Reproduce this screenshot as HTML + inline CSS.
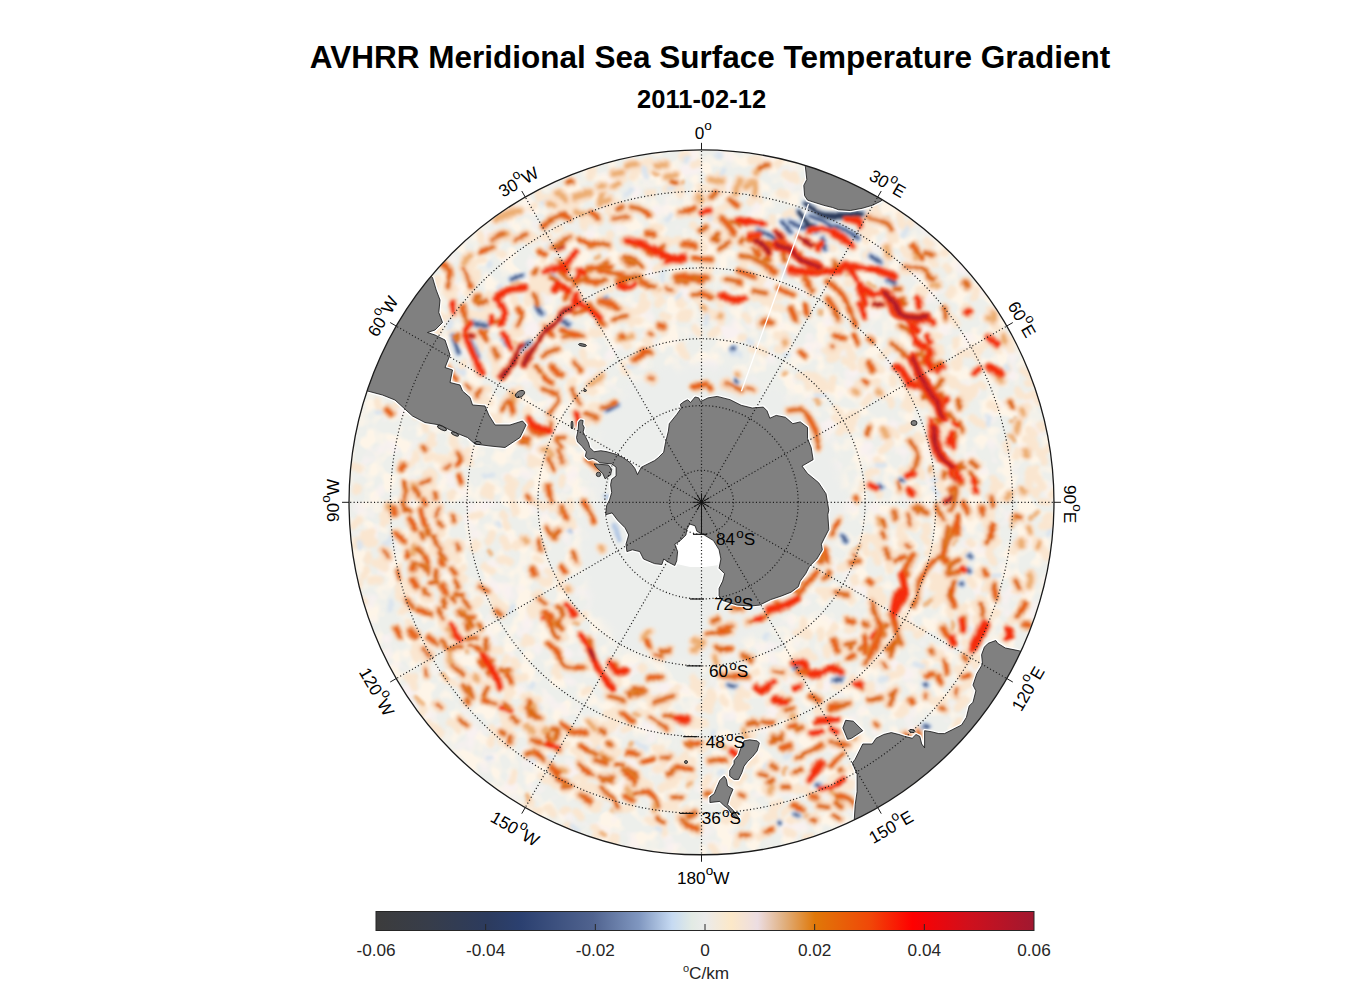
<!DOCTYPE html>
<html><head><meta charset="utf-8"><style>html,body{margin:0;padding:0;background:#fff;width:1356px;height:1000px;overflow:hidden}svg{display:block}</style></head>
<body><svg width="1356" height="1000" viewBox="0 0 1356 1000" font-family='"Liberation Sans", sans-serif'><defs>
<linearGradient id="cb" x1="0" x2="1" y1="0" y2="0"><stop offset="0.0" stop-color="#3c3c3c"/><stop offset="0.08" stop-color="#373d4a"/><stop offset="0.17" stop-color="#2c3b5e"/><stop offset="0.22" stop-color="#2b4070"/><stop offset="0.33" stop-color="#50638f"/><stop offset="0.4" stop-color="#8097c0"/><stop offset="0.45" stop-color="#c6daf2"/><stop offset="0.48" stop-color="#e2eae4"/><stop offset="0.5" stop-color="#ebebeb"/><stop offset="0.54" stop-color="#fce8c8"/><stop offset="0.58" stop-color="#ecdde2"/><stop offset="0.62" stop-color="#e0b080"/><stop offset="0.667" stop-color="#e07808"/><stop offset="0.75" stop-color="#f04808"/><stop offset="0.815" stop-color="#ff0000"/><stop offset="0.9" stop-color="#d0101c"/><stop offset="1.0" stop-color="#a01830"/></linearGradient>
<clipPath id="disk"><circle cx="701.5" cy="502.3" r="352.4723393402665"/></clipPath>
<filter id="bl" x="-5%" y="-5%" width="110%" height="110%"><feGaussianBlur in="SourceGraphic" stdDeviation="1.2" result="b"/><feTurbulence type="fractalNoise" baseFrequency="0.05" numOctaves="1" seed="8" result="n"/><feDisplacementMap in="b" in2="n" scale="8" xChannelSelector="R" yChannelSelector="G" result="d"/><feGaussianBlur in="d" stdDeviation="0.9"/></filter>
<filter id="soft" x="-20%" y="-20%" width="140%" height="140%"><feGaussianBlur stdDeviation="6"/></filter>
<filter id="turb" x="0" y="0" width="100%" height="100%"><feTurbulence type="fractalNoise" baseFrequency="0.06" numOctaves="2" seed="3"/><feColorMatrix type="matrix" values="0 0 0 0 0.992  0 0 0 0 0.915  0 0 0 0 0.81  4.5 0 0 0 -1.95"/></filter>
<filter id="turb2" x="0" y="0" width="100%" height="100%"><feTurbulence type="fractalNoise" baseFrequency="0.05" numOctaves="2" seed="17"/><feColorMatrix type="matrix" values="0 0 0 0 0.95  0 0 0 0 0.88  0 0 0 0 0.88  0 4 0 0 -2.2"/></filter>
</defs>
<g clip-path="url(#disk)">
<circle cx="701.5" cy="502.3" r="352.4723393402665" fill="#edefeb"/>
<rect x="340" y="140" width="724" height="724" filter="url(#turb)"/>
<rect x="340" y="140" width="724" height="724" filter="url(#turb2)"/>
<path d="M701.5 364.3C703.5 364.5 709.5 364.8 713.5 365.3C717.4 365.8 721.4 366.5 725.3 367.4C729.2 368.2 733.0 369.3 736.8 370.5C740.6 371.6 744.4 373.0 748.0 374.5C751.7 376.0 755.3 377.7 758.8 379.5C762.3 381.3 765.6 383.5 769.0 385.4C772.4 387.3 776.0 389.0 779.4 391.0C782.8 393.1 786.1 395.3 789.3 397.6C792.6 399.9 795.7 402.4 798.7 405.1C801.7 407.7 804.7 410.5 807.5 413.4C810.3 416.3 813.0 419.3 815.5 422.5C818.0 425.6 820.5 428.9 822.7 432.3C825.0 435.7 827.2 439.2 829.1 442.8C831.1 446.4 833.0 450.1 834.6 453.8C836.3 457.6 837.8 461.5 839.1 465.4C840.5 469.3 841.7 473.4 842.7 477.4C843.7 481.5 844.5 485.6 845.1 489.7C845.8 493.9 846.5 498.1 846.5 502.3C846.5 506.5 845.8 510.7 845.1 514.9C844.5 519.0 843.7 523.1 842.7 527.2C841.7 531.2 840.5 535.3 839.1 539.2C837.8 543.1 836.3 547.0 834.6 550.8C833.0 554.5 831.1 558.2 829.1 561.8C827.2 565.4 825.1 569.0 822.7 572.3C820.4 575.6 817.8 578.8 815.1 581.8C812.4 584.9 809.6 587.8 806.7 590.6C803.8 593.3 800.8 596.0 797.7 598.5C794.6 600.9 791.3 603.3 788.1 605.5C784.8 607.6 781.4 609.7 778.0 611.5C774.5 613.4 770.6 614.0 767.5 616.6C764.4 619.2 762.5 623.6 759.6 626.9C756.8 630.3 753.7 633.5 750.4 636.7C747.1 639.8 743.6 642.9 739.9 645.7C736.2 648.6 732.3 651.4 728.2 654.0C724.2 656.5 719.9 659.0 715.4 661.2C710.9 663.4 706.2 666.4 701.5 667.3C696.8 668.2 691.9 667.1 687.1 666.7C682.3 666.3 677.6 665.6 672.8 664.8C668.1 664.0 663.4 662.9 658.8 661.7C654.2 660.4 649.6 659.0 645.1 657.3C640.6 655.7 636.1 653.9 631.8 651.8C627.4 649.8 622.8 648.2 619.0 645.2C615.2 642.2 612.3 637.9 609.2 634.0C606.2 630.2 603.4 626.3 600.8 622.3C598.2 618.3 595.8 614.2 593.7 610.1C591.5 606.0 589.6 601.8 587.9 597.6C586.2 593.5 584.7 589.2 583.4 585.0C582.1 580.8 580.9 576.6 580.3 572.3C579.6 568.0 579.5 563.5 579.5 559.2C579.4 554.9 579.6 550.7 580.0 546.5C580.3 542.4 580.9 538.3 581.7 534.4C582.5 530.5 583.5 526.6 584.6 522.9C585.8 519.2 587.1 515.6 588.6 512.2C590.1 508.7 593.1 505.6 593.5 502.3C593.9 499.0 591.7 495.9 591.1 492.6C590.4 489.4 589.9 486.0 589.6 482.6C589.2 479.1 589.0 475.7 589.0 472.1C588.9 468.6 589.1 465.1 589.4 461.5C589.7 457.9 590.1 454.3 590.8 450.7C591.4 447.1 592.2 443.4 593.2 439.8C594.3 436.2 595.6 432.7 597.1 429.2C598.5 425.7 600.1 422.2 601.9 418.7C603.7 415.3 605.7 411.9 607.8 408.6C609.9 405.3 612.3 402.0 614.7 398.9C617.2 395.7 619.8 392.6 622.6 389.7C625.4 386.7 628.2 383.4 631.5 381.1C634.8 378.7 638.8 377.3 642.5 375.7C646.2 374.1 650.0 372.6 653.8 371.4C657.7 370.1 661.6 369.0 665.5 368.0C669.5 367.1 673.4 366.3 677.4 365.7C681.4 365.1 685.4 364.7 689.4 364.5C693.5 364.3 697.5 364.2 701.5 364.3C705.5 364.4 709.5 364.8 713.5 365.3C717.4 365.8 723.3 367.0 725.3 367.4" fill="#eceeec" filter="url(#soft)"/>
<g filter="url(#bl)" fill="none" stroke-linecap="round" stroke-linejoin="round">
<path d="M460 409q3 -1 6 -2M512 489q-2 -0 -3 -2M756 349q5 1 9 3M713 698q-2 -3 -4 -5M531 297q-1 -3 -3 -6M1055 491q-1 3 -3 4M902 592q-1 5 -5 8M899 215q2 4 3 9M420 716q3 -3 4 -7M842 788q-0 2 -1 4M590 364q2 1 4 0M814 174q3 1 4 -1M494 244q-1 2 0 4M553 781q-2 -1 -3 -1M535 384q1 -5 -0 -10M886 290q2 4 5 8M781 695q-1 2 -4 2M435 302q1 -2 1 -3M640 306q4 1 7 -3M663 315q3 2 6 3M648 786q-1 -1 -2 -2M940 594q-3 2 -5 5M887 350q-2 3 -5 6M879 544q-3 -3 -6 -5M669 244q2 -2 0 -4M950 317q4 2 6 6M607 285q2 2 3 5M405 360q-1 -3 -1 -7M598 376q2 4 3 7M433 352q-1 -1 -3 -2M588 422q0 -4 -0 -8M953 362q1 2 2 4M799 676q-3 -1 -5 -3M582 306q5 0 8 -2M454 724q-2 -0 -4 -1M889 236q3 -2 5 0M665 756q-3 -2 -7 -3M1023 585q1 3 0 5M431 600q-5 -0 -8 -3M797 787q-1 1 -2 2M837 776q-4 1 -7 4M639 164q3 3 6 4M479 402q5 -2 10 0M787 783q-2 4 -6 4M866 386q-3 -1 -7 -2M893 379q0 2 0 4M851 784q-1 2 -1 4M653 234q5 1 8 5M999 678q-2 1 -3 4M410 462q1 -2 4 -4M967 306q-2 5 2 10M359 469q-3 -2 -6 -2M976 619q3 4 5 9M488 542q3 -3 4 -8M598 744q-2 -5 -6 -7M1017 544q-2 3 -3 7M528 341q2 1 4 1M770 698q-1 3 -2 5M851 731q-4 -1 -7 2M447 292q3 -2 7 -4M568 810q-3 -0 -4 2M415 659q-1 -3 -2 -5M956 340q0 3 1 6M428 479q-1 -2 -2 -4M1029 481q-0 2 -1 3M722 247q3 -0 6 -2M985 524q2 1 2 4M805 185q3 -3 7 -1M414 494q2 0 5 0M752 194q5 1 8 5M472 550q2 -3 4 -6M891 430q3 2 5 6M490 680q2 -3 4 -7M1045 551q2 1 4 3M898 638q-4 2 -4 6M719 216q-1 2 -2 4M516 512q-2 -5 -3 -9M480 350q1 -4 1 -8M1034 382q-3 -0 -6 1M713 847q3 3 4 7M840 183q4 -0 7 0M888 563q0 3 1 6M685 755q-3 3 -6 6M1037 397q1 2 1 4M475 281q2 -3 3 -7M510 293q1 -2 4 -3M946 266q1 2 2 4M934 674q-0 2 -1 3M514 302q1 -2 0 -4M863 234q2 4 5 7M777 806q-3 3 -6 7M994 479q1 4 5 7M593 332q4 1 8 1M421 371q5 2 7 6M598 804q-5 -1 -10 0M570 662q-3 -1 -6 -1M519 430q2 -4 6 -7M711 312q1 1 3 2M763 233q3 2 7 4M591 381q3 2 7 1M720 305q0 -3 1 -6M539 199q-0 -4 -0 -8M414 687q-2 -5 0 -9M953 289q-1 3 -3 6M422 657q-3 -3 -7 -5M822 710q-3 -0 -5 1M598 366q1 -1 3 -2M939 348q0 2 1 4M658 303q1 -2 3 -3M706 316q5 -0 8 -3M862 361q0 3 0 7M748 764q2 -4 3 -8M433 479q2 -5 -2 -7M573 526q-3 -3 -8 -2M806 652q-4 3 -6 7M993 488q-0 2 1 4M441 556q3 -3 7 -5M426 665q-1 -4 -2 -9M428 459q3 -0 5 -2M644 251q1 -1 2 -3M954 448q-0 2 -1 3M726 805q-1 1 -2 3M789 809q-2 2 -4 4M588 690q-2 1 -4 2M554 778q-0 -4 0 -8M976 678q-3 2 -6 5M546 614q-1 -2 0 -4M834 627q-2 4 -4 8M538 290q2 -3 5 -3M943 524q4 4 8 5M469 316q3 -0 5 -0M584 616q-3 3 -6 6M719 317q2 2 3 5M658 325q3 3 5 6M884 435q1 1 2 3M609 240q2 -2 1 -5M876 472q-4 -0 -6 3M673 782q2 -4 7 -6M778 348q2 1 5 0M831 801q-1 1 -2 2M1024 369q3 2 6 5M499 373q1 -2 3 -4M569 621q-3 -1 -6 -2M567 746q-4 -1 -7 -3M423 302q-1 -4 -2 -7M709 190q-4 -1 -9 -2M479 600q-2 3 -5 4M906 357q2 3 5 6M539 560q-2 -1 -3 -1M1030 430q3 -0 5 3M698 302q-1 -2 -1 -4M532 464q1 -2 1 -5M914 590q-3 1 -6 -1M974 584q-2 -2 -4 -3M1039 452q2 2 3 4M818 820q-3 0 -6 -1M1036 491q-2 2 -1 4M582 790q-0 -4 2 -8M980 385q1 2 3 3M806 790q-4 -1 -8 0M574 299q2 0 4 2M530 208q2 -1 3 -2M452 461q-0 -4 -1 -7M768 301q2 4 5 7M702 248q2 -3 0 -6M532 288q2 -4 1 -8M847 281q5 -1 10 2M864 773q-1 3 -3 5M781 194q2 2 4 2M958 559q3 1 6 4M814 659q-3 -1 -5 -3M767 297q-3 3 -3 6M727 821q-1 -1 -3 -1M416 458q1 -2 0 -4M699 693q-2 -4 -6 -6M754 734q-3 -0 -6 -0M916 777q1 2 2 3M667 190q3 1 7 -0M932 393q3 4 8 6M974 604q0 5 4 8M379 580q-3 -1 -6 0M588 668q-0 -2 -2 -4M508 547q-1 -5 -5 -8M798 818q-4 2 -7 4M917 525q-2 2 -2 5M670 805q-5 0 -9 2M647 192q3 -0 5 -0M505 608q-3 -2 -6 -5M544 237q3 0 5 -1M516 666q-1 -2 -1 -5M899 553q-3 -0 -7 0M599 834q-1 2 -4 3M506 662q1 -3 1 -5M820 682q-1 2 -1 4M874 614q-1 2 -0 4M414 405q1 -3 2 -6M553 508q-2 -1 -4 -3M393 370q2 -2 1 -4M974 419q3 4 8 5M491 305q0 -2 -0 -5M457 730q-1 -2 -2 -3M559 676q-1 -2 -2 -4M732 803q-1 -2 -3 -5M547 292q-1 -3 -2 -7M530 802q-3 0 -4 3M583 222q1 2 1 4M459 403q0 -4 -1 -8M706 707q-3 0 -6 2M843 567q-2 -1 -4 0M490 496q0 -4 2 -8M564 772q-5 -1 -9 2M460 639q-4 -2 -7 -6M965 396q-0 4 -1 8M468 678q2 -0 3 1M867 543q-2 5 1 10M925 538q2 2 4 4M868 229q3 2 7 3M437 728q-5 -1 -8 -4M852 619q-3 1 -6 2M926 526q1 3 2 7M581 817q-2 -3 -4 -5M829 358q4 -1 8 -2M558 457q-2 -2 -2 -5M1028 491q4 1 8 -1M854 578q0 3 2 5M1043 526q4 -0 9 0M744 777q-3 2 -5 5M546 326q3 -4 4 -9M780 803q-3 3 -7 2M807 632q-1 1 -1 3M595 721q1 2 1 4M709 273q-3 2 -3 5M534 614q-2 -2 -3 -4M554 815q-3 -4 -7 -7M495 706q-4 -1 -7 -3M474 266q-1 -2 -1 -4M415 592q-3 -2 -4 -4M445 380q1 -4 2 -7M464 345q3 -2 5 -3M585 789q-3 2 -6 -1M873 488q3 3 6 7M619 181q3 1 6 -2M813 814q-2 0 -3 2M383 525q3 -4 0 -9M866 214q1 3 3 5M939 336q-2 -1 -4 -1M613 714q-4 1 -7 1M435 288q2 -4 3 -9M505 741q-2 -1 -4 -1M805 277q3 -1 6 -3M632 280q3 1 5 -1M830 328q5 -0 9 2M450 320q1 -3 2 -6M942 428q1 4 5 6M871 684q-3 1 -6 1M891 241q2 -1 4 -1M657 269q3 -3 8 -5M538 700q-4 0 -8 0M1049 448q-3 3 -6 6M1007 496q-3 1 -5 4M902 487q-1 2 -1 4M974 657q-4 0 -7 3M778 307q2 -1 4 1M975 290q-1 3 -1 7M741 338q2 0 4 -0M850 591q1 4 2 8M937 582q-3 2 -4 6M966 700q-4 3 -8 6M776 336q2 -0 4 1M917 455q2 -0 3 1M847 417q3 3 6 4M391 360q-3 -0 -6 -0M688 810q-3 1 -5 4M461 579q2 -0 3 -1M481 667q-1 -3 -3 -5M735 763q-1 1 -3 0M1046 519q2 -2 5 -2M629 726q-2 2 -4 3M706 233q2 1 4 2M416 649q-0 -3 1 -5M863 484q-0 3 -2 5M501 253q1 1 2 2M947 377q3 4 5 8M982 508q1 4 0 8M1007 653q-2 4 -5 7M914 440q2 -2 4 -3M524 677q-3 2 -6 1M744 262q-0 2 1 4M592 667q-1 -4 -4 -6M482 395q2 -3 6 -4M539 811q-2 -0 -5 -1M689 785q1 -3 0 -6M520 333q-5 1 -9 -0M735 763q-3 1 -5 1M437 418q1 -5 1 -10M966 686q-1 2 -3 3M913 697q-2 4 -7 6M502 732q1 -2 2 -4M676 809q-3 -1 -7 -1M699 724q-1 -2 -4 -3M484 494q1 -4 4 -8M425 428q-1 -4 1 -8M681 821q2 -2 3 -5M510 563q-4 -3 -9 -3M541 730q-0 -2 -2 -3M569 440q4 1 9 2M940 625q0 3 1 7M454 409q2 -0 4 -0M635 278q-1 5 -4 9M1007 368q-2 3 -4 6M481 316q3 -2 6 -3M1021 410q0 4 0 9M1018 451q-0 3 -2 5M520 397q-1 -4 -2 -7M851 362q1 2 2 4M545 779q-1 -2 -4 -3M851 353q1 2 2 4M558 229q2 -1 3 -1M741 704q2 3 5 3M1038 478q1 4 4 8M756 280q4 -0 7 -2M917 768q-5 -2 -10 2M914 400q-4 4 -4 9M620 340q5 2 8 6M876 664q-2 1 -2 3M923 571q-1 2 -0 4M880 591q-2 5 1 9M616 663q-4 1 -8 2M494 348q2 -1 4 -1M1047 554q0 2 -1 3M683 315q2 0 5 -0M549 286q1 -1 1 -3M507 712q-2 1 -5 2M411 342q-1 -3 -3 -6M737 844q-1 -5 -0 -9M967 472q0 4 2 8M858 738q-2 -0 -4 -0M488 417q-3 0 -7 1M571 509q1 -4 -1 -7M543 506q-5 -2 -9 -3M923 628q-2 4 -6 7M870 382q3 0 7 0M441 534q-0 -4 -3 -6M748 695q-5 -1 -8 -6M786 215q4 -3 9 -1M597 808q-1 -2 -3 -1M760 283q-0 -5 3 -9M624 364q-2 5 1 9M632 323q3 -4 7 -2M993 612q-4 2 -8 1M961 404q3 1 5 3M746 816q-1 4 -4 7M672 728q-2 -4 -6 -5M908 396q-0 5 -2 10M751 160q3 -0 7 -1M433 550q-1 -2 -1 -4M607 687q-2 -2 -4 -4M481 240q1 -2 0 -5M949 739q1 4 4 7M973 388q-0 3 -1 7M804 753q-2 1 -4 1M657 293q4 -2 8 -3M410 587q-2 -3 -4 -5M1019 616q-4 2 -7 4M548 580q-3 1 -6 1M906 227q2 -1 4 -3M833 352q3 -1 6 -1M753 298q3 -1 6 0M602 736q-2 1 -5 1M447 547q1 -3 3 -5M776 165q3 -2 5 -6M991 405q3 0 5 3M729 303q-2 -2 -4 -4M685 815q-2 2 -5 2M870 397q-3 3 -5 7M496 376q-1 -4 2 -8M642 306q1 -5 2 -10M560 786q-3 1 -5 -1M428 514q4 -3 5 -8M773 297q4 -0 7 -1M970 489q2 -2 5 -3M588 221q2 -1 5 0M970 542q1 2 3 3M905 249q1 4 4 7M769 827q-2 2 -3 5M483 326q2 -1 4 -1M877 460q1 3 4 4M547 198q4 1 8 -0M932 260q1 2 3 4M677 688q-2 2 -4 3M499 422q0 -2 -1 -5M383 568q-4 -3 -8 -5M544 261q1 -3 3 -5M444 556q-4 -1 -8 -2M902 526q-1 4 -1 9M783 708q-4 -2 -5 -6M407 591q-4 -3 -9 -3M873 206q2 5 4 9M956 400q4 -0 7 -2M516 546q1 -2 3 -3M561 736q-1 1 -3 2M768 793q-1 -3 -2 -5M925 663q-0 4 -2 9M997 613q-2 -1 -4 -1M950 431q2 4 5 7M480 311q3 -2 6 -4M700 826q-3 1 -6 1M665 707q-1 -2 -1 -3M653 706q-4 -3 -5 -8M487 698q-2 -1 -3 -2M463 460q2 -5 4 -9M836 684q2 1 3 3M726 239q2 -1 4 -2M806 380q1 3 2 6M692 213q2 -1 3 0M801 655q-4 1 -9 3M851 627q-2 0 -4 2M508 698q1 -3 -1 -7M418 332q-0 -5 -3 -9M647 713q-4 1 -8 -2M551 623q-0 -2 1 -4M903 271q5 1 10 -1M921 321q-3 2 -7 4M650 787q-2 0 -4 2M1030 471q-1 4 1 8M916 487q1 4 2 8M655 242q3 2 3 5M611 729q-4 -0 -7 -3M806 726q-2 3 -7 4M830 591q-4 -0 -9 -0M903 537q-1 3 -2 6M826 246q4 1 8 2M390 392q-4 -0 -7 -3M733 287q1 -1 3 -2M531 377q-1 -2 -1 -3M582 239q1 2 2 5M789 254q2 -3 2 -6M880 745q-4 -1 -7 0M368 543q2 -4 2 -9M422 557q-1 -3 -3 -3M843 428q-1 2 -3 4M795 176q0 2 1 4M927 242q1 2 4 3M716 193q4 -1 7 -3M896 675q-4 1 -8 3M513 725q-4 -2 -9 -3M649 339q0 -4 2 -8M1026 438q2 1 5 2M557 317q3 -4 4 -8M865 254q2 -0 4 -2M583 366q2 -1 4 -2M845 361q2 1 4 1M661 749q-4 -0 -7 -1M788 714q-4 0 -8 1M582 763q-0 -3 -1 -5M910 390q-0 2 -1 4M547 447q2 -2 4 -5M388 334q4 1 6 5M743 246q3 -1 7 -1M636 243q2 -4 7 -5M807 631q-5 0 -10 1M458 560q-4 -2 -7 -5M810 191q0 2 0 4M436 335q-1 -3 1 -7M692 760q-2 1 -4 1M464 364q-0 4 -0 9M784 335q2 4 4 7M792 834q-2 -1 -5 -1M367 560q1 -2 2 -4M749 202q3 -2 5 -4M597 269q2 -3 6 -4M936 548q-4 2 -8 5M614 727q-1 -5 -3 -8M853 620q-2 -1 -4 -3M981 659q-4 2 -6 6M493 571q-3 -3 -7 -5M981 350q2 -5 7 -7M811 836q-2 1 -5 1M559 205q4 3 9 1M405 395q-2 -4 -4 -7M866 224q1 4 -1 8M470 295q-2 -1 -3 -2M929 424q-1 2 -1 4M676 241q2 -0 2 -2M924 288q1 1 2 3M990 617q-2 1 -3 1M886 644q-2 -0 -3 -2M598 312q3 1 6 1M491 355q4 3 5 8M710 702q-1 3 -2 7M569 829q-2 -2 -3 -3M1019 583q-2 4 -3 8M872 634q-1 -4 -1 -8M733 194q3 -2 5 -4M554 326q1 3 3 3M1035 394q-4 3 -8 3M685 355q-2 -5 -4 -9M644 170q2 -0 4 1M414 416q1 -3 2 -5M739 698q-2 4 -2 9M980 598q4 2 4 7M467 271q4 2 8 4M359 586q0 -1 1 -3M525 642q1 -3 1 -6M875 365q2 3 5 4M951 607q-1 4 0 9M449 332q2 -1 3 0M869 237q-1 2 -2 4M470 323q1 4 5 4M438 736q2 -2 2 -4M527 368q2 -4 1 -9M996 342q0 2 2 3M833 593q-3 2 -7 4M608 212q3 -2 4 -6M661 769q-3 -1 -5 1M787 727q2 -4 3 -8M965 607q-2 3 -4 6M472 629q-3 -0 -5 2M738 801q-1 4 -6 6M902 373q-0 2 -0 3M906 615q-1 3 -1 6M946 668q-1 3 -2 6M433 443q-4 -3 -2 -8M508 526q0 -2 -1 -3M942 580q-4 -3 -9 -2M945 475q-4 3 -5 8M753 351q2 -1 3 -2M819 630q2 4 2 8M643 671q-1 -2 -2 -3M810 227q0 -4 -0 -9M774 815q-4 1 -8 3M616 837q-2 5 -2 10M997 347q0 2 2 3M355 491q2 -1 2 -3M562 586q-2 -5 1 -9M942 586q-1 3 -3 5M941 599q-2 2 -4 5M449 295q2 -1 4 -0M420 338q-1 -1 -1 -3M892 777q-2 -1 -4 -3M693 164q3 0 5 -1M843 348q3 -2 5 -0M717 791q-0 -2 -1 -4M558 668q2 -4 6 -7M961 388q3 0 5 2M708 778q0 4 -3 7M842 297q3 -2 7 -3M422 398q-1 -2 -1 -4M1016 390q1 3 4 5M746 316q2 2 3 4M872 592q0 4 0 7M416 540q-2 -2 -4 -5M683 306q-3 -2 -4 -6M630 807q-4 1 -7 3M889 444q-3 4 -7 7M912 628q-4 -1 -8 -1M411 630q-3 -3 -3 -7M421 393q4 1 8 -0M355 546q2 -2 2 -5M852 801q-2 2 -6 4M809 376q-5 -0 -9 -0M418 578q1 -3 1 -6M539 463q-3 -3 -7 -5M917 436q3 2 5 4M642 760q-2 -2 -5 -3M669 783q-3 3 -7 5M903 471q2 1 4 3M597 272q3 0 4 -2M499 650q-3 1 -7 0M652 824q-2 -2 -5 -4M472 517q4 -2 8 -3M362 543q2 -4 2 -8M941 653q-2 2 -4 5M626 319q-2 -5 -1 -10M365 601q-1 -1 -3 -2M867 538q-2 0 -4 2M402 611q4 -4 5 -9M456 446q-3 -3 -2 -8M956 694q-2 -0 -4 1M901 428q5 -0 9 -3M388 521q-1 -4 -3 -7M581 776q-3 1 -5 2M572 521q-2 -3 -5 -7M708 745q-2 3 -5 6M398 403q2 -1 4 -2M844 652q-1 -5 -4 -9M987 584q-0 2 -1 4M732 812q1 4 1 7M879 579q-3 1 -5 5M434 393q-2 -4 -1 -9M1036 470q-1 4 -5 6M869 624q-0 4 -2 7M444 629q-1 -4 -3 -7M617 709q-3 1 -7 4M813 209q3 -2 6 0M589 776q-3 -2 -5 -5M937 513q-1 5 1 10M1034 443q0 2 -0 3M541 197q2 -0 4 1M584 614q-2 2 -3 4M696 684q-1 -3 -3 -6M929 402q4 3 5 8M364 576q3 -3 2 -7M693 776q-2 2 -3 4M701 684q-3 -1 -7 -1M899 361q2 -1 5 -0M830 307q1 5 6 5M875 756q-1 2 -2 5M550 613q2 -2 4 -4M952 460q-2 4 -7 6M411 682q-2 -2 -4 -4M991 513q0 3 -0 6M479 260q2 1 5 0M937 433q2 2 4 3M562 483q0 -2 1 -4M804 621q-1 4 -1 8M509 696q2 -2 4 -4M550 573q-1 -1 -3 -2M1041 502q4 0 7 1M584 357q-0 -2 -1 -3M712 335q3 -2 7 -5M531 641q-1 -2 -1 -3M509 343q-0 -3 -2 -5M505 516q-1 -1 -3 -2M852 768q4 -0 7 -2M668 755q-1 5 -3 9M965 643q4 2 4 6M475 647q-1 -4 -3 -8M591 407q2 -1 4 -1M512 495q-1 -2 -2 -4M881 548q2 2 3 4M459 572q2 -2 5 -4M590 796q1 -4 1 -8M693 328q2 4 6 5M943 701q-4 -0 -9 -0M883 602q-4 3 -8 1M681 318q2 -0 4 -0M990 311q3 2 7 5M723 179q-2 -2 -5 -4M771 221q-1 -2 -0 -5M511 780q1 -4 2 -7M653 229q4 -1 8 -1M673 698q-3 2 -5 5M948 582q-4 -0 -7 0M557 446q-1 -2 -2 -4M528 696q-2 2 -4 2M692 290q3 3 8 3M935 358q-2 2 -5 3M905 710q-3 2 -6 4M815 377q4 3 7 7M399 597q0 -3 0 -6M599 295q2 -0 4 -0M995 327q3 2 7 5M849 421q-0 4 2 7M852 680q-1 4 -4 6M565 575q-4 -1 -7 1M957 524q1 2 1 4M765 834q-3 1 -6 3M785 673q0 2 0 4M722 792q-1 -4 -2 -9M781 821q-4 1 -6 5M731 777q-2 -0 -3 0M816 384q2 5 3 9M617 723q-1 -1 -2 -3M732 766q-1 -3 -0 -6M702 267q4 -0 8 1M536 596q2 -2 3 -4M435 315q4 0 8 2M961 355q3 -1 7 -0M597 831q-1 -2 -4 -3M994 503q-2 2 -2 5M900 668q2 2 1 4M485 320q-2 -5 -4 -9M726 702q-3 -1 -3 -3M614 836q-1 2 -3 4M785 174q3 2 6 4M646 161q2 -0 4 -1M581 756q-3 -3 -6 -5M526 489q3 -2 5 -4M597 379q2 -1 4 -1M408 380q0 -2 1 -4M963 668q-3 1 -6 2M866 584q4 1 6 5M573 389q-0 -4 -3 -7M1028 407q-1 2 -1 3M633 312q4 -2 9 -4M902 709q-1 2 -2 5M543 276q3 0 5 1M495 734q-1 -3 -4 -5M798 271q2 -2 3 -3M967 655q0 3 1 5M526 413q2 -1 4 -2M572 202q2 -0 4 -0M493 604q1 -2 1 -4M619 685q0 -2 -1 -4M707 708q-1 -4 -1 -8M1041 425q1 1 2 3M874 301q-2 2 -3 3M984 568q-5 1 -6 6M998 542q-3 3 -6 6M439 459q3 -1 6 0M842 185q2 0 5 1M883 624q1 2 2 3M694 227q-1 -3 -3 -3M835 419q4 2 8 4M832 380q-0 4 -1 9M494 685q-4 -3 -8 -2M560 438q0 -2 1 -3M623 208q-2 -3 -6 -5M542 611q-2 -4 -6 -5M453 519q3 1 6 -1M548 468q-1 -4 -6 -5M876 555q2 3 1 6M907 361q-0 4 -0 9M494 598q-1 -2 -3 -2M493 420q-1 -1 -1 -3M587 390q4 0 7 2M663 824q-2 5 1 10M543 748q-0 -2 -1 -4M903 381q2 -1 4 -2M933 475q2 5 6 8M402 535q-2 -1 -3 -4M629 311q3 0 7 0M967 554q-2 2 -3 5M883 599q-3 -5 -9 -5M757 671q-2 0 -4 1M1011 342q1 4 0 8M1032 437q2 4 1 8M953 380q2 2 4 5M396 536q2 -1 4 -1M630 718q-2 -4 -7 -5M959 721q-3 3 -4 7M943 253q3 -3 7 -5M882 262q1 1 2 3M823 804q-2 -0 -4 -2M488 295q2 2 4 1M953 735q-0 5 -4 9M1034 540q2 2 1 5M726 686q-2 0 -3 0M837 300q3 3 4 7M529 236q3 1 6 2M599 249q2 -4 3 -8M829 648q-3 1 -3 5M591 176q2 -3 2 -6M527 303q-0 -2 1 -4M592 276q2 -1 5 -2M359 520q-4 2 -6 5M889 690q-2 2 -3 5M959 465q1 2 3 3M479 647q-4 -0 -8 -1M553 509q1 -3 -0 -6M683 157q1 -2 3 -3M564 637q-5 -0 -9 -2M1044 548q2 3 4 6M961 396q4 2 8 3M889 398q1 3 3 6M833 202q2 -2 5 -2M829 286q-2 -4 -3 -8M453 644q1 -2 3 -3M514 735q-4 -1 -6 -5M958 361q-0 3 -2 5M947 666q1 4 1 7M703 722q-5 -1 -9 2M720 212q3 -2 6 -5M975 349q2 4 2 9M570 388q2 -3 3 -7M433 485q-4 -1 -7 -4M383 564q-1 -2 -2 -3M733 803q-3 -2 -5 -4M902 787q-3 1 -5 3M852 415q2 0 5 -0M645 342q2 2 4 3M834 283q2 5 4 9M470 465q-1 -3 -2 -6M515 483q-4 -2 -7 -5M889 429q-1 3 -1 6M826 349q3 2 7 2M868 685q3 3 5 8M540 550q-4 -3 -6 -7M1002 635q2 4 5 7M618 752q-3 2 -6 4M528 241q2 -1 4 -3M451 498q-1 -3 1 -5M970 510q1 4 1 7M942 486q0 2 0 4M680 195q2 -2 2 -4M426 449q1 -5 4 -9M623 717q-3 -3 -7 -2M919 289q2 3 4 6M430 495q-3 -4 -8 -6M395 571q2 -3 5 -4M920 470q1 3 2 6M644 785q-3 -3 -4 -8M383 410q-3 -4 -6 -8M526 709q-3 -0 -6 -0M835 408q2 3 5 4M600 793q-1 -1 -3 -2M679 801q-3 2 -6 3M535 283q3 -1 7 -2M369 545q2 -2 6 -2M399 337q-3 -2 -6 -4M684 797q-4 -0 -8 0M1006 445q1 3 1 5M822 383q2 2 3 4M990 553q2 4 3 8M636 172q-1 2 -2 5M405 391q4 -2 6 -5M917 401q3 3 6 5M490 743q-1 -2 -0 -4M1043 456q2 3 2 7M755 760q-1 -4 -5 -5M453 683q-4 -1 -7 -2" stroke="#fae6d0" stroke-width="8"/>
<path d="M478 309q3 -2 5 -5M717 155q1 1 3 2M711 219q3 -4 3 -9M729 229q4 -0 9 -1M927 751q-3 0 -4 3M730 201q4 -0 8 2M381 358q4 1 9 1M706 323q2 -4 1 -8M530 687q2 -1 2 -3M426 533q-3 -4 -3 -8M837 670q-1 3 0 6M447 389q4 0 9 1M843 204q1 4 4 7M447 327q1 -3 4 -6M722 772q-2 0 -4 2M914 760q-1 3 -2 6M817 394q3 2 7 1M988 416q-0 4 -1 7M385 544q5 -1 7 -6M500 526q-1 -2 -2 -3M779 267q4 3 5 9M862 197q5 2 7 7M929 346q2 2 2 5M834 638q-0 2 -2 4M466 605q1 -4 2 -8M786 354q2 -1 4 -0M970 629q-2 3 -5 5M577 831q-3 -2 -6 -4M790 752q-2 3 -5 4M464 374q0 -2 2 -3M810 262q0 3 0 6M450 394q1 -5 5 -8M476 302q2 1 3 2M963 528q-3 2 -5 4M1005 366q0 2 2 3M933 480q2 -1 3 0M912 522q-0 3 2 5M605 757q-4 -4 -5 -9M1054 529q-3 3 -4 6M557 607q-4 -2 -7 -4M540 709q-2 -2 -3 -5M628 366q4 0 7 -2M750 341q2 2 3 5M507 613q2 -4 5 -7M676 297q2 -0 3 -2M551 758q-2 1 -5 2M490 758q-2 0 -3 1M466 374q-4 -1 -8 -4M547 248q2 -3 5 -6M667 219q2 -2 4 -4M933 488q2 4 5 6M992 577q4 -1 8 -2M923 667q-4 -2 -9 -3M884 465q-3 1 -7 0M687 157q-2 1 -2 3M542 204q3 -0 6 -3M360 549q-1 -4 -1 -7M713 730q-1 5 -2 9M663 281q0 -4 0 -8M769 635q-2 1 -4 3M377 412q4 -1 8 -2M733 354q5 -1 8 2M817 184q2 -1 5 -2M490 267q1 -2 1 -4M644 748q-4 -2 -7 -4M767 765q-2 3 -5 6M391 609q1 -4 0 -7M794 272q4 -4 9 -4M645 177q-3 -4 -2 -9M670 190q5 -2 8 -6M485 475q4 1 8 0M625 196q4 -2 7 -6M907 228q-2 4 -4 7M535 759q-4 -1 -7 -3M659 832q-2 -2 -4 -2M497 289q2 -1 3 -3M721 176q2 -3 3 -6M887 679q-4 1 -7 1" stroke="#dae4ee" stroke-width="5"/>
<path d="M821 310q0 2 0 4M956 540q-1 2 -2 4M787 766q-1 4 -2 7M595 258q2 -0 4 -1M446 679q-1 -3 -3 -6M654 290q2 -0 5 -1M491 440q6 0 9 -5M723 746q-3 -2 -7 -3M579 625q-2 -1 -4 -2M423 704q-4 -3 -7 -7M652 172q3 2 6 2M512 341q3 0 5 4M848 268q-2 3 -2 6M676 184q4 1 8 -1M783 374q1 -1 3 -2M860 546q-3 4 -8 5M953 564q1 3 1 5M637 274q3 -4 3 -9M806 813q-1 1 -1 3M1013 434q-1 2 -1 4M868 285q3 2 7 3M632 744q-2 1 -2 4M527 799q1 -2 -0 -4M410 558q2 -2 4 -2M466 433q-1 -2 -3 -4M639 715q-3 -2 -6 -3M952 623q1 5 -2 9M1015 419q-0 4 -4 4M513 282q3 -1 6 1M931 467q-1 2 -1 4M817 399q2 3 2 6M605 834q-2 -1 -4 -1M791 310q3 3 8 4M842 291q-0 2 -1 5M468 654q-0 -2 -0 -4M690 783q-2 1 -3 2M497 433q-4 1 -8 -1M1008 437q3 3 6 5M1015 517q-3 4 -4 9M492 554q-1 -2 -3 -3M836 270q1 1 0 3M594 657q-2 -2 -5 -3M619 811q-4 1 -8 -1M544 227q2 -2 6 -3M1037 513q-3 3 -7 5M732 750q-5 -1 -9 -3M932 599q-3 3 -7 5M888 219q2 4 4 8M429 370q5 -2 6 -7" stroke="#eeb27c" stroke-width="4.5"/>
<path d="M495 321q2 -0 3 0M456 341q1 -2 2 -3M465 334q5 -0 9 2M453 336q2 -1 4 -2M550 278q4 1 7 3M484 335q1 -3 2 -5M491 321q-1 -2 -1 -5M534 273q2 -1 2 -3M465 329q3 -3 6 -5M475 302q1 -4 4 -6M558 247q2 -1 3 -1M700 231q4 -1 7 -4M586 271q4 -0 8 -2M575 284q2 -4 3 -9M713 238q2 2 5 2M589 246q4 -0 7 -2M626 241q5 1 9 4M560 262q5 1 8 5M632 264q2 1 3 1M568 279q2 -0 4 -0M714 237q2 -2 4 -3M741 242q1 -2 2 -3M605 264q2 -1 3 -2M566 277q-4 -3 -6 -7M625 261q2 2 5 5M730 222q5 0 8 4M600 186q2 -0 3 -0M754 194q1 -5 0 -10M549 205q2 0 4 0M711 199q3 -3 5 -7M737 186q2 -3 3 -6M698 197q2 2 4 4M672 182q2 1 4 1M760 168q3 -2 6 -2M756 173q2 -5 8 -6M504 235q2 -0 4 -2M510 213q4 -2 9 -2M735 194q2 -3 1 -6M605 202q2 1 4 -1M585 193q2 -2 5 -2M612 188q3 -2 6 -4M600 204q0 -5 2 -9M628 167q3 -2 8 -2M745 186q3 -5 9 -4M620 209q2 -1 3 -2M465 263q-0 -5 4 -9M666 177q5 -1 9 -3M565 199q-3 -3 -7 -5M568 184q2 -1 4 -1M576 211q3 2 7 3M741 256q5 1 10 1M785 243q2 4 6 7M784 255q0 3 0 7M822 243q-2 3 -2 7M750 235q5 -1 9 0M898 300q3 2 6 3M766 244q3 1 5 2M765 259q2 0 5 1M835 263q-1 5 3 9M875 305q4 0 8 -1M795 258q3 -3 6 -4M749 238q2 -0 4 1M894 288q2 -0 5 0M922 354q-3 1 -7 0M931 358q2 2 1 5M902 299q1 3 3 5M931 357q-2 3 -4 5M971 474q2 5 6 8M933 429q1 5 -1 9M925 320q4 1 8 3M972 462q3 2 6 5M943 367q-3 2 -5 5M953 424q1 1 3 2M958 400q2 4 3 8M927 348q2 4 6 6M953 434q2 4 1 7M925 347q2 2 5 4M950 437q2 3 3 6M927 395q-3 1 -3 3M962 464q-1 2 -3 4M928 336q1 3 3 6M946 399q-1 2 -3 4M940 394q2 3 2 6M928 359q1 4 2 8M900 327q4 2 8 5M936 419q1 2 3 4M965 468q-2 0 -5 1M952 495q-2 3 -6 5M975 489q1 1 1 3M959 423q1 5 3 9M941 363q-3 4 -7 7M922 380q-0 2 0 4M943 399q-4 2 -9 3M932 365q-1 2 -1 5M957 479q3 1 4 4M931 350q-0 3 -0 7M958 474q-0 2 -2 4M952 472q0 2 0 3M973 480q1 2 -0 3M945 474q-1 2 -1 3M935 438q2 3 4 6M917 298q3 4 3 9M926 357q-0 4 -1 7M949 413q2 3 4 6M925 391q3 4 4 8M951 440q1 3 2 6M942 380q-3 3 -6 7M950 434q-3 4 -2 8M915 339q2 4 5 7M925 358q-1 2 -2 4M915 601q-2 2 -3 5M918 507q3 4 8 5M896 643q-4 2 -9 4M950 567q-1 1 -1 3M868 626q-2 -0 -4 -2M937 506q2 4 5 8M885 624q-3 3 -7 5M896 640q-5 2 -6 7M893 647q-1 4 -3 7M882 631q1 1 1 3M877 633q-1 2 -3 4M952 531q-0 5 -4 8M959 560q-4 1 -7 4M916 253q-0 3 -0 5M1021 541q-1 2 -0 4M998 373q-0 4 2 7M1020 491q1 1 3 2M1004 339q2 2 3 4M934 285q3 -2 5 1M944 308q3 4 2 10M1017 516q2 1 3 1M1019 423q-1 4 -3 9M966 313q1 -2 3 -2M1004 337q0 2 1 5M1027 450q0 3 0 5M964 283q1 1 2 3M1022 410q1 2 2 4M993 314q0 3 0 7M974 372q3 -1 5 -3M887 247q2 4 2 9M1039 543q0 2 -1 3M927 254q3 0 6 2M1009 401q1 3 3 6M1031 576q2 5 -1 9M1017 517q-2 1 -3 3M1028 527q1 2 1 4M927 272q2 5 7 6M1009 495q0 2 -1 4M988 318q3 1 6 1M885 430q1 4 1 7M883 520q0 3 1 6M870 428q-2 3 -2 6M879 518q-0 3 -0 7M859 561q-5 2 -10 3M817 701q-1 -2 -1 -4M751 659q-3 -3 -8 -3M849 644q1 2 2 4M838 666q-2 -1 -4 1M735 610q3 -1 7 -1M819 562q5 -3 2 -9M824 578q4 -2 3 -7M777 603q1 1 3 2M793 589q1 -1 2 -2M791 585q5 -1 9 -3M713 621q3 -1 5 -2M794 590q3 2 6 2M676 770q-3 4 -7 4M697 827q-2 1 -5 2M426 594q0 -2 -1 -3M611 745q-2 -1 -2 -2M462 648q-4 0 -9 1M593 728q-2 -4 -4 -7M437 582q-3 -0 -6 0M610 759q-4 -2 -7 -5M572 787q-4 1 -8 1M471 626q-2 -4 -5 -8M407 491q-2 -4 -2 -9M394 511q-2 -3 -6 -4M444 607q-1 -4 0 -8M611 780q-4 -1 -9 -2M556 738q-1 -1 -2 -2M455 636q-2 1 -3 0M414 554q-1 -4 -1 -9M414 488q1 -2 0 -4M466 629q-1 -2 -1 -5M436 577q1 -3 1 -6M548 731q-4 -2 -6 1M480 629q-1 -3 -3 -5M477 680q0 -2 -1 -3M636 775q-4 -2 -7 -4M425 560q1 -3 -0 -5M597 754q-2 -1 -4 -2M664 823q-5 -1 -7 -5M511 742q0 -2 1 -4M410 512q-3 -3 -7 -6M495 670q-4 1 -7 2M466 615q-2 -2 -3 -5M487 649q-0 -5 -1 -9M428 534q0 -2 -1 -5M633 794q-3 -4 -6 -7M657 802q-4 3 -4 8M527 705q1 -2 1 -4M444 558q-3 -2 -4 -6M450 661q-2 -5 0 -9M535 711q-1 -5 -5 -8M463 595q-4 -0 -7 -2M531 715q-3 -2 -4 -6M509 711q-3 -2 -7 -3M428 571q-3 -4 -8 -6M637 776q-2 3 -3 6M510 672q-3 1 -7 -1M611 780q-5 -2 -8 1M604 733q-3 -2 -5 -3M551 742q-1 -4 -4 -7M532 733q-2 -4 -5 -7M444 645q-0 -2 -2 -4M422 552q-3 -2 -5 -4M557 730q-3 -0 -6 -1M458 586q-1 -2 -3 -4M456 635q-4 -3 -8 -5M404 511q-1 -4 -1 -9M711 794q-2 -1 -5 -0M556 738q2 -4 -1 -9M476 638q-5 -0 -9 1M468 694q-4 -3 -6 -7M606 760q-1 -1 -2 -3M492 671q-3 -4 -5 -7M464 614q-2 -2 -5 -3M696 812q-4 3 -9 4M468 703q-1 -1 -2 -3M535 751q-4 1 -8 2M505 734q-2 -1 -5 -2M484 695q1 -4 3 -8M564 770q-4 -2 -8 -1M492 664q0 -2 -0 -3M636 695q4 -3 9 -3M634 690q4 1 7 3M559 621q1 4 4 7M666 715q3 0 5 1M613 667q1 -1 3 -2M630 693q1 1 1 3M686 744q3 2 6 2M545 614q-1 2 -1 4M556 623q1 1 3 2M557 608q4 3 5 8M695 650q4 -3 8 -6M590 640q0 4 1 9M714 657q0 3 2 6M662 651q4 -1 9 -1M695 639q3 4 8 4M649 633q-3 2 -5 6M556 438q4 -1 9 -1M544 450q5 2 7 6M526 441q3 2 3 5M512 394q3 4 1 9M520 443q4 1 8 1M560 530q-4 3 -5 8M561 507q-0 2 -0 5M832 792q3 2 5 5M835 802q3 2 6 4M782 787q3 -0 7 -0M847 735q3 2 7 3M790 716q1 1 3 2M771 787q-1 2 -1 5M772 779q-1 3 -4 3M745 731q1 3 3 6M740.0 270.8L754.7 276.7M828.5 282.6C831.0 284.6 838.8 287.3 843.2 294.4C847.6 301.5 853.0 320.2 855.0 325.4M745.9 256.0C749.3 257.5 761.8 261.9 766.5 264.9C771.2 267.8 772.7 272.2 773.9 273.7M779.8 288.5L793.1 294.4M805.0 279.6L813.7 291.4M866.8 217.7C870.2 218.7 883.6 221.6 887.5 223.6C891.4 225.6 889.9 228.5 890.4 229.5M914.0 244.2L922.9 259.0M905.2 266.4L925.8 270.8M601.4 270.7C604.4 271.4 612.5 274.0 619.1 275.1C625.7 276.2 637.5 276.9 641.2 277.3M563.8 330.4L583.7 334.9M910.0 440.0C911.3 442.7 917.7 450.7 918.0 456.0C918.3 461.3 913.0 469.3 912.0 472.0M958.0 516.0C956.7 519.3 952.3 529.7 950.0 536.0C947.7 542.3 946.7 550.0 944.0 554.0C941.3 558.0 937.3 557.0 934.0 560.0C930.7 563.0 926.3 568.3 924.0 572.0C921.7 575.7 921.0 577.7 920.0 582.0C919.0 586.3 918.3 595.3 918.0 598.0M908.0 574.0C907.0 576.7 904.0 584.7 902.0 590.0C900.0 595.3 897.3 602.0 896.0 606.0C894.7 610.0 893.7 610.0 894.0 614.0C894.3 618.0 897.3 627.3 898.0 630.0M954.0 582.0C953.0 584.0 948.0 590.0 948.0 594.0C948.0 598.0 953.0 604.0 954.0 606.0M964.0 618.0L962.0 630.0M992.0 586.0L996.0 598.0M988.0 530.0L992.0 538.0M546.0 616.0C547.0 618.0 550.0 624.3 552.0 628.0C554.0 631.7 557.0 636.3 558.0 638.0M550.0 644.0C551.7 646.3 557.3 654.3 560.0 658.0C562.7 661.7 562.3 664.3 566.0 666.0C569.7 667.7 579.3 667.7 582.0 668.0M566.0 606.0L572.0 616.0M608.0 696.0L624.0 700.0M622.0 712.0L632.0 720.0M650.0 718.0L666.0 728.0M654.0 702.0L674.0 696.0M634.0 688.0L642.0 690.0M650.0 680.0L662.0 676.0M706.0 634.0L730.0 630.0M716.0 648.0L730.0 650.0M648.0 642.0L650.0 648.0M654.0 656.0L662.0 656.0M530.0 710.0L540.0 718.0M562.0 724.0L568.0 730.0M570.0 734.0L584.0 732.0M582.0 746.0L592.0 752.0M596.0 760.0L606.0 764.0M624.0 772.0L634.0 780.0M554.0 744.0L560.0 750.0M538.0 754.0L544.0 760.0M678.0 768.0L690.0 768.0M690.0 742.0L700.0 744.0M579.5 240.0C582.0 240.5 589.5 242.0 594.5 243.0C599.5 244.0 607.0 245.5 609.5 246.0M624.5 240.0C626.8 240.5 634.2 241.5 638.0 243.0C641.8 244.5 644.0 247.5 647.0 249.0C650.0 250.5 653.0 252.5 656.0 252.0C659.0 251.5 663.5 247.0 665.0 246.0M623.0 258.0C625.0 258.5 631.5 259.5 635.0 261.0C638.5 262.5 642.5 266.0 644.0 267.0M600.5 267.0L612.5 267.0M617.0 282.0C618.5 281.5 623.0 280.0 626.0 279.0C629.0 278.0 633.5 276.5 635.0 276.0M587.0 280.5C588.2 280.8 591.5 282.0 594.5 282.0C597.5 282.0 603.2 280.8 605.0 280.5M632.0 207.0C634.0 207.5 641.0 208.5 644.0 210.0C647.0 211.5 649.0 215.0 650.0 216.0M614.0 219.0L627.5 216.0M647.0 234.0L654.5 234.0M680.0 213.0L695.0 207.0M729.5 199.5L737.0 205.5M722.0 219.0C723.0 220.5 726.2 225.2 728.0 228.0C729.8 230.8 731.8 234.2 732.5 235.5M719.0 249.0L729.5 243.0M752.0 247.5L758.0 255.0M683.0 244.5L695.0 246.0M695.0 258.0L710.0 259.5M677.0 277.5C679.5 277.2 686.5 275.8 692.0 276.0C697.5 276.2 707.0 278.5 710.0 279.0M725.0 279.0L740.0 282.0M590.0 213.0L599.0 219.0M560.0 214.5L569.0 217.5M421.0 484.0L429.0 480.0M415.0 488.0L419.0 496.0M407.0 492.0L405.0 498.0M403.0 464.0L401.0 468.0M457.0 452.0C457.7 453.3 461.0 458.0 461.0 460.0C461.0 462.0 457.7 463.3 457.0 464.0M449.0 464.0L445.0 468.0M459.0 476.0L461.0 482.0M435.0 494.0L436.0 498.0M424.0 501.0L426.0 504.0M441.0 508.0L437.0 516.0M421.0 510.0C421.3 511.3 422.3 515.7 423.0 518.0C423.7 520.3 424.7 523.0 425.0 524.0M409.0 520.0L415.0 528.0M393.0 508.0L395.0 514.0M438.0 522.0L440.0 526.0M453.0 516.0L453.0 521.0M433.0 536.0C433.7 537.3 435.7 542.0 437.0 544.0C438.3 546.0 440.3 547.3 441.0 548.0M421.0 532.0L423.0 538.0M397.0 534.0L403.0 540.0M407.0 550.0L409.0 558.0M385.0 550.0L387.0 556.0M425.0 556.0L429.0 568.0M415.0 564.0L413.0 570.0M441.0 560.0L443.0 564.0M451.0 568.0L455.0 574.0M457.0 544.0L459.0 550.0M397.0 572.0L399.0 578.0M389.0 408.0L393.0 412.0M424.0 447.0L426.0 450.0M501.0 410.0C502.3 408.3 507.0 399.7 509.0 400.0C511.0 400.3 512.3 410.0 513.0 412.0M523.0 438.0L529.0 440.0M477.0 396.0L481.0 392.0M467.0 386.0L471.0 390.0M414.0 580.0L418.0 588.0M426.0 590.0L430.0 596.0M442.0 586.0L446.0 592.0M452.0 596.0L454.0 600.0M406.0 600.0L412.0 606.0M418.0 608.0L430.0 614.0M438.0 610.0L444.0 620.0M460.0 614.0L472.0 616.0M479.0 625.0L481.0 628.0M410.0 630.0L416.0 636.0M428.0 638.0L436.0 644.0M444.0 646.0L448.0 650.0M424.0 650.0L430.0 656.0M426.0 668.0L428.0 674.0M452.0 664.0C453.3 665.0 458.0 668.0 460.0 670.0C462.0 672.0 463.3 675.0 464.0 676.0M470.0 646.0L480.0 650.0M468.0 688.0L472.0 698.0M480.0 662.0L484.0 666.0M508.0 676.0L512.0 684.0M484.0 700.0L496.0 704.0M504.0 704.0L508.0 708.0M524.0 708.0L536.0 718.0M512.0 718.0L518.0 722.0M532.0 740.0L552.0 746.0M536.0 752.0L540.0 756.0M548.0 616.0L556.0 636.0M548.0 644.0L558.0 652.0M496.0 610.0L500.0 614.0M480.0 586.0L488.0 592.0M464.0 600.0L468.0 606.0M396.0 628.0L400.0 636.0M436.0 704.0L440.0 708.0M460.0 720.0L468.0 724.0M552.0 768.0L558.0 772.0M582.8 745.9L591.6 751.8M540.0 751.8L544.4 760.6M594.6 760.6L603.4 762.1M615.2 765.1L624.1 766.5M625.5 772.4C626.5 773.4 629.9 776.8 631.4 778.3C632.9 779.8 633.9 780.8 634.4 781.3M578.3 763.6C579.8 765.1 584.7 770.4 587.2 772.4C589.7 774.4 592.1 774.9 593.1 775.4M599.0 776.9L613.7 776.9M600.5 788.7C601.5 789.9 604.4 794.3 606.4 796.0C608.4 797.7 611.3 798.5 612.3 799.0M625.5 794.6L632.9 799.0M635.9 791.6C637.9 791.6 644.5 790.4 647.7 791.6C650.9 792.8 653.3 796.5 655.0 799.0C656.7 801.5 657.5 805.2 658.0 806.4M672.7 796.0L681.6 797.5M661.0 757.7L669.8 757.7M678.6 768.0L690.4 768.0M628.5 753.3L637.3 754.7M643.2 762.1L652.1 759.2M681.6 819.6C682.6 820.6 684.8 823.5 687.5 825.5C690.2 827.5 696.1 830.4 697.8 831.4M581.3 796.0L590.1 800.5M551.8 766.5C552.8 768.5 555.2 775.6 557.7 778.3C560.2 781.0 565.0 782.0 566.5 782.8M613.7 802.0L616.7 807.8M709.6 762.1L724.4 759.2M747.2 622.0C749.6 621.5 757.3 620.7 761.6 618.8C765.9 616.9 769.1 613.2 772.8 610.8C776.5 608.4 780.3 606.3 784.0 604.4C787.7 602.5 793.3 600.4 795.2 599.6M720.0 628.4L732.8 625.2M720.0 650.8L729.6 650.8M776.0 670.0L784.0 671.6M776.0 700.4L788.8 698.8M811.2 697.2L819.2 700.4M830.4 705.2L848.0 703.6M832.0 730.8L838.4 732.4M753.6 722.8L758.4 724.4M763.2 721.2L772.8 722.8M720.0 674.8L745.6 676.4M772.8 737.2L782.4 740.4M864.0 634.8C864.5 635.9 867.7 638.8 867.2 641.2C866.7 643.6 861.9 647.9 860.8 649.2M873.6 606.0C874.1 607.6 875.7 611.3 876.8 615.6C877.9 619.9 880.3 626.5 880.0 631.6C879.7 636.7 876.8 641.7 875.2 646.0C873.6 650.3 872.3 654.0 870.4 657.2C868.5 660.4 865.1 663.9 864.0 665.2M844.8 644.4L854.4 642.8M848.0 658.8L854.4 655.6M889.6 614.0L896.0 630.0M870.4 698.8L880.0 698.8M889.6 694.0L896.0 689.2M835.2 641.2L836.8 650.8M848.0 618.8L852.8 620.4M798.4 671.6L804.8 674.8M442.1 264.1C443.6 265.6 449.9 269.2 451.0 272.9C452.1 276.6 449.2 284.0 448.8 286.2M479.7 250.8L493.0 246.4M464.2 268.5L470.9 286.2M493.0 239.7L504.1 233.1M515.1 239.7L526.2 235.3M543.9 226.5L552.7 219.8M552.7 246.4L570.4 237.5M550.5 219.8L563.8 213.2M539.5 250.8L546.1 255.2M464.2 308.3L466.5 321.6M477.5 303.9L486.4 299.5M535.0 295.0L537.3 303.9M517.3 308.3C518.0 309.8 521.8 314.2 521.8 317.2C521.8 320.1 518.0 324.5 517.3 326.0M481.9 330.4L486.4 339.3M493.0 348.1L497.4 357.0M543.9 326.0L552.7 334.9M563.8 337.1L579.3 334.9M543.9 357.0L557.2 348.1M552.7 368.1L561.6 374.7M574.9 312.7L588.1 308.3M588.1 303.9L597.0 312.7M610.3 303.9L619.1 308.3M566.0 297.3L570.4 290.6M574.9 284.0L588.1 277.3M588.1 268.5L605.8 266.3M641.2 281.8L654.5 286.2M681.1 277.3L703.2 281.8M641.2 352.6L650.1 354.8M448.8 368.1L455.4 379.1M541.7 388.0L552.7 392.4M572.6 361.4L579.3 370.3M800.0 593.0C801.5 591.2 806.5 585.8 809.0 582.5C811.5 579.2 814.0 575.0 815.0 573.5M825.5 549.5L827.0 560.0M833.0 534.5L839.0 521.0M905.0 572.0L914.0 554.0M894.5 560.0L905.0 557.0M897.5 482.0L899.0 491.0M894.5 510.5L896.0 518.0M908.0 515.0L911.0 527.0M881.0 533.0L884.0 536.0M887.0 548.0L888.5 557.0M905.0 545.0L909.5 546.5M869.0 581.0L872.0 584.0M872.0 602.0L875.0 614.0M836.0 593.0L848.0 594.5M853.0 555.0L855.0 556.0M855.0 498.0L856.0 499.0M914.0 509.0L917.0 512.0M828.0 300.0C829.1 301.7 833.1 307.1 834.8 310.2C836.5 313.3 837.6 317.3 838.2 318.7M790.6 308.5L795.7 320.4M806.0 305.0L807.6 313.6M834.8 334.0L843.3 339.1M832.0 345.0L834.0 347.0M853.5 335.7L856.9 342.5M868.8 364.6L872.2 369.7M869.5 338.5L871.5 340.0M864.4 381.0L866.4 382.5M802.5 352.7L806.0 356.1M765.0 322.0L770.2 323.8M892.7 342.5L904.6 354.4M788.9 410.5C791.2 410.5 798.8 408.5 802.5 410.5C806.2 412.5 808.7 418.1 811.0 422.4C813.3 426.6 814.7 431.7 816.1 436.0C817.5 440.3 818.9 446.0 819.5 448.0M555.4 392.0C555.9 393.5 559.3 397.4 558.3 400.8C557.3 404.2 551.0 410.6 549.5 412.6M528.8 418.5C529.8 420.9 531.8 431.2 534.7 433.2C537.7 435.2 544.0 432.3 546.5 430.3C549.0 428.3 549.0 422.9 549.5 421.4M573.0 389.0L579.0 404.0M585.0 414.0L597.0 418.5M601.0 408.0L614.0 402.0M534.7 367.0L540.6 372.8M545.0 377.0L551.0 381.6M554.0 368.0L560.0 374.0M555.4 440.6L561.3 448.0M557.0 451.0L562.8 462.7M548.0 459.8L554.0 468.6M587.8 459.8L596.7 468.6M635.0 359.5L648.0 353.6M694.0 389.0L706.0 383.0M950.8 489.0C951.7 488.7 955.6 485.1 956.2 487.2C956.8 489.3 955.3 498.0 954.4 501.6C953.5 505.2 951.4 507.6 950.8 508.8M963.4 503.4L968.8 512.4M958.0 516.0L956.2 534.0M940.0 512.4L943.6 519.6M947.2 526.8C946.6 530.4 943.6 542.7 943.6 548.4C943.6 554.1 946.6 558.9 947.2 561.0M981.4 507.0L983.2 516.0M992.2 526.8L986.8 543.0M990.4 496.2L992.2 505.2M947.2 573.6L958.0 571.8M954.4 580.8C953.8 583.2 950.8 591.0 950.8 595.2C950.8 599.4 953.8 604.2 954.4 606.0M983.2 570.0L985.0 575.4M994.0 584.4L995.8 598.8M979.6 604.2L981.4 615.0M963.4 618.6L963.4 629.4M1024.6 602.4L1017.4 616.8M1015.6 580.8L1019.2 588.0M940.0 555.6L945.4 562.8M749.0 725.5L758.0 724.0M764.0 721.0L773.0 722.5M785.0 709.0L791.0 709.0M770.0 742.0C771.5 741.5 777.0 740.0 779.0 739.0C781.0 738.0 781.5 736.5 782.0 736.0M782.0 748.0L791.0 745.0M789.5 727.0L795.5 725.5M797.0 730.0L803.0 727.0M803.0 754.0C804.5 753.5 809.0 752.5 812.0 751.0C815.0 749.5 819.5 746.0 821.0 745.0M830.0 709.0L845.0 704.5M830.0 742.0L848.0 745.0M830.0 764.5L842.0 754.0M837.5 796.0C839.2 796.5 845.0 797.2 848.0 799.0C851.0 800.8 854.2 805.2 855.5 806.5M840.0 770.0L841.0 771.0M797.0 757.0L803.0 757.0M759.5 773.5L765.5 775.0M771.5 766.0L777.5 767.5M795.5 772.0L801.5 770.5M812.0 796.0L816.5 797.5M818.0 805.0L827.0 806.5M794.0 805.0L801.5 808.0M740.0 794.5L744.5 796.0M740.0 835.0L749.0 836.5M764.0 832.0L771.5 830.5M810.5 818.5L815.0 820.0M834.5 815.5L839.0 818.5M865.0 636.3C865.4 637.8 867.3 642.3 867.5 645.0C867.7 647.7 866.5 651.3 866.3 652.6M878.8 633.8C878.6 635.7 878.6 641.5 877.6 645.0C876.6 648.5 873.4 653.4 872.5 655.1M893.9 622.5C894.5 624.6 896.4 631.2 897.6 635.0C898.9 638.8 900.8 643.3 901.4 645.0M860.0 682.7L862.5 687.7M872.5 699.0L880.0 696.5M893.9 692.7L888.8 705.3M882.6 662.6L885.0 667.6M910.2 700.2L912.7 702.7M925.2 695.2L926.5 697.7M927.7 676.4L931.5 675.2M937.7 677.7L941.5 682.7M944.0 660.1L946.5 672.7M931.5 650.1L932.7 652.6M942.7 627.5L946.5 633.8M964.1 655.1L965.3 658.9M962.8 676.4L966.6 675.2M957.8 690.2L956.5 695.2M942.7 707.8L945.3 709.0M1023.0 625.0L1028.0 625.0M917.7 730.3L920.2 736.6M903.9 732.8L907.6 735.3M873.8 722.8L876.3 725.3M647.8 285.3L654.4 286.6M666.4 288.0L671.7 289.3M677.0 281.3L685.0 282.7M692.9 295.9C694.7 295.5 700.2 293.3 703.5 293.3C706.8 293.3 711.2 295.5 712.8 295.9M752.7 290.6L765.9 293.3M762.0 322.5L772.6 323.8M600.0 301.2L610.6 305.2M613.3 318.5L626.5 315.8M600.0 321.2L604.0 323.8M658.4 325.1L663.7 326.5M621.0 335.0L622.0 336.5M650.0 334.0L651.5 335.0M635.8 358.3L647.8 353.0M692.9 388.9L704.9 383.5M708.9 386.2L711.5 387.5M724.8 383.5L740.7 391.5M746.0 388.9L751.3 390.2M649.1 376.9L653.1 378.2M548.0 484.2L550.8 501.0M584.4 501.0C585.3 502.6 588.6 507.5 590.0 510.8C591.4 514.1 592.3 519.0 592.8 520.6M548.0 527.6L552.2 534.6M528.4 496.8L531.2 501.0M538.2 540.2L541.0 548.6M532.6 569.6L535.4 575.2M573.2 552.8L576.0 561.2M562.0 566.8L566.2 572.4M543.8 613.0L550.8 618.6M539.6 599.0L545.2 603.2M563.4 512.2L566.2 516.4M740.0 220.6C741.5 220.8 745.1 221.6 748.8 222.1C752.5 222.6 759.9 223.3 762.1 223.6M809.3 231.0C812.0 230.8 820.3 228.5 825.5 229.5C830.7 230.5 835.9 234.2 840.3 236.9C844.7 239.6 850.1 244.2 852.1 245.7M788.7 270.8C790.9 271.1 796.4 272.3 802.0 272.3C807.6 272.3 817.0 270.8 822.6 270.8C828.2 270.8 832.0 273.3 835.9 272.3C839.8 271.3 842.5 263.2 846.2 264.9C849.9 266.6 855.3 277.4 858.0 282.6C860.7 287.8 861.2 292.0 862.4 295.9C863.6 299.8 864.9 304.5 865.4 306.2M846.2 219.2C848.2 219.4 855.5 219.4 858.0 220.6C860.5 221.8 860.5 225.5 861.0 226.5M852.1 266.4C855.5 266.9 865.6 267.6 872.7 269.3C879.8 271.0 891.2 275.5 894.9 276.7M909.6 322.4L917.0 330.0M466.5 334.9C467.2 337.1 469.1 343.3 470.9 348.1C472.7 352.9 475.7 359.5 477.5 363.6C479.3 367.7 481.2 371.0 481.9 372.5M497.4 297.3C499.2 296.2 503.7 292.1 508.5 290.6C513.3 289.1 523.2 288.8 526.2 288.4M497.4 299.5C498.5 301.7 503.4 308.6 504.1 312.7C504.9 316.8 502.3 321.9 501.9 323.8M543.9 272.9C546.9 271.8 556.4 269.6 561.6 266.3C566.8 263.0 572.7 255.2 574.9 253.0M625.8 239.7C628.8 240.4 638.4 242.3 643.5 244.2C648.6 246.0 652.3 248.2 656.7 250.8C661.1 253.4 665.2 258.9 670.0 259.6C674.8 260.3 682.9 255.9 685.5 255.2M574.9 299.5C577.9 301.7 588.5 309.8 592.6 312.7C596.7 315.6 598.1 316.4 599.2 317.2M860.0 286.0C862.0 287.7 867.7 295.0 872.0 296.0C876.3 297.0 882.7 290.3 886.0 292.0C889.3 293.7 889.7 302.0 892.0 306.0C894.3 310.0 894.3 314.2 900.0 316.0C905.7 317.8 921.7 316.8 926.0 317.0M910.0 328.0C910.7 330.0 911.3 336.7 914.0 340.0C916.7 343.3 924.0 346.7 926.0 348.0M912.0 356.0L920.0 372.0M900.0 368.0C902.0 370.7 907.3 380.7 912.0 384.0C916.7 387.3 923.3 384.7 928.0 388.0C932.7 391.3 937.3 399.3 940.0 404.0C942.7 408.7 943.3 414.0 944.0 416.0M930.0 420.0C930.7 423.3 932.3 434.0 934.0 440.0C935.7 446.0 936.7 451.7 940.0 456.0C943.3 460.3 950.7 462.0 954.0 466.0C957.3 470.0 959.0 477.7 960.0 480.0M988.0 336.0L998.0 344.0M990.0 368.0L1000.0 374.0M902.0 590.0L898.0 606.0M986.0 624.0C984.7 626.7 980.3 635.7 978.0 640.0C975.7 644.3 973.0 648.3 972.0 650.0M1006.0 628.0L1010.0 634.0M582.0 636.0C583.3 638.7 587.7 647.0 590.0 652.0C592.3 657.0 593.3 661.7 596.0 666.0C598.7 670.3 603.0 674.3 606.0 678.0C609.0 681.7 612.7 686.3 614.0 688.0M610.0 664.0C611.3 665.3 615.3 671.0 618.0 672.0C620.7 673.0 624.7 670.3 626.0 670.0M676.0 718.0L690.0 720.0M665.0 264.0L684.5 258.0M560.0 267.0L566.0 270.0M561.5 288.0L569.0 291.0M578.0 270.0L584.0 273.0M702.5 213.0L711.5 211.5M737.0 220.5L747.5 223.5M529.0 420.0C530.0 421.3 532.0 426.3 535.0 428.0C538.0 429.7 545.0 429.7 547.0 430.0M452.0 626.0C452.7 627.7 454.7 633.7 456.0 636.0C457.3 638.3 459.3 639.3 460.0 640.0M484.0 656.0C485.3 658.0 489.7 664.0 492.0 668.0C494.3 672.0 496.7 676.7 498.0 680.0C499.3 683.3 499.7 686.7 500.0 688.0M548.8 743.0L559.2 747.4M731.7 751.8L737.6 756.2M755.0 620.0L762.0 618.0M778.0 607.0L783.0 605.0M792.0 662.0C793.9 662.3 800.8 662.5 803.2 663.6C805.6 664.7 805.9 667.6 806.4 668.4M809.6 676.4C811.7 675.9 818.7 674.8 822.4 673.2C826.1 671.6 828.8 666.8 832.0 666.8C835.2 666.8 840.0 672.1 841.6 673.2M755.2 686.0C756.3 686.8 758.4 691.6 761.6 690.8C764.8 690.0 772.3 682.8 774.4 681.2M795.2 687.6L800.0 686.0M819.2 721.2L835.2 719.6M812.8 734.0L822.4 732.4M854.4 684.4L860.8 684.4M892.8 610.8C893.3 608.4 894.8 599.9 896.0 596.4C897.2 592.9 899.3 591.1 900.0 590.0M453.2 301.7L455.4 312.7M504.1 334.9L510.7 348.1M574.9 303.9L577.1 295.0M552.7 290.6L557.2 284.0M770.0 609.5C772.5 608.8 780.5 606.8 785.0 605.0C789.5 603.2 795.0 600.0 797.0 599.0M902.0 575.0C902.5 577.5 905.5 585.0 905.0 590.0C904.5 595.0 901.0 600.5 899.0 605.0C897.0 609.5 894.0 615.0 893.0 617.0M870.5 485.0L875.0 488.0M908.0 476.0L914.0 473.0M909.5 491.0L912.5 494.0M858.6 303.4L865.4 317.0M896.0 368.0C897.4 368.9 902.6 370.3 904.6 373.1C906.6 375.9 907.4 383.0 908.0 385.0M575.5 414.0L579.5 424.4M962.5 569.5L964.0 571.0M985.0 622.2L974.2 642.0M1008.4 629.4L1010.2 636.6M950.8 636.6L952.6 642.0M774.5 700.0L785.0 701.5M810.5 733.0L821.0 731.5M818.0 721.0L837.5 719.5M833.0 730.0L837.5 733.0M821.0 763.0C820.0 764.5 817.0 769.0 815.0 772.0C813.0 775.0 810.0 779.5 809.0 781.0M821.0 790.0C823.0 789.5 829.5 788.5 833.0 787.0C836.5 785.5 840.5 782.0 842.0 781.0M952.8 635.0L951.5 641.3M961.6 620.0L964.1 631.3M980.4 630.0C980.0 631.9 978.9 638.2 977.9 641.3C976.9 644.4 974.7 647.5 974.1 648.8M1007.9 632.5L1006.7 638.8M619.9 285.3C621.5 285.5 626.8 287.0 629.2 286.6C631.6 286.2 633.6 283.4 634.5 282.7M722.1 295.9C723.9 296.8 729.2 301.0 732.7 301.2C736.2 301.4 741.6 297.9 743.4 297.3M564.8 606.0L573.2 614.4M756.2 239.8C757.2 240.8 759.8 243.8 762.0 246.0C764.2 248.2 768.2 251.9 769.5 253.1M773.9 231.0L781.3 236.9M776.9 244.2C778.9 244.9 785.0 246.2 788.7 248.7C792.4 251.2 795.6 256.8 799.0 259.0C802.4 261.2 805.6 260.8 809.0 262.0C812.4 263.2 817.8 265.7 819.6 266.4M799.0 236.9C800.2 237.6 803.5 239.5 806.0 241.0C808.5 242.5 812.4 244.9 813.7 245.7M884.5 291.4C886.5 293.4 893.3 299.3 896.3 303.2C899.2 307.1 899.1 312.7 902.2 315.0C905.3 317.3 910.8 316.8 915.0 317.0C919.2 317.2 925.2 316.6 927.3 316.5M501.9 376.9C503.7 374.3 509.6 366.6 512.9 361.4C516.2 356.2 520.3 348.5 521.8 345.9M524.0 363.6C525.8 361.0 531.7 353.2 535.0 348.1C538.3 343.0 540.2 337.1 543.9 332.7C547.6 328.3 554.2 324.9 557.2 321.6C560.2 318.3 559.4 314.9 561.6 312.7C563.8 310.5 568.9 309.0 570.4 308.3M932.0 428.0L936.0 444.0M589.0 650.0L594.0 660.0M710.0 178.5L722.0 181.5M656.0 165.0L665.0 165.0M612.5 174.0L623.0 172.5M495.2 219.8L508.5 213.2M462.0 226.5L475.3 219.8M574.9 197.7L588.1 193.3M619.1 339.3L632.4 334.9M855.2 391.8L856.0 393.0M879.0 391.8L880.0 393.0M785.5 340.8L786.5 342.0M591.0 383.0L602.6 377.0M736.0 374.0L737.5 375.0M719.0 315.5L720.5 316.5M703.0 307.5L704.5 308.5M524.0 538.5L525.0 539.5M569.0 589.0L570.0 590.0M601.0 548.5L602.0 549.5M884.0 292.0C886.0 293.8 893.0 299.2 896.0 303.0C899.0 306.8 898.8 312.5 902.0 315.0C905.2 317.5 911.0 317.5 915.0 318.0C919.0 318.5 924.2 318.0 926.0 318.0M912.0 356.0C913.0 358.7 915.7 367.0 918.0 372.0C920.3 377.0 922.7 381.0 926.0 386.0C929.3 391.0 935.2 396.7 938.0 402.0C940.8 407.3 942.2 415.3 943.0 418.0M932.0 428.0C932.7 430.7 934.3 439.0 936.0 444.0C937.7 449.0 939.0 454.2 942.0 458.0C945.0 461.8 952.0 465.5 954.0 467.0M776.0 245.0C778.3 245.8 786.0 247.7 790.0 250.0C794.0 252.3 795.3 256.3 800.0 259.0C804.7 261.7 815.0 264.8 818.0 266.0" stroke="#f9dcc2" stroke-width="11"/>
<path d="M710.0 178.5L722.0 181.5M656.0 165.0L665.0 165.0M612.5 174.0L623.0 172.5M495.2 219.8L508.5 213.2M462.0 226.5L475.3 219.8M574.9 197.7L588.1 193.3M619.1 339.3L632.4 334.9M855.2 391.8L856.0 393.0M879.0 391.8L880.0 393.0M785.5 340.8L786.5 342.0M591.0 383.0L602.6 377.0M736.0 374.0L737.5 375.0M719.0 315.5L720.5 316.5M703.0 307.5L704.5 308.5M524.0 538.5L525.0 539.5M569.0 589.0L570.0 590.0M601.0 548.5L602.0 549.5M600 186q2 -0 3 -0M754 194q1 -5 0 -10M549 205q2 0 4 0M737 186q2 -3 3 -6M698 197q2 2 4 4M756 173q2 -5 8 -6M504 235q2 -0 4 -2M510 213q4 -2 9 -2M735 194q2 -3 1 -6M605 202q2 1 4 -1M585 193q2 -2 5 -2M612 188q3 -2 6 -4M600 204q0 -5 2 -9M628 167q3 -2 8 -2M745 186q3 -5 9 -4M465 263q-0 -5 4 -9M666 177q5 -1 9 -3M565 199q-3 -3 -7 -5M576 211q3 2 7 3M916 253q-0 3 -0 5M1021 541q-1 2 -0 4M998 373q-0 4 2 7M1020 491q1 1 3 2M1004 339q2 2 3 4M934 285q3 -2 5 1M1019 423q-1 4 -3 9M1004 337q0 2 1 5M1027 450q0 3 0 5M1022 410q1 2 2 4M993 314q0 3 0 7M887 247q2 4 2 9M1039 543q0 2 -1 3M1031 576q2 5 -1 9M1017 517q-2 1 -3 3M1028 527q1 2 1 4M1009 495q0 2 -1 4M988 318q3 1 6 1M885 430q1 4 1 7M879 518q-0 3 -0 7M817 701q-1 -2 -1 -4M838 666q-2 -1 -4 1M697 827q-2 1 -5 2M593 728q-2 -4 -4 -7M610 759q-4 -2 -7 -5M394 511q-2 -3 -6 -4M556 738q-1 -1 -2 -2M455 636q-2 1 -3 0M414 554q-1 -4 -1 -9M414 488q1 -2 0 -4M548 731q-4 -2 -6 1M480 629q-1 -3 -3 -5M477 680q0 -2 -1 -3M425 560q1 -3 -0 -5M466 615q-2 -2 -3 -5M633 794q-3 -4 -6 -7M657 802q-4 3 -4 8M450 661q-2 -5 0 -9M535 711q-1 -5 -5 -8M532 733q-2 -4 -5 -7M456 635q-4 -3 -8 -5M564 770q-4 -2 -8 -1M695 650q4 -3 8 -6M714 657q0 3 2 6M695 639q3 4 8 4M649 633q-3 2 -5 6M544 450q5 2 7 6M526 441q3 2 3 5M512 394q3 4 1 9M832 792q3 2 5 5M847 735q3 2 7 3M790 716q1 1 3 2M771 787q-1 2 -1 5M745 731q1 3 3 6" stroke="#ecae72" stroke-width="5.5"/>
<path d="M615.2 526.2L619.4 540.2M570.0 530.0L571.0 531.0M605.0 496.5L606.0 497.5" stroke="#b4c8e4" stroke-width="5"/>
<path d="M810.8 216.2C812.8 216.9 819.2 218.9 822.6 220.6C826.0 222.3 829.9 225.5 831.4 226.5M759.2 231.0C760.9 232.0 767.0 235.4 769.5 236.9C772.0 238.4 773.2 239.3 773.9 239.8M790.1 222.1C792.1 222.8 798.1 225.8 802.0 226.5C805.9 227.2 811.8 226.5 813.7 226.5M822.6 238.3L827.0 250.1M887.5 279.6L893.4 282.6M473.0 323.8L486.4 323.8M470.9 341.5L477.5 357.0M521.8 350.4L528.4 343.7M795.0 667.0L798.0 669.0M836.0 679.0L841.0 680.0M729.6 684.4L736.0 686.0M512.9 277.3L521.8 275.1M552.7 277.3L557.2 281.8M537.3 306.1L541.7 312.7M504.1 339.3L506.3 343.7M563.8 321.6L570.4 323.8M451.0 334.9L457.6 352.6M843.5 536.0L845.0 540.5M879.0 486.0L880.0 487.0M901.0 480.0L903.0 481.0M605.5 411.0L616.0 405.0M968.0 571.0L969.5 572.5M961.0 584.0L962.0 585.0M970.0 557.0L971.0 558.0M818.0 785.0L819.0 786.0M797.0 814.0L798.0 815.0M779.0 823.0L780.0 824.0M925.0 685.0L926.0 686.0M924.0 726.0L927.0 727.0M732.0 349.0L734.0 349.5M734.5 381.5L736.5 382.5M605.0 300.0L606.0 300.5M835.0 226.0C837.2 227.0 844.2 230.0 848.0 232.0C851.8 234.0 856.3 237.0 858.0 238.0M782.0 222.0L790.0 232.0M870.0 255.0L880.0 262.0M806.4 202.9C809.1 204.4 816.5 210.1 822.6 211.8C828.7 213.5 837.3 213.3 843.2 213.3C849.1 213.3 855.5 212.1 858.0 211.8M812.0 207.0C814.2 208.3 819.5 213.3 825.0 215.0C830.5 216.7 838.8 217.2 845.0 217.0C851.2 216.8 859.2 214.5 862.0 214.0M800.0 212.0C801.0 213.7 803.5 218.7 806.0 222.0C808.5 225.3 813.5 230.3 815.0 232.0" stroke="#bccfe8" stroke-width="8"/>
<path d="M810.8 216.2C812.8 216.9 819.2 218.9 822.6 220.6C826.0 222.3 829.9 225.5 831.4 226.5M759.2 231.0C760.9 232.0 767.0 235.4 769.5 236.9C772.0 238.4 773.2 239.3 773.9 239.8M790.1 222.1C792.1 222.8 798.1 225.8 802.0 226.5C805.9 227.2 811.8 226.5 813.7 226.5M822.6 238.3L827.0 250.1M887.5 279.6L893.4 282.6M473.0 323.8L486.4 323.8M470.9 341.5L477.5 357.0M521.8 350.4L528.4 343.7M795.0 667.0L798.0 669.0M836.0 679.0L841.0 680.0M729.6 684.4L736.0 686.0M512.9 277.3L521.8 275.1M552.7 277.3L557.2 281.8M537.3 306.1L541.7 312.7M504.1 339.3L506.3 343.7M563.8 321.6L570.4 323.8M451.0 334.9L457.6 352.6M843.5 536.0L845.0 540.5M879.0 486.0L880.0 487.0M901.0 480.0L903.0 481.0M605.5 411.0L616.0 405.0M968.0 571.0L969.5 572.5M961.0 584.0L962.0 585.0M970.0 557.0L971.0 558.0M818.0 785.0L819.0 786.0M797.0 814.0L798.0 815.0M779.0 823.0L780.0 824.0M925.0 685.0L926.0 686.0M924.0 726.0L927.0 727.0M732.0 349.0L734.0 349.5M734.5 381.5L736.5 382.5M605.0 300.0L606.0 300.5M835.0 226.0C837.2 227.0 844.2 230.0 848.0 232.0C851.8 234.0 856.3 237.0 858.0 238.0M782.0 222.0L790.0 232.0M870.0 255.0L880.0 262.0M806.4 202.9C809.1 204.4 816.5 210.1 822.6 211.8C828.7 213.5 837.3 213.3 843.2 213.3C849.1 213.3 855.5 212.1 858.0 211.8M812.0 207.0C814.2 208.3 819.5 213.3 825.0 215.0C830.5 216.7 838.8 217.2 845.0 217.0C851.2 216.8 859.2 214.5 862.0 214.0M800.0 212.0C801.0 213.7 803.5 218.7 806.0 222.0C808.5 225.3 813.5 230.3 815.0 232.0" stroke="#41588a" stroke-width="4"/>
<path d="M806.4 202.9C809.1 204.4 816.5 210.1 822.6 211.8C828.7 213.5 837.3 213.3 843.2 213.3C849.1 213.3 855.5 212.1 858.0 211.8M812.0 207.0C814.2 208.3 819.5 213.3 825.0 215.0C830.5 216.7 838.8 217.2 845.0 217.0C851.2 216.8 859.2 214.5 862.0 214.0M800.0 212.0C801.0 213.7 803.5 218.7 806.0 222.0C808.5 225.3 813.5 230.3 815.0 232.0" stroke="#2c3a5c" stroke-width="5"/>
<path d="M495 321q2 -0 3 0M456 341q1 -2 2 -3M484 335q1 -3 2 -5M534 273q2 -1 2 -3M475 302q1 -4 4 -6M700 231q4 -1 7 -4M586 271q4 -0 8 -2M626 241q5 1 9 4M714 237q2 -2 4 -3M605 264q2 -1 3 -2M625 261q2 2 5 5M711 199q3 -3 5 -7M672 182q2 1 4 1M568 184q2 -1 4 -1M741 256q5 1 10 1M784 255q0 3 0 7M766 244q3 1 5 2M765 259q2 0 5 1M835 263q-1 5 3 9M749 238q2 -0 4 1M922 354q-3 1 -7 0M931 358q2 2 1 5M971 474q2 5 6 8M927 348q2 4 6 6M925 347q2 2 5 4M927 395q-3 1 -3 3M962 464q-1 2 -3 4M900 327q4 2 8 5M959 423q1 5 3 9M941 363q-3 4 -7 7M945 474q-1 2 -1 3M926 357q-0 4 -1 7M925 391q3 4 4 8M918 507q3 4 8 5M893 647q-1 4 -3 7M882 631q1 1 1 3M952 531q-0 5 -4 8M944 308q3 4 2 10M1017 516q2 1 3 1M927 272q2 5 7 6M870 428q-2 3 -2 6M859 561q-5 2 -10 3M751 659q-3 -3 -8 -3M849 644q1 2 2 4M824 578q4 -2 3 -7M777 603q1 1 3 2M713 621q3 -1 5 -2M471 626q-2 -4 -5 -8M611 780q-4 -1 -9 -2M436 577q1 -3 1 -6M636 775q-4 -2 -7 -4M597 754q-2 -1 -4 -2M410 512q-3 -3 -7 -6M495 670q-4 1 -7 2M487 649q-0 -5 -1 -9M428 534q0 -2 -1 -5M428 571q-3 -4 -8 -6M637 776q-2 3 -3 6M510 672q-3 1 -7 -1M604 733q-3 -2 -5 -3M551 742q-1 -4 -4 -7M444 645q-0 -2 -2 -4M422 552q-3 -2 -5 -4M711 794q-2 -1 -5 -0M556 738q2 -4 -1 -9M476 638q-5 -0 -9 1M606 760q-1 -1 -2 -3M492 671q-3 -4 -5 -7M464 614q-2 -2 -5 -3M696 812q-4 3 -9 4M468 703q-1 -1 -2 -3M492 664q0 -2 -0 -3M636 695q4 -3 9 -3M634 690q4 1 7 3M559 621q1 4 4 7M613 667q1 -1 3 -2M630 693q1 1 1 3M662 651q4 -1 9 -1M556 438q4 -1 9 -1M520 443q4 1 8 1M560 530q-4 3 -5 8M835 802q3 2 6 4M453 336q2 -1 4 -2M550 278q4 1 7 3M713 238q2 2 5 2M589 246q4 -0 7 -2M560 262q5 1 8 5M632 264q2 1 3 1M568 279q2 -0 4 -0M741 242q1 -2 2 -3M566 277q-4 -3 -6 -7M730 222q5 0 8 4M760 168q3 -2 6 -2M620 209q2 -1 3 -2M898 300q3 2 6 3M795 258q3 -3 6 -4M894 288q2 -0 5 0M902 299q1 3 3 5M972 462q3 2 6 5M958 400q2 4 3 8M953 434q2 4 1 7M940 394q2 3 2 6M936 419q1 2 3 4M965 468q-2 0 -5 1M943 399q-4 2 -9 3M957 479q3 1 4 4M949 413q2 3 4 6M942 380q-3 3 -6 7M925 358q-1 2 -2 4M915 601q-2 2 -3 5M896 643q-4 2 -9 4M950 567q-1 1 -1 3M868 626q-2 -0 -4 -2M937 506q2 4 5 8M885 624q-3 3 -7 5M896 640q-5 2 -6 7M959 560q-4 1 -7 4M964 283q1 1 2 3M927 254q3 0 6 2M1009 401q1 3 3 6M883 520q0 3 1 6M735 610q3 -1 7 -1M819 562q5 -3 2 -9M793 589q1 -1 2 -2M791 585q5 -1 9 -3M794 590q3 2 6 2M676 770q-3 4 -7 4M426 594q0 -2 -1 -3M611 745q-2 -1 -2 -2M462 648q-4 0 -9 1M437 582q-3 -0 -6 0M572 787q-4 1 -8 1M407 491q-2 -4 -2 -9M444 607q-1 -4 0 -8M466 629q-1 -2 -1 -5M664 823q-5 -1 -7 -5M511 742q0 -2 1 -4M527 705q1 -2 1 -4M444 558q-3 -2 -4 -6M463 595q-4 -0 -7 -2M531 715q-3 -2 -4 -6M611 780q-5 -2 -8 1M557 730q-3 -0 -6 -1M458 586q-1 -2 -3 -4M404 511q-1 -4 -1 -9M468 694q-4 -3 -6 -7M535 751q-4 1 -8 2M505 734q-2 -1 -5 -2M484 695q1 -4 3 -8M666 715q3 0 5 1M686 744q3 2 6 2M556 623q1 1 3 2M557 608q4 3 5 8M590 640q0 4 1 9M561 507q-0 2 -0 5M782 787q3 -0 7 -0M772 779q-1 3 -4 3" stroke="#e68a38" stroke-width="6.2"/>
<path d="M495 321q2 -0 3 0M456 341q1 -2 2 -3M484 335q1 -3 2 -5M534 273q2 -1 2 -3M475 302q1 -4 4 -6M700 231q4 -1 7 -4M586 271q4 -0 8 -2M626 241q5 1 9 4M714 237q2 -2 4 -3M605 264q2 -1 3 -2M625 261q2 2 5 5M711 199q3 -3 5 -7M672 182q2 1 4 1M568 184q2 -1 4 -1M741 256q5 1 10 1M784 255q0 3 0 7M766 244q3 1 5 2M765 259q2 0 5 1M835 263q-1 5 3 9M749 238q2 -0 4 1M922 354q-3 1 -7 0M931 358q2 2 1 5M971 474q2 5 6 8M927 348q2 4 6 6M925 347q2 2 5 4M927 395q-3 1 -3 3M962 464q-1 2 -3 4M900 327q4 2 8 5M959 423q1 5 3 9M941 363q-3 4 -7 7M945 474q-1 2 -1 3M926 357q-0 4 -1 7M925 391q3 4 4 8M918 507q3 4 8 5M893 647q-1 4 -3 7M882 631q1 1 1 3M952 531q-0 5 -4 8M944 308q3 4 2 10M1017 516q2 1 3 1M927 272q2 5 7 6M870 428q-2 3 -2 6M859 561q-5 2 -10 3M751 659q-3 -3 -8 -3M849 644q1 2 2 4M824 578q4 -2 3 -7M777 603q1 1 3 2M713 621q3 -1 5 -2M471 626q-2 -4 -5 -8M611 780q-4 -1 -9 -2M436 577q1 -3 1 -6M636 775q-4 -2 -7 -4M597 754q-2 -1 -4 -2M410 512q-3 -3 -7 -6M495 670q-4 1 -7 2M487 649q-0 -5 -1 -9M428 534q0 -2 -1 -5M428 571q-3 -4 -8 -6M637 776q-2 3 -3 6M510 672q-3 1 -7 -1M604 733q-3 -2 -5 -3M551 742q-1 -4 -4 -7M444 645q-0 -2 -2 -4M422 552q-3 -2 -5 -4M711 794q-2 -1 -5 -0M556 738q2 -4 -1 -9M476 638q-5 -0 -9 1M606 760q-1 -1 -2 -3M492 671q-3 -4 -5 -7M464 614q-2 -2 -5 -3M696 812q-4 3 -9 4M468 703q-1 -1 -2 -3M492 664q0 -2 -0 -3M636 695q4 -3 9 -3M634 690q4 1 7 3M559 621q1 4 4 7M613 667q1 -1 3 -2M630 693q1 1 1 3M662 651q4 -1 9 -1M556 438q4 -1 9 -1M520 443q4 1 8 1M560 530q-4 3 -5 8M835 802q3 2 6 4M453 336q2 -1 4 -2M550 278q4 1 7 3M713 238q2 2 5 2M589 246q4 -0 7 -2M560 262q5 1 8 5M632 264q2 1 3 1M568 279q2 -0 4 -0M741 242q1 -2 2 -3M566 277q-4 -3 -6 -7M730 222q5 0 8 4M760 168q3 -2 6 -2M620 209q2 -1 3 -2M898 300q3 2 6 3M795 258q3 -3 6 -4M894 288q2 -0 5 0M902 299q1 3 3 5M972 462q3 2 6 5M958 400q2 4 3 8M953 434q2 4 1 7M940 394q2 3 2 6M936 419q1 2 3 4M965 468q-2 0 -5 1M943 399q-4 2 -9 3M957 479q3 1 4 4M949 413q2 3 4 6M942 380q-3 3 -6 7M925 358q-1 2 -2 4M915 601q-2 2 -3 5M896 643q-4 2 -9 4M950 567q-1 1 -1 3M868 626q-2 -0 -4 -2M937 506q2 4 5 8M885 624q-3 3 -7 5M896 640q-5 2 -6 7M959 560q-4 1 -7 4M964 283q1 1 2 3M927 254q3 0 6 2M1009 401q1 3 3 6M883 520q0 3 1 6M735 610q3 -1 7 -1M819 562q5 -3 2 -9M793 589q1 -1 2 -2M791 585q5 -1 9 -3M794 590q3 2 6 2M676 770q-3 4 -7 4M426 594q0 -2 -1 -3M611 745q-2 -1 -2 -2M462 648q-4 0 -9 1M437 582q-3 -0 -6 0M572 787q-4 1 -8 1M407 491q-2 -4 -2 -9M444 607q-1 -4 0 -8M466 629q-1 -2 -1 -5M664 823q-5 -1 -7 -5M511 742q0 -2 1 -4M527 705q1 -2 1 -4M444 558q-3 -2 -4 -6M463 595q-4 -0 -7 -2M531 715q-3 -2 -4 -6M611 780q-5 -2 -8 1M557 730q-3 -0 -6 -1M458 586q-1 -2 -3 -4M404 511q-1 -4 -1 -9M468 694q-4 -3 -6 -7M535 751q-4 1 -8 2M505 734q-2 -1 -5 -2M484 695q1 -4 3 -8M666 715q3 0 5 1M686 744q3 2 6 2M556 623q1 1 3 2M557 608q4 3 5 8M590 640q0 4 1 9M561 507q-0 2 -0 5M782 787q3 -0 7 -0M772 779q-1 3 -4 3" stroke="#dc6610" stroke-width="3.4"/>
<path d="M465 334q5 -0 9 2M491 321q-1 -2 -1 -5M465 329q3 -3 6 -5M558 247q2 -1 3 -1M575 284q2 -4 3 -9M785 243q2 4 6 7M822 243q-2 3 -2 7M750 235q5 -1 9 0M875 305q4 0 8 -1M931 357q-2 3 -4 5M933 429q1 5 -1 9M925 320q4 1 8 3M943 367q-3 2 -5 5M953 424q1 1 3 2M950 437q2 3 3 6M928 336q1 3 3 6M946 399q-1 2 -3 4M928 359q1 4 2 8M952 495q-2 3 -6 5M975 489q1 1 1 3M922 380q-0 2 0 4M932 365q-1 2 -1 5M931 350q-0 3 -0 7M958 474q-0 2 -2 4M952 472q0 2 0 3M973 480q1 2 -0 3M935 438q2 3 4 6M917 298q3 4 3 9M951 440q1 3 2 6M950 434q-3 4 -2 8M915 339q2 4 5 7M877 633q-1 2 -3 4M966 313q1 -2 3 -2M974 372q3 -1 5 -3M509 711q-3 -2 -7 -3M545 614q-1 2 -1 4" stroke="#ee5418" stroke-width="7"/>
<path d="M465 334q5 -0 9 2M491 321q-1 -2 -1 -5M465 329q3 -3 6 -5M558 247q2 -1 3 -1M575 284q2 -4 3 -9M785 243q2 4 6 7M822 243q-2 3 -2 7M750 235q5 -1 9 0M875 305q4 0 8 -1M931 357q-2 3 -4 5M933 429q1 5 -1 9M925 320q4 1 8 3M943 367q-3 2 -5 5M953 424q1 1 3 2M950 437q2 3 3 6M928 336q1 3 3 6M946 399q-1 2 -3 4M928 359q1 4 2 8M952 495q-2 3 -6 5M975 489q1 1 1 3M922 380q-0 2 0 4M932 365q-1 2 -1 5M931 350q-0 3 -0 7M958 474q-0 2 -2 4M952 472q0 2 0 3M973 480q1 2 -0 3M935 438q2 3 4 6M917 298q3 4 3 9M951 440q1 3 2 6M950 434q-3 4 -2 8M915 339q2 4 5 7M877 633q-1 2 -3 4M966 313q1 -2 3 -2M974 372q3 -1 5 -3M509 711q-3 -2 -7 -3M545 614q-1 2 -1 4" stroke="#f52c08" stroke-width="3.5"/>
<path d="M465 334q5 -0 9 2M558 247q2 -1 3 -1M875 305q4 0 8 -1M952 495q-2 3 -6 5M922 380q-0 2 0 4M958 474q-0 2 -2 4" stroke="#a41a2e" stroke-width="3.5"/>
<path d="M745.9 256.0L747.9 256.8L750.7 257.9L754.0 259.2M787.4 291.9L790.8 293.4M808.7 284.7L811.1 287.9L813.1 290.5M866.8 217.7L868.8 218.2L871.7 219.0M871.7 219.0L875.2 219.8L877.0 220.3M877.0 220.3L880.6 221.3M905.2 266.4L907.2 266.8L910.2 267.5L911.9 267.8M911.9 267.8L915.5 268.6L919.1 269.4M625.7 276.0L629.4 276.3L633.0 276.6L634.8 276.8M578.4 333.7L581.5 334.4L583.7 334.9M914.9 447.8L916.6 451.2L917.3 452.9M917.3 452.9L918.0 456.0L918.0 457.5M915.9 464.2L914.3 467.4L912.9 470.1L912.0 472.0M951.7 531.5L950.5 534.6L949.4 537.6L948.5 540.9M948.5 540.9L947.6 544.2M947.1 545.9L946.2 549.0L945.7 550.4M919.0 588.7L918.6 592.5L918.2 595.7L918.0 598.0M906.3 578.6L905.1 581.8L904.4 583.5M899.0 597.7L897.9 600.8L897.3 602.2M894.2 610.6L894.0 614.0L894.5 616.9L895.4 620.6M895.4 620.6L896.4 624.4L896.9 626.1M896.9 626.1L897.7 629.0L898.0 630.0M992.0 586.0L992.8 588.4L993.4 590.1M994.0 592.0L995.2 595.6M988.0 530.0L989.5 533.0L990.5 535.0M990.5 535.0L992.0 538.0M546.0 616.0L547.1 618.2L547.8 619.7M550.4 624.9L552.0 628.0L552.9 629.6M550.0 644.0L551.3 645.8L552.1 647.0M570.6 667.1L574.4 667.5L576.3 667.6M566.0 606.0L567.5 608.4L569.5 611.9L570.5 613.6M570.5 613.6L572.0 616.0M650.0 718.0L651.9 719.2L654.7 721.0L656.3 722.0M659.6 676.8L662.0 676.0M716.1 632.3L719.9 631.7M723.5 631.1L726.6 630.6L729.1 630.1L730.0 630.0M654.0 656.0L657.0 656.0L660.8 656.0M535.0 714.0L538.0 716.4L539.2 717.3M605.0 763.6L606.0 764.0M678.0 768.0L680.4 768.0L684.0 768.0L687.6 768.0M635.0 242.1L638.0 243.0L640.9 244.6M640.9 244.6L643.4 246.5L645.8 248.3M661.8 248.6L664.2 246.6L665.0 246.0M614.0 219.0L616.4 218.5L619.8 217.7L623.5 216.9L625.1 216.5M625.1 216.5L627.5 216.0M680.0 213.0L682.3 212.1L685.6 210.7M727.4 244.2L729.5 243.0M752.0 247.5L753.8 249.7L755.0 251.2M685.1 276.3L688.6 276.0L690.3 276.0M596.8 217.5L599.0 219.0M407.0 492.0L406.0 495.0L405.0 498.0M449.0 464.0L446.2 466.8L445.0 468.0M441.0 508.0L439.5 511.0L437.6 514.8L437.0 516.0M436.1 542.5L438.5 545.8L441.0 548.0M407.0 550.0L407.8 553.0L408.2 555.0M385.0 550.0L386.0 553.0L387.0 556.0M427.0 562.0L428.2 565.6L429.0 568.0M457.0 544.0L458.0 547.0L458.6 548.8M504.8 404.2L507.1 401.2L509.0 400.0L510.4 401.7M467.0 386.0L469.8 388.8L471.0 390.0M426.0 590.0L428.0 593.0L429.2 594.8M429.2 594.8L430.0 596.0M441.5 615.9L442.5 617.6M443.4 619.0L444.0 620.0M424.0 650.0L426.3 652.3L429.1 655.1L430.0 656.0M426.0 668.0L427.0 671.0L427.6 672.8M452.0 664.0L454.2 665.6L455.8 666.6M462.5 673.4L464.0 676.0M470.0 646.0L472.4 647.0L475.9 648.4L477.6 649.0M471.0 695.6L472.0 698.0M482.8 664.8L484.0 666.0M488.1 701.4L491.9 702.6L495.0 703.7L496.0 704.0M524.0 708.0L525.8 709.5L528.5 711.8M543.0 743.3L546.7 744.4M546.7 744.4L549.8 745.3L552.0 746.0M548.0 616.0L548.8 618.0L549.9 620.8L551.3 624.2M436.0 704.0L438.8 706.8L440.0 708.0M582.8 745.9L584.9 747.3L586.4 748.3M540.0 751.8L541.3 754.4L543.1 758.0L544.4 760.6M594.6 760.6L597.9 761.2L600.1 761.5M629.0 775.9L631.4 778.3M589.0 773.6L592.1 775.0L593.1 775.4M599.0 776.9L601.6 776.9L605.3 776.9L609.3 776.9M609.3 776.9L612.6 776.9L613.7 776.9M661.0 757.7L664.3 757.7L666.5 757.7M695.5 830.1L697.8 831.4M747.2 622.0L749.5 621.6L752.8 621.1L756.5 620.3L758.3 619.9M765.6 616.4L768.0 614.5L770.4 612.6L771.6 611.6M728.4 626.3L731.7 625.5L732.8 625.2M720.0 650.8L722.8 650.8L726.8 650.8L728.4 650.8M776.0 670.0L779.0 670.6L782.8 671.4L784.0 671.6M832.0 730.8L835.2 731.6L838.4 732.4M777.6 738.8L781.2 740.0L782.4 740.4M864.0 634.8L866.0 637.5M867.0 639.3L866.6 642.5L864.2 645.6M876.8 615.6L877.6 618.4L878.5 621.6M889.6 614.0L890.5 616.2L891.7 619.3L892.4 621.1M895.0 689.9L896.0 689.2M451.2 276.2L450.5 280.1L449.5 283.7M464.2 268.5L465.0 270.6L466.2 273.7L467.6 277.4M467.6 277.4L468.9 281.0L470.1 284.1M493.0 239.7L495.3 238.4L498.6 236.4L500.3 235.4M515.1 239.7L517.8 238.6L521.6 237.1M565.7 239.9L568.5 238.5L570.4 237.5M519.8 322.2L517.9 325.0L517.3 326.0M543.9 326.0L545.7 327.8L548.3 330.4L550.9 333.1M563.8 337.1L566.2 336.8L569.6 336.3L573.5 335.7M616.5 307.0L619.1 308.3M548.2 390.6L550.0 391.3M576.5 366.6L578.6 369.4M826.6 557.5L827.0 560.0M897.5 482.0L897.9 484.7L898.6 488.3L899.0 491.0M908.0 515.0L908.6 517.4L909.5 521.0M909.5 521.0L910.4 524.6L911.0 527.0M905.0 545.0L908.2 546.1L909.5 546.5M872.0 602.0L872.6 604.4L873.5 608.0L874.0 609.9M853.0 555.0L855.0 556.0M832.0 345.0L834.0 347.0M796.1 409.7L799.6 409.7M818.1 442.9L818.9 445.9L819.2 447.1M555.4 392.0L556.6 394.2L558.1 397.3L558.3 400.8L557.8 402.0M547.5 429.1L548.7 425.7L549.3 422.4L549.5 421.4M577.5 400.1L578.6 403.0L579.0 404.0M557.0 451.0L558.2 453.4L559.9 456.9M559.9 456.9L561.6 460.3M561.6 460.3L562.8 462.7M635.0 359.5L637.3 358.5L638.9 357.8M940.0 512.4L941.4 515.1L943.1 518.5L943.6 519.6M982.3 511.5L983.0 514.9L983.2 516.0M953.6 572.5L956.9 572.0M951.2 592.0L950.8 595.2L951.4 598.9M1017.9 615.9L1017.4 616.8M940.0 555.6L942.0 558.3L943.4 560.1M777.7 739.5L781.1 737.3M830.0 742.0L832.2 742.4L835.3 742.9L837.1 743.2M842.7 744.1L845.8 744.6L848.0 745.0M764.0 832.0L766.8 831.4L768.7 831.1M895.5 628.1L896.6 631.8L897.6 635.0M882.6 662.6L884.3 666.1L885.0 667.6M925.2 695.2L926.5 697.7M944.0 660.1L944.5 662.7L945.2 666.4M957.8 690.2L956.9 693.7L956.5 695.2M666.4 288.0L670.1 288.9L671.7 289.3M677.0 281.3L680.0 281.8L683.8 282.5M609.5 304.8L610.6 305.2M724.8 383.5L726.9 384.6L730.1 386.2L733.7 388.0M746.0 388.9L749.7 389.8L751.3 390.2M649.1 376.9L653.1 378.2M587.5 506.1L589.3 509.3M574.9 558.0L576.0 561.2" stroke="#e68a38" stroke-width="4.2"/>
<path d="M846.3 300.8L847.6 303.9L848.8 307.2M850.6 312.3L851.7 315.6L852.7 318.7L853.6 321.4M754.0 259.2L757.5 260.6L761.0 262.1L762.6 262.8M762.6 262.8L765.4 264.2L768.3 266.2L769.8 267.7M813.1 290.5L813.7 291.4M882.3 221.7L885.3 222.7L887.5 223.6M887.5 223.6L890.2 226.9L890.4 229.5M917.0 249.1L919.0 252.4M919.0 252.4L920.9 255.6L921.7 257.0M919.1 269.4L922.4 270.1L924.9 270.6L925.8 270.8M612.2 273.6L615.7 274.4L619.1 275.1M634.8 276.8L637.8 277.0L640.3 277.2L641.2 277.3M910.0 440.0L911.2 441.9L912.9 444.6L914.9 447.8M918.0 457.5L917.2 460.8L915.9 464.2M942.8 555.4L940.0 557.1L937.0 558.2M937.0 558.2L934.0 560.0L931.9 562.0M926.6 568.4L924.8 570.9L924.0 572.0M920.4 580.3L919.7 583.4L919.2 586.9M901.4 591.5L900.3 594.6L899.0 597.7M897.3 602.2L896.4 604.8L895.2 608.0L894.2 610.6M954.0 582.0L952.6 584.2L950.6 587.2M949.6 589.0L948.8 590.7M948.2 592.4L948.2 595.6M948.2 595.6L949.6 599.0L951.7 602.4L953.5 605.1M953.5 605.1L954.0 606.0M964.0 618.0L963.6 620.4L963.3 622.1M962.4 627.6L962.0 630.0M995.2 595.6L996.0 598.0M552.9 629.6L554.9 633.0L556.7 635.9L558.0 638.0M553.1 648.3L555.2 651.3M561.1 659.8L562.6 662.8L564.5 665.1M564.5 665.1L567.3 666.5L570.6 667.1M608.0 696.0L610.4 696.6L612.1 697.0M614.0 697.5L618.0 698.5L621.6 699.4L623.0 699.7M623.0 699.7L624.0 700.0M658.0 723.0L661.3 725.0L664.1 726.8L665.2 727.5M654.0 702.0L656.2 701.3L659.3 700.4M659.3 700.4L663.0 699.3L666.9 698.1M666.9 698.1L670.3 697.1L673.1 696.3L674.0 696.0M634.0 688.0L637.0 688.8L640.8 689.7M706.0 634.0L708.0 633.7L710.9 633.2L714.3 632.6L716.1 632.3M716.0 648.0L718.4 648.3L722.0 648.9L725.9 649.4M660.8 656.0L662.0 656.0M530.0 710.0L532.0 711.6L533.5 712.8M539.2 717.3L540.0 718.0M589.6 750.5L592.0 752.0M596.0 760.0L598.4 761.0L601.9 762.4L605.0 763.6M624.0 772.0L626.0 773.6L627.5 774.8M554.0 744.0L556.3 746.3L559.1 749.1L560.0 750.0M538.0 754.0L540.3 756.3L543.1 759.1L544.0 760.0M597.7 243.6L601.2 244.3M601.2 244.3L604.6 245.0L607.5 245.6L609.5 246.0M624.5 240.0L626.7 240.4L629.8 241.0L633.3 241.7L635.0 242.1M623.0 258.0L625.2 258.5L628.4 259.1L631.9 260.0M631.9 260.0L635.0 261.0L638.1 262.7L639.5 263.7M639.5 263.7L642.2 265.6L644.0 267.0M600.5 267.0L602.9 267.0L606.5 267.0M622.7 280.1L626.0 279.0L629.3 277.9L631.1 277.3M631.1 277.3L634.0 276.3L635.0 276.0M597.6 281.7L601.1 281.2L604.0 280.7L605.0 280.5M632.0 207.0L634.3 207.5L637.6 208.1L639.4 208.5M639.4 208.5L642.7 209.5L645.7 211.1L647.1 212.5M729.5 199.5L731.7 201.3L733.2 202.5M719.0 249.0L721.1 247.8L724.2 246.0L727.4 244.2M690.3 276.0L693.5 276.1M693.5 276.1L696.7 276.5L700.2 277.1M708.0 278.6L710.0 279.0M725.0 279.0L727.3 279.5L730.6 280.1L732.5 280.5M732.5 280.5L736.1 281.2L737.7 281.5M421.0 484.0L424.0 482.5L427.8 480.6L429.0 480.0M415.0 488.0L416.5 491.0M417.5 493.0L419.0 496.0M457.0 452.0L458.7 454.8L460.6 458.5M460.6 458.5L460.1 461.8M435.0 494.0L436.0 498.0M438.0 522.0L440.0 526.0M453.0 516.0L453.0 519.5L453.0 521.0M433.0 536.0L434.3 538.8L436.1 542.5M421.0 532.0L422.0 535.0L422.6 536.8M422.6 536.8L423.0 538.0M415.0 564.0L414.0 567.0L413.4 568.8M451.0 568.0L453.0 571.0L454.2 572.8M458.6 548.8L459.0 550.0M397.0 572.0L398.0 575.0L399.0 578.0M424.0 447.0L426.0 450.0M501.0 410.0L502.5 407.7L503.6 406.0M512.7 410.9L513.0 412.0M477.0 396.0L479.8 393.2M479.8 393.2L481.0 392.0M452.0 596.0L454.0 600.0M406.0 600.0L408.3 602.3L411.1 605.1L412.0 606.0M425.9 611.9L429.0 613.5M429.0 613.5L430.0 614.0M438.0 610.0L439.5 612.4L440.5 614.1M460.0 614.0L462.4 614.4L466.0 615.0L469.6 615.6L471.0 615.8M479.0 625.0L481.0 628.0M433.6 642.2L436.0 644.0M444.0 646.0L446.8 648.8L448.0 650.0M427.6 672.8L428.0 674.0M455.8 666.6L458.8 668.9L461.4 671.6L462.5 673.4M468.0 688.0L469.0 690.4L470.4 693.9L471.0 695.6M504.0 704.0L506.8 706.8L508.0 708.0M528.5 711.8L531.5 714.2L534.2 716.5L536.0 718.0M512.0 718.0L515.0 720.0L518.0 722.0M532.0 740.0L534.2 740.7L537.3 741.6M551.3 624.2L552.7 627.8M552.7 627.8L554.1 631.2L555.2 634.0L556.0 636.0M554.5 649.2L557.2 651.3L558.0 652.0M496.0 610.0L498.8 612.8L500.0 614.0M480.0 586.0L482.4 587.8L485.6 590.2L488.0 592.0M464.0 600.0L466.0 603.0L468.0 606.0M460.0 720.0L463.0 721.5L465.0 722.5M465.0 722.5L468.0 724.0M586.4 748.3L589.5 750.4L591.6 751.8M615.2 765.1L617.8 765.5L621.5 766.1L624.1 766.5M625.5 772.4L627.6 774.5L629.0 775.9M633.3 780.2L634.4 781.3M578.3 763.6L580.0 765.3L581.1 766.5M600.5 788.7L602.0 790.8L604.2 793.6L606.4 796.0L608.0 797.1M608.0 797.1L611.2 798.6L612.3 799.0M635.9 791.6L638.5 791.4L642.3 791.1M654.1 797.7L655.9 800.6L657.2 804.0L658.0 806.4M672.7 796.0L675.3 796.4L679.0 797.1L681.6 797.5M666.5 757.7L669.8 757.7M685.5 768.0L689.2 768.0L690.4 768.0M634.0 754.2L637.3 754.7M681.6 819.6L683.3 821.5L684.5 822.9M581.3 796.0L583.9 797.3L585.7 798.2M554.2 772.1L555.9 775.6M555.9 775.6L557.7 778.3L559.1 779.5M613.7 802.0L615.2 804.9L616.7 807.8M709.6 762.1L711.8 761.7L715.2 761.0L718.8 760.3M771.6 611.6L774.2 609.9L777.0 608.2L779.8 606.6L781.2 605.8M776.0 700.4L778.6 700.1L782.4 699.6L784.4 699.4M784.4 699.4L787.7 698.9L788.8 698.8M836.2 704.7L840.2 704.3L844.0 704.0M844.0 704.0L847.0 703.7L848.0 703.6M753.6 722.8L757.0 723.9L758.4 724.4M763.2 721.2L766.0 721.7L770.0 722.3L772.8 722.8M720.0 674.8L722.0 674.9L724.8 675.1L726.4 675.2M728.2 675.3L731.9 675.5L735.6 675.8M772.8 737.2L775.6 738.1L777.6 738.8M862.8 647.1L860.8 649.2M873.6 606.0L874.4 608.3L875.6 611.6L876.8 615.6M869.4 658.8L866.9 661.9L864.7 664.4L864.0 665.2M844.8 644.4L847.6 643.9L849.6 643.6M849.6 643.6L853.2 643.0M853.2 643.0L854.4 642.8M848.0 658.8L851.2 657.2M870.4 698.8L873.2 698.8L877.2 698.8L880.0 698.8M889.6 694.0L892.0 692.2L895.0 689.9M446.7 267.7L449.3 270.2M449.5 283.7L448.8 286.2M485.4 248.9L489.1 247.7L492.0 246.7L493.0 246.4M500.3 235.4L503.2 233.7L504.1 233.1M521.6 237.1L525.1 235.7L526.2 235.3M547.5 223.7L550.6 221.4L551.8 220.5M551.8 220.5L552.7 219.8M552.7 246.4L554.6 245.4L557.4 244.0L560.7 242.4L562.4 241.5M562.4 241.5L565.7 239.9M550.5 219.8L552.8 218.7L556.2 217.0M556.2 217.0L559.9 215.2L562.8 213.7L563.8 213.2M465.3 315.0L466.0 318.9M466.0 318.9L466.5 321.6M477.5 303.9L480.1 302.6L483.8 300.8L486.4 299.5M535.0 295.0L535.7 297.6L536.6 301.3M536.6 301.3L537.3 303.9M521.5 315.6L521.5 318.8L519.8 322.2M485.1 336.7L486.4 339.3M493.0 348.1L494.3 350.7L496.1 354.4L496.9 355.9M496.9 355.9L497.4 357.0M543.9 357.0L545.9 355.6L547.3 354.7M547.3 354.7L550.6 352.6M552.2 351.4L555.2 349.5L557.2 348.1M574.9 312.7L577.2 311.9L580.6 310.8M574.9 284.0L577.2 282.8L580.6 281.1M582.4 280.2L585.8 278.5M585.8 278.5L588.1 277.3M599.9 267.0L603.4 266.6L605.8 266.3M645.1 283.1L648.8 284.3L652.2 285.4L653.5 285.9M653.5 285.9L654.5 286.2M689.4 279.0L693.1 279.7L696.7 280.5M647.5 354.1L650.1 354.8M448.8 368.1L450.1 370.3L452.1 373.6M452.1 373.6L454.1 376.9M541.7 388.0L544.4 389.1L546.2 389.8M572.6 361.4L574.2 363.6L576.5 366.6M803.5 589.0L805.9 586.3L807.0 584.9M833.0 534.5L834.0 532.1L835.6 528.7M838.0 523.4L839.0 521.0M908.2 565.6L909.9 562.1L910.8 560.4M894.5 560.0L897.0 559.3L900.7 558.2M894.5 510.5L895.1 513.3L895.8 516.9L896.0 518.0M881.0 533.0L884.0 536.0M887.0 548.0L887.4 550.7L887.8 552.5M887.8 552.5L888.3 555.9L888.5 557.0M874.0 609.9L874.7 613.0L875.0 614.0M836.0 593.0L838.4 593.3L842.0 593.8L845.6 594.2L847.0 594.4M847.0 594.4L848.0 594.5M914.0 509.0L917.0 512.0M835.6 311.8L836.9 315.1L837.9 317.8L838.2 318.7M794.7 318.0L795.7 320.4M892.7 342.5L894.3 344.1L896.7 346.5L898.0 347.8M898.0 347.8L900.6 350.4L903.0 352.8L903.9 353.7M788.9 410.5L791.1 410.3L794.3 409.8L796.1 409.7M799.6 409.7L802.5 410.5L804.8 412.3L806.8 414.9M814.7 431.5L815.6 434.5L816.6 437.7M816.6 437.7L817.6 441.1L818.1 442.9M819.2 447.1L819.5 448.0M557.8 402.0L555.9 404.9L553.4 408.0L552.2 409.4M552.2 409.4L550.2 411.8L549.5 412.6M539.1 433.7L542.5 432.6M573.0 389.0L573.9 391.3L575.3 394.6L576.7 398.4M585.0 414.0L587.4 414.9L591.0 416.2M592.9 416.9L596.0 418.1L597.0 418.5M601.0 408.0L603.3 407.0L606.6 405.4L610.1 403.8M534.7 367.0L536.9 369.2L538.4 370.6M539.7 371.9L540.6 372.8M555.4 440.6L557.1 442.8L559.6 445.8L561.3 448.0M548.0 459.8L549.5 461.9L551.5 465.0L553.4 467.7M553.4 467.7L554.0 468.6M587.8 459.8L589.6 461.6L592.2 464.2L593.6 465.6M593.6 465.6L596.0 467.9L596.7 468.6M638.9 357.8L642.4 356.1L645.7 354.6L648.0 353.6M954.7 486.7L956.3 488.1L956.2 491.1L955.7 494.8M955.4 496.7L954.7 500.2L953.7 503.6L952.9 505.3M952.9 505.3L951.3 507.9L950.8 508.8M956.9 526.9L956.6 530.3M947.2 526.8L946.8 528.8L946.2 531.7L945.9 533.3M945.9 533.3L945.2 536.8L944.8 538.6M944.8 538.6L944.2 542.3L943.8 545.6M943.8 545.6L943.6 548.4L943.7 550.5M943.7 550.5L944.6 554.3L945.8 557.6L946.9 560.1M989.2 535.8L988.0 539.3L987.1 542.1L986.8 543.0M990.4 496.2L990.9 498.9L991.7 502.5L992.2 505.2M947.2 573.6L949.8 573.2L951.6 572.9M954.4 580.8L953.7 583.1L952.7 586.4M983.2 570.0L984.5 573.8M994.0 584.4L994.3 586.9L994.8 590.6M995.5 596.3L995.8 598.8M979.6 604.2L980.0 606.8L980.7 610.6L981.0 612.4M981.0 612.4L981.4 615.0M963.4 628.3L963.4 629.4M1020.1 611.4L1018.5 614.6L1017.9 615.9M1015.6 580.8L1017.0 583.5L1018.7 586.9L1019.2 588.0M749.0 725.5L751.7 725.1L755.3 724.4L758.0 724.0M764.0 721.0L766.7 721.4L770.3 722.1M785.0 709.0L788.0 709.0L791.0 709.0M770.0 742.0L772.6 741.2L776.1 740.1L779.0 739.0M781.1 737.3L782.0 736.0M797.0 730.0L800.0 728.5L803.0 727.0M803.0 754.0L805.3 753.3L808.7 752.3L810.4 751.7M810.4 751.7L813.4 750.2L816.3 748.3L817.8 747.3M837.5 706.8L841.1 705.7L844.0 704.8L845.0 704.5M837.5 757.9L840.2 755.6L842.0 754.0M848.0 799.0L850.6 801.0L853.0 803.6M854.0 804.8L855.5 806.5M840.0 770.0L841.0 771.0M797.0 757.0L800.0 757.0L803.0 757.0M759.5 773.5L762.5 774.2L765.5 775.0M771.5 766.0L774.5 766.8L777.5 767.5M795.5 772.0L798.5 771.2L801.5 770.5M818.0 805.0L820.7 805.4L824.3 806.1L827.0 806.5M740.0 794.5L743.2 795.6L744.5 796.0M740.0 835.0L742.7 835.4L746.3 836.1L749.0 836.5M810.5 818.5L813.7 819.6L815.0 820.0M834.5 815.5L837.7 817.6L839.0 818.5M878.8 633.8L878.7 636.2L878.5 639.7L878.0 643.4L877.6 645.0M875.4 649.9L873.7 653.0L872.5 655.1M893.9 622.5L894.6 624.8L895.5 628.1M897.6 635.0L898.8 638.3M898.8 638.3L900.0 641.5L900.6 642.9M900.6 642.9L901.4 645.0M860.0 682.7L861.8 686.2L862.5 687.7M872.5 699.0L875.3 698.1L878.9 696.9L880.0 696.5M893.9 692.7L893.0 694.9L891.7 698.1L890.3 701.6M890.3 701.6L889.2 704.4L888.8 705.3M931.5 650.1L932.7 652.6M964.1 655.1L965.3 658.9M942.7 707.8L945.3 709.0M917.7 730.3L919.0 733.4L920.2 736.6M903.9 732.8L907.6 735.3M873.8 722.8L876.3 725.3M647.8 285.3L651.1 286.0L654.4 286.6M683.8 282.5L685.0 282.7M692.9 295.9L695.2 295.2L698.5 294.2L702.0 293.4M711.8 295.6L712.8 295.9M752.7 290.6L755.4 291.1L759.3 292.0L763.2 292.8M763.2 292.8L765.9 293.3M762.0 322.5L764.6 322.8L768.2 323.3L770.0 323.5M770.0 323.5L772.6 323.8M613.3 318.5L616.0 318.0L619.9 317.1M619.9 317.1L623.8 316.3L625.4 316.0M625.4 316.0L626.5 315.8M650.0 334.0L651.5 335.0M643.7 354.8L646.8 353.4L647.8 353.0M735.4 388.8L738.6 390.4M738.6 390.4L740.7 391.5M549.9 495.4L550.4 498.7L550.6 500.0M550.6 500.0L550.8 501.0M589.3 509.3L590.7 512.5L591.8 516.3M548.0 527.6L549.6 530.2L551.6 533.5L552.2 534.6M528.4 496.8L530.4 499.8L531.2 501.0M538.2 540.2L539.3 543.4L540.6 547.3L541.0 548.6M573.2 552.8L574.3 556.0L574.9 558.0M539.6 599.0L542.4 601.1L545.2 603.2" stroke="#e68a38" stroke-width="5.5"/>
<path d="M740.0 270.8L742.2 271.7L745.5 273.0M745.5 273.0L749.2 274.5L752.5 275.8L754.7 276.7M828.5 282.6L830.1 283.7L832.4 284.9L833.7 285.7M833.7 285.7L836.5 287.5L839.4 289.8L842.0 292.7M842.0 292.7L843.8 295.4L845.1 297.9L846.3 300.8M848.8 307.2L850.0 310.6L850.6 312.3M853.6 321.4L854.4 323.7L855.0 325.4M769.8 267.7L771.9 270.5L773.3 272.9L773.9 273.7M779.8 288.5L782.1 289.5L785.5 291.0L787.4 291.9M790.8 293.4L793.1 294.4M805.0 279.6L806.5 281.7L808.7 284.7M914.0 244.2L915.2 246.2L917.0 249.1M921.7 257.0L922.9 259.0M601.4 270.7L603.3 271.2L605.8 271.9L607.3 272.3M607.3 272.3L610.5 273.2M619.1 275.1L622.2 275.5L623.9 275.8M563.8 330.4L566.0 330.9L567.4 331.2M567.4 331.2L570.9 332.0L574.7 332.9L578.4 333.7M958.0 516.0L957.3 517.8L956.2 520.3L955.0 523.3M955.0 523.3L953.7 526.5M953.7 526.5L952.4 529.8L951.7 531.5M945.7 550.4L944.6 552.9L942.8 555.4M931.9 562.0L929.7 564.5L927.6 567.1L926.6 568.4M924.0 572.0L922.4 574.8L921.3 577.4L920.4 580.3M908.0 574.0L907.3 575.9L906.3 578.6M903.8 585.2L902.6 588.5L901.4 591.5M963.0 624.0L962.4 627.6M547.8 619.7L549.5 623.1L550.4 624.9M555.2 651.3L557.3 654.2L559.2 656.9L560.0 658.0M576.3 667.6L579.7 667.8L582.0 668.0M622.0 712.0L624.0 713.6L627.0 716.0L630.0 718.4M630.0 718.4L632.0 720.0M665.2 727.5L666.0 728.0M640.8 689.7L642.0 690.0M650.0 680.0L652.4 679.2L656.0 678.0L659.6 676.8M719.9 631.7L723.5 631.1M725.9 649.4L729.0 649.9L730.0 650.0M648.0 642.0L649.0 645.0L650.0 648.0M562.0 724.0L564.3 726.3L567.1 729.1M567.1 729.1L568.0 730.0M570.0 734.0L572.4 733.7L576.0 733.1L579.9 732.6M579.9 732.6L583.0 732.1L584.0 732.0M582.0 746.0L584.4 747.5L587.9 749.5M627.5 774.8L630.5 777.2L633.2 779.3L634.0 780.0M687.6 768.0L690.0 768.0M690.0 742.0L693.0 742.6L697.0 743.4L700.0 744.0M579.5 240.0L581.5 240.4L584.4 241.0L587.8 241.7M587.8 241.7L591.3 242.4L594.5 243.0L596.1 243.3M645.8 248.3L648.5 249.8L651.5 251.2L653.0 251.8M653.0 251.8L656.0 252.0L658.8 250.8L661.8 248.6M606.5 267.0L610.1 267.0L612.5 267.0M617.0 282.0L619.3 281.2L622.7 280.1M587.0 280.5L589.3 281.1L592.7 281.9L595.9 281.9L597.6 281.7M647.1 212.5L649.3 215.1L650.0 216.0M647.0 234.0L649.8 234.0L653.4 234.0L654.5 234.0M685.6 210.7L689.4 209.3L692.7 207.9M692.7 207.9L695.0 207.0M733.2 202.5L736.1 204.8L737.0 205.5M722.0 219.0L723.3 221.0L725.2 223.8M725.2 223.8L727.2 226.7L729.1 229.7L730.1 231.5M730.1 231.5L731.9 234.5L732.5 235.5M755.0 251.2L757.3 254.1L758.0 255.0M683.0 244.5L685.4 244.8L687.1 245.0M689.0 245.2L692.6 245.7L695.0 246.0M695.0 258.0L697.3 258.2L700.6 258.6L704.4 258.9M704.4 258.9L707.7 259.3L710.0 259.5M677.0 277.5L679.0 277.2L681.8 276.8L685.1 276.3M700.2 277.1L703.6 277.7L706.7 278.4L708.0 278.6M737.7 281.5L740.0 282.0M590.0 213.0L592.2 214.5L595.3 216.5L596.8 217.5M560.0 214.5L562.7 215.4L566.3 216.6L569.0 217.5M403.0 464.0L401.0 468.0M460.1 461.8L457.0 464.0M459.0 476.0L460.0 479.0L461.0 482.0M424.0 501.0L426.0 504.0M421.0 510.0L421.7 512.7L422.1 514.6M422.1 514.6L423.0 518.0L423.5 519.8M423.5 519.8L424.6 523.0L425.0 524.0M409.0 520.0L410.8 522.4L413.2 525.6M413.2 525.6L415.0 528.0M393.0 508.0L394.0 511.0L394.6 512.8M394.6 512.8L395.0 514.0M397.0 534.0L399.3 536.3L402.1 539.1L403.0 540.0M408.2 555.0L409.0 558.0M425.0 556.0L425.8 558.4L427.0 562.0M413.4 568.8L413.0 570.0M441.0 560.0L443.0 564.0M454.2 572.8L455.0 574.0M389.0 408.0L391.8 410.8L393.0 412.0M510.4 401.7L511.5 405.4L512.0 407.4M512.0 407.4L512.7 410.9M523.0 438.0L526.0 439.0L529.0 440.0M414.0 580.0L415.5 583.0L417.4 586.8L418.0 588.0M442.0 586.0L444.0 589.0L446.0 592.0M418.0 608.0L420.4 609.2L424.0 611.0L425.9 611.9M471.0 615.8L472.0 616.0M410.0 630.0L412.3 632.3L415.1 635.1L416.0 636.0M428.0 638.0L430.4 639.8L433.6 642.2M477.6 649.0L480.0 650.0M480.0 662.0L482.8 664.8M508.0 676.0L509.5 679.0L511.4 682.8M511.4 682.8L512.0 684.0M484.0 700.0L486.4 700.8L488.1 701.4M537.3 741.6L541.0 742.7M536.0 752.0L538.8 754.8L540.0 756.0M548.0 644.0L550.0 645.6L553.0 648.0L554.5 649.2M396.0 628.0L397.5 631.0L399.4 634.8L400.0 636.0M552.0 768.0L555.0 770.0L558.0 772.0M602.1 761.9L603.4 762.1M582.4 767.8L585.0 770.4L587.2 772.4L589.0 773.6M625.5 794.6L628.3 796.3L631.8 798.3L632.9 799.0M644.3 791.1L647.7 791.6L649.2 792.4M649.2 792.4L651.9 794.8L654.1 797.7M678.6 768.0L681.5 768.0L685.5 768.0M628.5 753.3L631.8 753.8L634.0 754.2M643.2 762.1L645.8 761.2L649.5 760.1L652.1 759.2M685.9 824.2L688.8 826.4L692.1 828.3M692.1 828.3L695.5 830.1M585.7 798.2L589.0 800.0L590.1 800.5M551.8 766.5L552.8 768.8L554.2 772.1M559.1 779.5L562.5 781.3M562.5 781.3L565.5 782.4L566.5 782.8M718.8 760.3L722.2 759.6L724.4 759.2M758.3 619.9L761.6 618.8L764.3 617.3L765.6 616.4M781.2 605.8L784.0 604.4L787.1 603.0L788.7 602.3M788.7 602.3L791.8 601.0L794.3 600.0L795.2 599.6M720.0 628.4L722.6 627.8L726.4 626.8L728.4 626.3M728.4 650.8L729.6 650.8M811.2 697.2L814.2 698.4L818.0 699.9L819.2 700.4M830.4 705.2L832.8 705.0L836.2 704.7M735.6 675.8L739.2 676.0L742.3 676.2L743.6 676.3M743.6 676.3L745.6 676.4M878.5 621.6L879.3 625.0L879.9 628.4L880.0 631.6M880.0 631.6L879.6 634.6L878.7 637.6L878.1 639.1M878.1 639.1L876.9 642.0L875.7 644.7L875.2 646.0M875.2 646.0L874.0 649.1L872.9 652.0L871.7 654.7M871.7 654.7L870.4 657.2M851.2 657.2L854.4 655.6M892.4 621.1L893.9 624.7L895.1 627.8L896.0 630.0M835.2 641.2L835.7 644.0L836.3 648.0M836.3 648.0L836.8 650.8M848.0 618.8L851.4 619.9L852.8 620.4M798.4 671.6L801.6 673.2L804.8 674.8M442.1 264.1L444.0 265.6L446.7 267.7M450.4 271.5L451.2 274.4L451.2 276.2M479.7 250.8L482.0 250.0L485.4 248.9M470.1 284.1L470.9 286.2M543.9 226.5L546.0 224.9L547.5 223.7M539.5 250.8L542.0 252.5L543.6 253.5M543.6 253.5L546.1 255.2M464.2 308.3L464.7 311.0L465.3 315.0M517.3 308.3L518.8 310.6L520.8 313.9M481.9 330.4L483.2 333.0L485.1 336.7M550.9 333.1L552.7 334.9M575.3 335.5L578.3 335.0M578.3 335.0L579.3 334.9M552.7 368.1L554.9 369.7L557.9 372.0L560.7 374.0M560.7 374.0L561.6 374.7M580.6 310.8L584.2 309.6L585.8 309.1M585.8 309.1L588.1 308.3M588.1 303.9L589.9 305.7L592.6 308.3M592.6 308.3L595.2 310.9L597.0 312.7M610.3 303.9L612.9 305.2L616.5 307.0M566.0 297.3L567.7 294.8L569.7 291.6L570.4 290.6M588.1 268.5L590.5 268.2L594.0 267.8M594.0 267.8L598.0 267.3L599.9 267.0M641.2 281.8L643.5 282.6L645.1 283.1M681.1 277.3L683.1 277.7L686.0 278.3L689.4 279.0M698.3 280.8L701.2 281.4L703.2 281.8M641.2 352.6L643.8 353.3L645.7 353.7M454.1 376.9L455.4 379.1M550.0 391.3L552.7 392.4M578.6 369.4L579.3 370.3M800.0 593.0L801.5 591.3L803.5 589.0M807.0 584.9L809.0 582.5L811.1 579.6M812.1 578.1L813.8 575.4L815.0 573.5M825.5 549.5L825.9 552.0L826.4 555.7L826.6 557.5M836.4 526.8L838.0 523.4M905.0 572.0L906.0 570.0L907.4 567.2L908.2 565.6M910.8 560.4L912.4 557.3L913.6 554.8L914.0 554.0M900.7 558.2L904.0 557.3L905.0 557.0M869.0 581.0L872.0 584.0M855.0 498.0L856.0 499.0M828.0 300.0L829.3 301.9L831.2 304.6L833.2 307.5M833.2 307.5L834.8 310.2L835.6 311.8M790.6 308.5L791.6 310.9L793.1 314.4L794.7 318.0M806.0 305.0L806.6 308.2L807.4 312.3L807.6 313.6M834.8 334.0L837.3 335.5L840.8 337.6L843.3 339.1M853.5 335.7L854.8 338.3L856.4 341.5L856.9 342.5M868.8 364.6L870.5 367.2L872.2 369.7M869.5 338.5L871.5 340.0M864.4 381.0L866.4 382.5M802.5 352.7L805.0 355.1L806.0 356.1M765.0 322.0L768.7 323.3L770.2 323.8M903.9 353.7L904.6 354.4M806.8 414.9L808.6 417.9L809.4 419.4M809.4 419.4L811.0 422.4L811.7 423.8M812.4 425.3L813.6 428.4L814.7 431.5M528.8 418.5L529.5 420.8L530.5 424.2L531.6 427.9L532.3 429.6M532.3 429.6L533.8 432.4L536.0 433.7L539.1 433.7M542.5 432.6L545.4 431.1L547.5 429.1M611.7 403.0L614.0 402.0M545.0 377.0L547.3 378.7L550.1 380.9L551.0 381.6M554.0 368.0L556.3 370.3L559.1 373.1L560.0 374.0M694.0 389.0L696.4 387.8L700.0 386.0M700.0 386.0L703.6 384.2M703.6 384.2L706.0 383.0M950.8 489.0L954.7 486.7M963.4 503.4L965.0 506.1L967.2 509.7L968.8 512.4M958.0 516.0L957.8 518.2L957.5 521.3L957.1 525.0L956.9 526.9M956.6 530.3L956.3 533.1L956.2 534.0M946.9 560.1L947.2 561.0M981.4 507.0L981.9 509.7L982.3 511.5M992.2 526.8L991.5 529.0L990.4 532.2L989.2 535.8M956.9 572.0L958.0 571.8M952.1 588.3L951.2 592.0M951.4 598.9L952.7 602.3L954.0 605.1L954.4 606.0M984.5 573.8L985.0 575.4M994.8 590.6L995.3 594.5L995.5 596.3M963.4 618.6L963.4 621.2L963.4 625.0L963.4 628.3M1024.6 602.4L1023.5 604.6L1021.9 607.8L1020.1 611.4M943.4 560.1L945.4 562.8M770.3 722.1L773.0 722.5M782.0 748.0L784.7 747.1L788.3 745.9L791.0 745.0M789.5 727.0L792.5 726.2L795.5 725.5M817.8 747.3L820.2 745.6L821.0 745.0M830.0 709.0L832.3 708.3L835.6 707.3L837.5 706.8M839.0 743.5L842.7 744.1M830.0 764.5L831.8 762.9L834.5 760.6L837.5 757.9M837.5 796.0L839.8 796.5L843.2 797.2M843.2 797.2L846.6 798.3M812.0 796.0L815.2 797.1L816.5 797.5M794.0 805.0L796.8 806.1L800.4 807.5L801.5 808.0M768.7 831.1L771.5 830.5M865.0 636.3L865.8 638.6L866.8 641.9M866.8 641.9L867.5 645.0L867.2 648.5L866.5 651.6M866.5 651.6L866.3 652.6M877.6 645.0L876.3 648.3M910.2 700.2L912.7 702.7M927.7 676.4L931.5 675.2M937.7 677.7L939.6 680.2L941.5 682.7M945.2 666.4L946.0 670.1L946.5 672.7M942.7 627.5L944.6 630.6L946.5 633.8M962.8 676.4L966.6 675.2M1023.0 625.0L1026.5 625.0L1028.0 625.0M702.0 293.4L705.2 293.5L708.8 294.4L711.8 295.6M600.0 301.2L602.6 302.2L606.2 303.6L609.5 304.8M600.0 321.2L602.8 323.0L604.0 323.8M658.4 325.1L662.1 326.1L663.7 326.5M621.0 335.0L622.0 336.5M635.8 358.3L638.2 357.2L641.8 355.7M692.9 388.9L695.3 387.8L698.9 386.2M698.9 386.2L702.5 384.6L704.9 383.5M708.9 386.2L711.5 387.5M548.0 484.2L548.4 486.5L548.9 489.8M548.9 489.8L549.6 493.6M584.4 501.0L585.7 503.1L587.5 506.1M592.2 518.1L592.8 520.6M532.6 569.6L534.0 572.4L535.4 575.2M562.0 566.8L564.1 569.6L565.3 571.3M565.3 571.3L566.2 572.4M543.8 613.0L546.4 615.1M548.2 616.5L550.8 618.6M563.4 512.2L565.4 515.2L566.2 516.4" stroke="#e68a38" stroke-width="7"/>
<path d="M745.9 256.0L747.9 256.8L750.7 257.9L754.0 259.2M787.4 291.9L790.8 293.4M808.7 284.7L811.1 287.9L813.1 290.5M866.8 217.7L868.8 218.2L871.7 219.0M871.7 219.0L875.2 219.8L877.0 220.3M877.0 220.3L880.6 221.3M905.2 266.4L907.2 266.8L910.2 267.5L911.9 267.8M911.9 267.8L915.5 268.6L919.1 269.4M625.7 276.0L629.4 276.3L633.0 276.6L634.8 276.8M578.4 333.7L581.5 334.4L583.7 334.9M914.9 447.8L916.6 451.2L917.3 452.9M917.3 452.9L918.0 456.0L918.0 457.5M915.9 464.2L914.3 467.4L912.9 470.1L912.0 472.0M951.7 531.5L950.5 534.6L949.4 537.6L948.5 540.9M948.5 540.9L947.6 544.2M947.1 545.9L946.2 549.0L945.7 550.4M919.0 588.7L918.6 592.5L918.2 595.7L918.0 598.0M906.3 578.6L905.1 581.8L904.4 583.5M899.0 597.7L897.9 600.8L897.3 602.2M894.2 610.6L894.0 614.0L894.5 616.9L895.4 620.6M895.4 620.6L896.4 624.4L896.9 626.1M896.9 626.1L897.7 629.0L898.0 630.0M992.0 586.0L992.8 588.4L993.4 590.1M994.0 592.0L995.2 595.6M988.0 530.0L989.5 533.0L990.5 535.0M990.5 535.0L992.0 538.0M546.0 616.0L547.1 618.2L547.8 619.7M550.4 624.9L552.0 628.0L552.9 629.6M550.0 644.0L551.3 645.8L552.1 647.0M570.6 667.1L574.4 667.5L576.3 667.6M566.0 606.0L567.5 608.4L569.5 611.9L570.5 613.6M570.5 613.6L572.0 616.0M650.0 718.0L651.9 719.2L654.7 721.0L656.3 722.0M659.6 676.8L662.0 676.0M716.1 632.3L719.9 631.7M723.5 631.1L726.6 630.6L729.1 630.1L730.0 630.0M654.0 656.0L657.0 656.0L660.8 656.0M535.0 714.0L538.0 716.4L539.2 717.3M605.0 763.6L606.0 764.0M678.0 768.0L680.4 768.0L684.0 768.0L687.6 768.0M635.0 242.1L638.0 243.0L640.9 244.6M640.9 244.6L643.4 246.5L645.8 248.3M661.8 248.6L664.2 246.6L665.0 246.0M614.0 219.0L616.4 218.5L619.8 217.7L623.5 216.9L625.1 216.5M625.1 216.5L627.5 216.0M680.0 213.0L682.3 212.1L685.6 210.7M727.4 244.2L729.5 243.0M752.0 247.5L753.8 249.7L755.0 251.2M685.1 276.3L688.6 276.0L690.3 276.0M596.8 217.5L599.0 219.0M407.0 492.0L406.0 495.0L405.0 498.0M449.0 464.0L446.2 466.8L445.0 468.0M441.0 508.0L439.5 511.0L437.6 514.8L437.0 516.0M436.1 542.5L438.5 545.8L441.0 548.0M407.0 550.0L407.8 553.0L408.2 555.0M385.0 550.0L386.0 553.0L387.0 556.0M427.0 562.0L428.2 565.6L429.0 568.0M457.0 544.0L458.0 547.0L458.6 548.8M504.8 404.2L507.1 401.2L509.0 400.0L510.4 401.7M467.0 386.0L469.8 388.8L471.0 390.0M426.0 590.0L428.0 593.0L429.2 594.8M429.2 594.8L430.0 596.0M441.5 615.9L442.5 617.6M443.4 619.0L444.0 620.0M424.0 650.0L426.3 652.3L429.1 655.1L430.0 656.0M426.0 668.0L427.0 671.0L427.6 672.8M452.0 664.0L454.2 665.6L455.8 666.6M462.5 673.4L464.0 676.0M470.0 646.0L472.4 647.0L475.9 648.4L477.6 649.0M471.0 695.6L472.0 698.0M482.8 664.8L484.0 666.0M488.1 701.4L491.9 702.6L495.0 703.7L496.0 704.0M524.0 708.0L525.8 709.5L528.5 711.8M543.0 743.3L546.7 744.4M546.7 744.4L549.8 745.3L552.0 746.0M548.0 616.0L548.8 618.0L549.9 620.8L551.3 624.2M436.0 704.0L438.8 706.8L440.0 708.0M582.8 745.9L584.9 747.3L586.4 748.3M540.0 751.8L541.3 754.4L543.1 758.0L544.4 760.6M594.6 760.6L597.9 761.2L600.1 761.5M629.0 775.9L631.4 778.3M589.0 773.6L592.1 775.0L593.1 775.4M599.0 776.9L601.6 776.9L605.3 776.9L609.3 776.9M609.3 776.9L612.6 776.9L613.7 776.9M661.0 757.7L664.3 757.7L666.5 757.7M695.5 830.1L697.8 831.4M747.2 622.0L749.5 621.6L752.8 621.1L756.5 620.3L758.3 619.9M765.6 616.4L768.0 614.5L770.4 612.6L771.6 611.6M728.4 626.3L731.7 625.5L732.8 625.2M720.0 650.8L722.8 650.8L726.8 650.8L728.4 650.8M776.0 670.0L779.0 670.6L782.8 671.4L784.0 671.6M832.0 730.8L835.2 731.6L838.4 732.4M777.6 738.8L781.2 740.0L782.4 740.4M864.0 634.8L866.0 637.5M867.0 639.3L866.6 642.5L864.2 645.6M876.8 615.6L877.6 618.4L878.5 621.6M889.6 614.0L890.5 616.2L891.7 619.3L892.4 621.1M895.0 689.9L896.0 689.2M451.2 276.2L450.5 280.1L449.5 283.7M464.2 268.5L465.0 270.6L466.2 273.7L467.6 277.4M467.6 277.4L468.9 281.0L470.1 284.1M493.0 239.7L495.3 238.4L498.6 236.4L500.3 235.4M515.1 239.7L517.8 238.6L521.6 237.1M565.7 239.9L568.5 238.5L570.4 237.5M519.8 322.2L517.9 325.0L517.3 326.0M543.9 326.0L545.7 327.8L548.3 330.4L550.9 333.1M563.8 337.1L566.2 336.8L569.6 336.3L573.5 335.7M616.5 307.0L619.1 308.3M548.2 390.6L550.0 391.3M576.5 366.6L578.6 369.4M826.6 557.5L827.0 560.0M897.5 482.0L897.9 484.7L898.6 488.3L899.0 491.0M908.0 515.0L908.6 517.4L909.5 521.0M909.5 521.0L910.4 524.6L911.0 527.0M905.0 545.0L908.2 546.1L909.5 546.5M872.0 602.0L872.6 604.4L873.5 608.0L874.0 609.9M853.0 555.0L855.0 556.0M832.0 345.0L834.0 347.0M796.1 409.7L799.6 409.7M818.1 442.9L818.9 445.9L819.2 447.1M555.4 392.0L556.6 394.2L558.1 397.3L558.3 400.8L557.8 402.0M547.5 429.1L548.7 425.7L549.3 422.4L549.5 421.4M577.5 400.1L578.6 403.0L579.0 404.0M557.0 451.0L558.2 453.4L559.9 456.9M559.9 456.9L561.6 460.3M561.6 460.3L562.8 462.7M635.0 359.5L637.3 358.5L638.9 357.8M940.0 512.4L941.4 515.1L943.1 518.5L943.6 519.6M982.3 511.5L983.0 514.9L983.2 516.0M953.6 572.5L956.9 572.0M951.2 592.0L950.8 595.2L951.4 598.9M1017.9 615.9L1017.4 616.8M940.0 555.6L942.0 558.3L943.4 560.1M777.7 739.5L781.1 737.3M830.0 742.0L832.2 742.4L835.3 742.9L837.1 743.2M842.7 744.1L845.8 744.6L848.0 745.0M764.0 832.0L766.8 831.4L768.7 831.1M895.5 628.1L896.6 631.8L897.6 635.0M882.6 662.6L884.3 666.1L885.0 667.6M925.2 695.2L926.5 697.7M944.0 660.1L944.5 662.7L945.2 666.4M957.8 690.2L956.9 693.7L956.5 695.2M666.4 288.0L670.1 288.9L671.7 289.3M677.0 281.3L680.0 281.8L683.8 282.5M609.5 304.8L610.6 305.2M724.8 383.5L726.9 384.6L730.1 386.2L733.7 388.0M746.0 388.9L749.7 389.8L751.3 390.2M649.1 376.9L653.1 378.2M587.5 506.1L589.3 509.3M574.9 558.0L576.0 561.2" stroke="#dc6610" stroke-width="2.2"/>
<path d="M846.3 300.8L847.6 303.9L848.8 307.2M850.6 312.3L851.7 315.6L852.7 318.7L853.6 321.4M754.0 259.2L757.5 260.6L761.0 262.1L762.6 262.8M762.6 262.8L765.4 264.2L768.3 266.2L769.8 267.7M813.1 290.5L813.7 291.4M882.3 221.7L885.3 222.7L887.5 223.6M887.5 223.6L890.2 226.9L890.4 229.5M917.0 249.1L919.0 252.4M919.0 252.4L920.9 255.6L921.7 257.0M919.1 269.4L922.4 270.1L924.9 270.6L925.8 270.8M612.2 273.6L615.7 274.4L619.1 275.1M634.8 276.8L637.8 277.0L640.3 277.2L641.2 277.3M910.0 440.0L911.2 441.9L912.9 444.6L914.9 447.8M918.0 457.5L917.2 460.8L915.9 464.2M942.8 555.4L940.0 557.1L937.0 558.2M937.0 558.2L934.0 560.0L931.9 562.0M926.6 568.4L924.8 570.9L924.0 572.0M920.4 580.3L919.7 583.4L919.2 586.9M901.4 591.5L900.3 594.6L899.0 597.7M897.3 602.2L896.4 604.8L895.2 608.0L894.2 610.6M954.0 582.0L952.6 584.2L950.6 587.2M949.6 589.0L948.8 590.7M948.2 592.4L948.2 595.6M948.2 595.6L949.6 599.0L951.7 602.4L953.5 605.1M953.5 605.1L954.0 606.0M964.0 618.0L963.6 620.4L963.3 622.1M962.4 627.6L962.0 630.0M995.2 595.6L996.0 598.0M552.9 629.6L554.9 633.0L556.7 635.9L558.0 638.0M553.1 648.3L555.2 651.3M561.1 659.8L562.6 662.8L564.5 665.1M564.5 665.1L567.3 666.5L570.6 667.1M608.0 696.0L610.4 696.6L612.1 697.0M614.0 697.5L618.0 698.5L621.6 699.4L623.0 699.7M623.0 699.7L624.0 700.0M658.0 723.0L661.3 725.0L664.1 726.8L665.2 727.5M654.0 702.0L656.2 701.3L659.3 700.4M659.3 700.4L663.0 699.3L666.9 698.1M666.9 698.1L670.3 697.1L673.1 696.3L674.0 696.0M634.0 688.0L637.0 688.8L640.8 689.7M706.0 634.0L708.0 633.7L710.9 633.2L714.3 632.6L716.1 632.3M716.0 648.0L718.4 648.3L722.0 648.9L725.9 649.4M660.8 656.0L662.0 656.0M530.0 710.0L532.0 711.6L533.5 712.8M539.2 717.3L540.0 718.0M589.6 750.5L592.0 752.0M596.0 760.0L598.4 761.0L601.9 762.4L605.0 763.6M624.0 772.0L626.0 773.6L627.5 774.8M554.0 744.0L556.3 746.3L559.1 749.1L560.0 750.0M538.0 754.0L540.3 756.3L543.1 759.1L544.0 760.0M597.7 243.6L601.2 244.3M601.2 244.3L604.6 245.0L607.5 245.6L609.5 246.0M624.5 240.0L626.7 240.4L629.8 241.0L633.3 241.7L635.0 242.1M623.0 258.0L625.2 258.5L628.4 259.1L631.9 260.0M631.9 260.0L635.0 261.0L638.1 262.7L639.5 263.7M639.5 263.7L642.2 265.6L644.0 267.0M600.5 267.0L602.9 267.0L606.5 267.0M622.7 280.1L626.0 279.0L629.3 277.9L631.1 277.3M631.1 277.3L634.0 276.3L635.0 276.0M597.6 281.7L601.1 281.2L604.0 280.7L605.0 280.5M632.0 207.0L634.3 207.5L637.6 208.1L639.4 208.5M639.4 208.5L642.7 209.5L645.7 211.1L647.1 212.5M729.5 199.5L731.7 201.3L733.2 202.5M719.0 249.0L721.1 247.8L724.2 246.0L727.4 244.2M690.3 276.0L693.5 276.1M693.5 276.1L696.7 276.5L700.2 277.1M708.0 278.6L710.0 279.0M725.0 279.0L727.3 279.5L730.6 280.1L732.5 280.5M732.5 280.5L736.1 281.2L737.7 281.5M421.0 484.0L424.0 482.5L427.8 480.6L429.0 480.0M415.0 488.0L416.5 491.0M417.5 493.0L419.0 496.0M457.0 452.0L458.7 454.8L460.6 458.5M460.6 458.5L460.1 461.8M435.0 494.0L436.0 498.0M438.0 522.0L440.0 526.0M453.0 516.0L453.0 519.5L453.0 521.0M433.0 536.0L434.3 538.8L436.1 542.5M421.0 532.0L422.0 535.0L422.6 536.8M422.6 536.8L423.0 538.0M415.0 564.0L414.0 567.0L413.4 568.8M451.0 568.0L453.0 571.0L454.2 572.8M458.6 548.8L459.0 550.0M397.0 572.0L398.0 575.0L399.0 578.0M424.0 447.0L426.0 450.0M501.0 410.0L502.5 407.7L503.6 406.0M512.7 410.9L513.0 412.0M477.0 396.0L479.8 393.2M479.8 393.2L481.0 392.0M452.0 596.0L454.0 600.0M406.0 600.0L408.3 602.3L411.1 605.1L412.0 606.0M425.9 611.9L429.0 613.5M429.0 613.5L430.0 614.0M438.0 610.0L439.5 612.4L440.5 614.1M460.0 614.0L462.4 614.4L466.0 615.0L469.6 615.6L471.0 615.8M479.0 625.0L481.0 628.0M433.6 642.2L436.0 644.0M444.0 646.0L446.8 648.8L448.0 650.0M427.6 672.8L428.0 674.0M455.8 666.6L458.8 668.9L461.4 671.6L462.5 673.4M468.0 688.0L469.0 690.4L470.4 693.9L471.0 695.6M504.0 704.0L506.8 706.8L508.0 708.0M528.5 711.8L531.5 714.2L534.2 716.5L536.0 718.0M512.0 718.0L515.0 720.0L518.0 722.0M532.0 740.0L534.2 740.7L537.3 741.6M551.3 624.2L552.7 627.8M552.7 627.8L554.1 631.2L555.2 634.0L556.0 636.0M554.5 649.2L557.2 651.3L558.0 652.0M496.0 610.0L498.8 612.8L500.0 614.0M480.0 586.0L482.4 587.8L485.6 590.2L488.0 592.0M464.0 600.0L466.0 603.0L468.0 606.0M460.0 720.0L463.0 721.5L465.0 722.5M465.0 722.5L468.0 724.0M586.4 748.3L589.5 750.4L591.6 751.8M615.2 765.1L617.8 765.5L621.5 766.1L624.1 766.5M625.5 772.4L627.6 774.5L629.0 775.9M633.3 780.2L634.4 781.3M578.3 763.6L580.0 765.3L581.1 766.5M600.5 788.7L602.0 790.8L604.2 793.6L606.4 796.0L608.0 797.1M608.0 797.1L611.2 798.6L612.3 799.0M635.9 791.6L638.5 791.4L642.3 791.1M654.1 797.7L655.9 800.6L657.2 804.0L658.0 806.4M672.7 796.0L675.3 796.4L679.0 797.1L681.6 797.5M666.5 757.7L669.8 757.7M685.5 768.0L689.2 768.0L690.4 768.0M634.0 754.2L637.3 754.7M681.6 819.6L683.3 821.5L684.5 822.9M581.3 796.0L583.9 797.3L585.7 798.2M554.2 772.1L555.9 775.6M555.9 775.6L557.7 778.3L559.1 779.5M613.7 802.0L615.2 804.9L616.7 807.8M709.6 762.1L711.8 761.7L715.2 761.0L718.8 760.3M771.6 611.6L774.2 609.9L777.0 608.2L779.8 606.6L781.2 605.8M776.0 700.4L778.6 700.1L782.4 699.6L784.4 699.4M784.4 699.4L787.7 698.9L788.8 698.8M836.2 704.7L840.2 704.3L844.0 704.0M844.0 704.0L847.0 703.7L848.0 703.6M753.6 722.8L757.0 723.9L758.4 724.4M763.2 721.2L766.0 721.7L770.0 722.3L772.8 722.8M720.0 674.8L722.0 674.9L724.8 675.1L726.4 675.2M728.2 675.3L731.9 675.5L735.6 675.8M772.8 737.2L775.6 738.1L777.6 738.8M862.8 647.1L860.8 649.2M873.6 606.0L874.4 608.3L875.6 611.6L876.8 615.6M869.4 658.8L866.9 661.9L864.7 664.4L864.0 665.2M844.8 644.4L847.6 643.9L849.6 643.6M849.6 643.6L853.2 643.0M853.2 643.0L854.4 642.8M848.0 658.8L851.2 657.2M870.4 698.8L873.2 698.8L877.2 698.8L880.0 698.8M889.6 694.0L892.0 692.2L895.0 689.9M446.7 267.7L449.3 270.2M449.5 283.7L448.8 286.2M485.4 248.9L489.1 247.7L492.0 246.7L493.0 246.4M500.3 235.4L503.2 233.7L504.1 233.1M521.6 237.1L525.1 235.7L526.2 235.3M547.5 223.7L550.6 221.4L551.8 220.5M551.8 220.5L552.7 219.8M552.7 246.4L554.6 245.4L557.4 244.0L560.7 242.4L562.4 241.5M562.4 241.5L565.7 239.9M550.5 219.8L552.8 218.7L556.2 217.0M556.2 217.0L559.9 215.2L562.8 213.7L563.8 213.2M465.3 315.0L466.0 318.9M466.0 318.9L466.5 321.6M477.5 303.9L480.1 302.6L483.8 300.8L486.4 299.5M535.0 295.0L535.7 297.6L536.6 301.3M536.6 301.3L537.3 303.9M521.5 315.6L521.5 318.8L519.8 322.2M485.1 336.7L486.4 339.3M493.0 348.1L494.3 350.7L496.1 354.4L496.9 355.9M496.9 355.9L497.4 357.0M543.9 357.0L545.9 355.6L547.3 354.7M547.3 354.7L550.6 352.6M552.2 351.4L555.2 349.5L557.2 348.1M574.9 312.7L577.2 311.9L580.6 310.8M574.9 284.0L577.2 282.8L580.6 281.1M582.4 280.2L585.8 278.5M585.8 278.5L588.1 277.3M599.9 267.0L603.4 266.6L605.8 266.3M645.1 283.1L648.8 284.3L652.2 285.4L653.5 285.9M653.5 285.9L654.5 286.2M689.4 279.0L693.1 279.7L696.7 280.5M647.5 354.1L650.1 354.8M448.8 368.1L450.1 370.3L452.1 373.6M452.1 373.6L454.1 376.9M541.7 388.0L544.4 389.1L546.2 389.8M572.6 361.4L574.2 363.6L576.5 366.6M803.5 589.0L805.9 586.3L807.0 584.9M833.0 534.5L834.0 532.1L835.6 528.7M838.0 523.4L839.0 521.0M908.2 565.6L909.9 562.1L910.8 560.4M894.5 560.0L897.0 559.3L900.7 558.2M894.5 510.5L895.1 513.3L895.8 516.9L896.0 518.0M881.0 533.0L884.0 536.0M887.0 548.0L887.4 550.7L887.8 552.5M887.8 552.5L888.3 555.9L888.5 557.0M874.0 609.9L874.7 613.0L875.0 614.0M836.0 593.0L838.4 593.3L842.0 593.8L845.6 594.2L847.0 594.4M847.0 594.4L848.0 594.5M914.0 509.0L917.0 512.0M835.6 311.8L836.9 315.1L837.9 317.8L838.2 318.7M794.7 318.0L795.7 320.4M892.7 342.5L894.3 344.1L896.7 346.5L898.0 347.8M898.0 347.8L900.6 350.4L903.0 352.8L903.9 353.7M788.9 410.5L791.1 410.3L794.3 409.8L796.1 409.7M799.6 409.7L802.5 410.5L804.8 412.3L806.8 414.9M814.7 431.5L815.6 434.5L816.6 437.7M816.6 437.7L817.6 441.1L818.1 442.9M819.2 447.1L819.5 448.0M557.8 402.0L555.9 404.9L553.4 408.0L552.2 409.4M552.2 409.4L550.2 411.8L549.5 412.6M539.1 433.7L542.5 432.6M573.0 389.0L573.9 391.3L575.3 394.6L576.7 398.4M585.0 414.0L587.4 414.9L591.0 416.2M592.9 416.9L596.0 418.1L597.0 418.5M601.0 408.0L603.3 407.0L606.6 405.4L610.1 403.8M534.7 367.0L536.9 369.2L538.4 370.6M539.7 371.9L540.6 372.8M555.4 440.6L557.1 442.8L559.6 445.8L561.3 448.0M548.0 459.8L549.5 461.9L551.5 465.0L553.4 467.7M553.4 467.7L554.0 468.6M587.8 459.8L589.6 461.6L592.2 464.2L593.6 465.6M593.6 465.6L596.0 467.9L596.7 468.6M638.9 357.8L642.4 356.1L645.7 354.6L648.0 353.6M954.7 486.7L956.3 488.1L956.2 491.1L955.7 494.8M955.4 496.7L954.7 500.2L953.7 503.6L952.9 505.3M952.9 505.3L951.3 507.9L950.8 508.8M956.9 526.9L956.6 530.3M947.2 526.8L946.8 528.8L946.2 531.7L945.9 533.3M945.9 533.3L945.2 536.8L944.8 538.6M944.8 538.6L944.2 542.3L943.8 545.6M943.8 545.6L943.6 548.4L943.7 550.5M943.7 550.5L944.6 554.3L945.8 557.6L946.9 560.1M989.2 535.8L988.0 539.3L987.1 542.1L986.8 543.0M990.4 496.2L990.9 498.9L991.7 502.5L992.2 505.2M947.2 573.6L949.8 573.2L951.6 572.9M954.4 580.8L953.7 583.1L952.7 586.4M983.2 570.0L984.5 573.8M994.0 584.4L994.3 586.9L994.8 590.6M995.5 596.3L995.8 598.8M979.6 604.2L980.0 606.8L980.7 610.6L981.0 612.4M981.0 612.4L981.4 615.0M963.4 628.3L963.4 629.4M1020.1 611.4L1018.5 614.6L1017.9 615.9M1015.6 580.8L1017.0 583.5L1018.7 586.9L1019.2 588.0M749.0 725.5L751.7 725.1L755.3 724.4L758.0 724.0M764.0 721.0L766.7 721.4L770.3 722.1M785.0 709.0L788.0 709.0L791.0 709.0M770.0 742.0L772.6 741.2L776.1 740.1L779.0 739.0M781.1 737.3L782.0 736.0M797.0 730.0L800.0 728.5L803.0 727.0M803.0 754.0L805.3 753.3L808.7 752.3L810.4 751.7M810.4 751.7L813.4 750.2L816.3 748.3L817.8 747.3M837.5 706.8L841.1 705.7L844.0 704.8L845.0 704.5M837.5 757.9L840.2 755.6L842.0 754.0M848.0 799.0L850.6 801.0L853.0 803.6M854.0 804.8L855.5 806.5M840.0 770.0L841.0 771.0M797.0 757.0L800.0 757.0L803.0 757.0M759.5 773.5L762.5 774.2L765.5 775.0M771.5 766.0L774.5 766.8L777.5 767.5M795.5 772.0L798.5 771.2L801.5 770.5M818.0 805.0L820.7 805.4L824.3 806.1L827.0 806.5M740.0 794.5L743.2 795.6L744.5 796.0M740.0 835.0L742.7 835.4L746.3 836.1L749.0 836.5M810.5 818.5L813.7 819.6L815.0 820.0M834.5 815.5L837.7 817.6L839.0 818.5M878.8 633.8L878.7 636.2L878.5 639.7L878.0 643.4L877.6 645.0M875.4 649.9L873.7 653.0L872.5 655.1M893.9 622.5L894.6 624.8L895.5 628.1M897.6 635.0L898.8 638.3M898.8 638.3L900.0 641.5L900.6 642.9M900.6 642.9L901.4 645.0M860.0 682.7L861.8 686.2L862.5 687.7M872.5 699.0L875.3 698.1L878.9 696.9L880.0 696.5M893.9 692.7L893.0 694.9L891.7 698.1L890.3 701.6M890.3 701.6L889.2 704.4L888.8 705.3M931.5 650.1L932.7 652.6M964.1 655.1L965.3 658.9M942.7 707.8L945.3 709.0M917.7 730.3L919.0 733.4L920.2 736.6M903.9 732.8L907.6 735.3M873.8 722.8L876.3 725.3M647.8 285.3L651.1 286.0L654.4 286.6M683.8 282.5L685.0 282.7M692.9 295.9L695.2 295.2L698.5 294.2L702.0 293.4M711.8 295.6L712.8 295.9M752.7 290.6L755.4 291.1L759.3 292.0L763.2 292.8M763.2 292.8L765.9 293.3M762.0 322.5L764.6 322.8L768.2 323.3L770.0 323.5M770.0 323.5L772.6 323.8M613.3 318.5L616.0 318.0L619.9 317.1M619.9 317.1L623.8 316.3L625.4 316.0M625.4 316.0L626.5 315.8M650.0 334.0L651.5 335.0M643.7 354.8L646.8 353.4L647.8 353.0M735.4 388.8L738.6 390.4M738.6 390.4L740.7 391.5M549.9 495.4L550.4 498.7L550.6 500.0M550.6 500.0L550.8 501.0M589.3 509.3L590.7 512.5L591.8 516.3M548.0 527.6L549.6 530.2L551.6 533.5L552.2 534.6M528.4 496.8L530.4 499.8L531.2 501.0M538.2 540.2L539.3 543.4L540.6 547.3L541.0 548.6M573.2 552.8L574.3 556.0L574.9 558.0M539.6 599.0L542.4 601.1L545.2 603.2" stroke="#dc6610" stroke-width="3"/>
<path d="M740.0 270.8L742.2 271.7L745.5 273.0M745.5 273.0L749.2 274.5L752.5 275.8L754.7 276.7M828.5 282.6L830.1 283.7L832.4 284.9L833.7 285.7M833.7 285.7L836.5 287.5L839.4 289.8L842.0 292.7M842.0 292.7L843.8 295.4L845.1 297.9L846.3 300.8M848.8 307.2L850.0 310.6L850.6 312.3M853.6 321.4L854.4 323.7L855.0 325.4M769.8 267.7L771.9 270.5L773.3 272.9L773.9 273.7M779.8 288.5L782.1 289.5L785.5 291.0L787.4 291.9M790.8 293.4L793.1 294.4M805.0 279.6L806.5 281.7L808.7 284.7M914.0 244.2L915.2 246.2L917.0 249.1M921.7 257.0L922.9 259.0M601.4 270.7L603.3 271.2L605.8 271.9L607.3 272.3M607.3 272.3L610.5 273.2M619.1 275.1L622.2 275.5L623.9 275.8M563.8 330.4L566.0 330.9L567.4 331.2M567.4 331.2L570.9 332.0L574.7 332.9L578.4 333.7M958.0 516.0L957.3 517.8L956.2 520.3L955.0 523.3M955.0 523.3L953.7 526.5M953.7 526.5L952.4 529.8L951.7 531.5M945.7 550.4L944.6 552.9L942.8 555.4M931.9 562.0L929.7 564.5L927.6 567.1L926.6 568.4M924.0 572.0L922.4 574.8L921.3 577.4L920.4 580.3M908.0 574.0L907.3 575.9L906.3 578.6M903.8 585.2L902.6 588.5L901.4 591.5M963.0 624.0L962.4 627.6M547.8 619.7L549.5 623.1L550.4 624.9M555.2 651.3L557.3 654.2L559.2 656.9L560.0 658.0M576.3 667.6L579.7 667.8L582.0 668.0M622.0 712.0L624.0 713.6L627.0 716.0L630.0 718.4M630.0 718.4L632.0 720.0M665.2 727.5L666.0 728.0M640.8 689.7L642.0 690.0M650.0 680.0L652.4 679.2L656.0 678.0L659.6 676.8M719.9 631.7L723.5 631.1M725.9 649.4L729.0 649.9L730.0 650.0M648.0 642.0L649.0 645.0L650.0 648.0M562.0 724.0L564.3 726.3L567.1 729.1M567.1 729.1L568.0 730.0M570.0 734.0L572.4 733.7L576.0 733.1L579.9 732.6M579.9 732.6L583.0 732.1L584.0 732.0M582.0 746.0L584.4 747.5L587.9 749.5M627.5 774.8L630.5 777.2L633.2 779.3L634.0 780.0M687.6 768.0L690.0 768.0M690.0 742.0L693.0 742.6L697.0 743.4L700.0 744.0M579.5 240.0L581.5 240.4L584.4 241.0L587.8 241.7M587.8 241.7L591.3 242.4L594.5 243.0L596.1 243.3M645.8 248.3L648.5 249.8L651.5 251.2L653.0 251.8M653.0 251.8L656.0 252.0L658.8 250.8L661.8 248.6M606.5 267.0L610.1 267.0L612.5 267.0M617.0 282.0L619.3 281.2L622.7 280.1M587.0 280.5L589.3 281.1L592.7 281.9L595.9 281.9L597.6 281.7M647.1 212.5L649.3 215.1L650.0 216.0M647.0 234.0L649.8 234.0L653.4 234.0L654.5 234.0M685.6 210.7L689.4 209.3L692.7 207.9M692.7 207.9L695.0 207.0M733.2 202.5L736.1 204.8L737.0 205.5M722.0 219.0L723.3 221.0L725.2 223.8M725.2 223.8L727.2 226.7L729.1 229.7L730.1 231.5M730.1 231.5L731.9 234.5L732.5 235.5M755.0 251.2L757.3 254.1L758.0 255.0M683.0 244.5L685.4 244.8L687.1 245.0M689.0 245.2L692.6 245.7L695.0 246.0M695.0 258.0L697.3 258.2L700.6 258.6L704.4 258.9M704.4 258.9L707.7 259.3L710.0 259.5M677.0 277.5L679.0 277.2L681.8 276.8L685.1 276.3M700.2 277.1L703.6 277.7L706.7 278.4L708.0 278.6M737.7 281.5L740.0 282.0M590.0 213.0L592.2 214.5L595.3 216.5L596.8 217.5M560.0 214.5L562.7 215.4L566.3 216.6L569.0 217.5M403.0 464.0L401.0 468.0M460.1 461.8L457.0 464.0M459.0 476.0L460.0 479.0L461.0 482.0M424.0 501.0L426.0 504.0M421.0 510.0L421.7 512.7L422.1 514.6M422.1 514.6L423.0 518.0L423.5 519.8M423.5 519.8L424.6 523.0L425.0 524.0M409.0 520.0L410.8 522.4L413.2 525.6M413.2 525.6L415.0 528.0M393.0 508.0L394.0 511.0L394.6 512.8M394.6 512.8L395.0 514.0M397.0 534.0L399.3 536.3L402.1 539.1L403.0 540.0M408.2 555.0L409.0 558.0M425.0 556.0L425.8 558.4L427.0 562.0M413.4 568.8L413.0 570.0M441.0 560.0L443.0 564.0M454.2 572.8L455.0 574.0M389.0 408.0L391.8 410.8L393.0 412.0M510.4 401.7L511.5 405.4L512.0 407.4M512.0 407.4L512.7 410.9M523.0 438.0L526.0 439.0L529.0 440.0M414.0 580.0L415.5 583.0L417.4 586.8L418.0 588.0M442.0 586.0L444.0 589.0L446.0 592.0M418.0 608.0L420.4 609.2L424.0 611.0L425.9 611.9M471.0 615.8L472.0 616.0M410.0 630.0L412.3 632.3L415.1 635.1L416.0 636.0M428.0 638.0L430.4 639.8L433.6 642.2M477.6 649.0L480.0 650.0M480.0 662.0L482.8 664.8M508.0 676.0L509.5 679.0L511.4 682.8M511.4 682.8L512.0 684.0M484.0 700.0L486.4 700.8L488.1 701.4M537.3 741.6L541.0 742.7M536.0 752.0L538.8 754.8L540.0 756.0M548.0 644.0L550.0 645.6L553.0 648.0L554.5 649.2M396.0 628.0L397.5 631.0L399.4 634.8L400.0 636.0M552.0 768.0L555.0 770.0L558.0 772.0M602.1 761.9L603.4 762.1M582.4 767.8L585.0 770.4L587.2 772.4L589.0 773.6M625.5 794.6L628.3 796.3L631.8 798.3L632.9 799.0M644.3 791.1L647.7 791.6L649.2 792.4M649.2 792.4L651.9 794.8L654.1 797.7M678.6 768.0L681.5 768.0L685.5 768.0M628.5 753.3L631.8 753.8L634.0 754.2M643.2 762.1L645.8 761.2L649.5 760.1L652.1 759.2M685.9 824.2L688.8 826.4L692.1 828.3M692.1 828.3L695.5 830.1M585.7 798.2L589.0 800.0L590.1 800.5M551.8 766.5L552.8 768.8L554.2 772.1M559.1 779.5L562.5 781.3M562.5 781.3L565.5 782.4L566.5 782.8M718.8 760.3L722.2 759.6L724.4 759.2M758.3 619.9L761.6 618.8L764.3 617.3L765.6 616.4M781.2 605.8L784.0 604.4L787.1 603.0L788.7 602.3M788.7 602.3L791.8 601.0L794.3 600.0L795.2 599.6M720.0 628.4L722.6 627.8L726.4 626.8L728.4 626.3M728.4 650.8L729.6 650.8M811.2 697.2L814.2 698.4L818.0 699.9L819.2 700.4M830.4 705.2L832.8 705.0L836.2 704.7M735.6 675.8L739.2 676.0L742.3 676.2L743.6 676.3M743.6 676.3L745.6 676.4M878.5 621.6L879.3 625.0L879.9 628.4L880.0 631.6M880.0 631.6L879.6 634.6L878.7 637.6L878.1 639.1M878.1 639.1L876.9 642.0L875.7 644.7L875.2 646.0M875.2 646.0L874.0 649.1L872.9 652.0L871.7 654.7M871.7 654.7L870.4 657.2M851.2 657.2L854.4 655.6M892.4 621.1L893.9 624.7L895.1 627.8L896.0 630.0M835.2 641.2L835.7 644.0L836.3 648.0M836.3 648.0L836.8 650.8M848.0 618.8L851.4 619.9L852.8 620.4M798.4 671.6L801.6 673.2L804.8 674.8M442.1 264.1L444.0 265.6L446.7 267.7M450.4 271.5L451.2 274.4L451.2 276.2M479.7 250.8L482.0 250.0L485.4 248.9M470.1 284.1L470.9 286.2M543.9 226.5L546.0 224.9L547.5 223.7M539.5 250.8L542.0 252.5L543.6 253.5M543.6 253.5L546.1 255.2M464.2 308.3L464.7 311.0L465.3 315.0M517.3 308.3L518.8 310.6L520.8 313.9M481.9 330.4L483.2 333.0L485.1 336.7M550.9 333.1L552.7 334.9M575.3 335.5L578.3 335.0M578.3 335.0L579.3 334.9M552.7 368.1L554.9 369.7L557.9 372.0L560.7 374.0M560.7 374.0L561.6 374.7M580.6 310.8L584.2 309.6L585.8 309.1M585.8 309.1L588.1 308.3M588.1 303.9L589.9 305.7L592.6 308.3M592.6 308.3L595.2 310.9L597.0 312.7M610.3 303.9L612.9 305.2L616.5 307.0M566.0 297.3L567.7 294.8L569.7 291.6L570.4 290.6M588.1 268.5L590.5 268.2L594.0 267.8M594.0 267.8L598.0 267.3L599.9 267.0M641.2 281.8L643.5 282.6L645.1 283.1M681.1 277.3L683.1 277.7L686.0 278.3L689.4 279.0M698.3 280.8L701.2 281.4L703.2 281.8M641.2 352.6L643.8 353.3L645.7 353.7M454.1 376.9L455.4 379.1M550.0 391.3L552.7 392.4M578.6 369.4L579.3 370.3M800.0 593.0L801.5 591.3L803.5 589.0M807.0 584.9L809.0 582.5L811.1 579.6M812.1 578.1L813.8 575.4L815.0 573.5M825.5 549.5L825.9 552.0L826.4 555.7L826.6 557.5M836.4 526.8L838.0 523.4M905.0 572.0L906.0 570.0L907.4 567.2L908.2 565.6M910.8 560.4L912.4 557.3L913.6 554.8L914.0 554.0M900.7 558.2L904.0 557.3L905.0 557.0M869.0 581.0L872.0 584.0M855.0 498.0L856.0 499.0M828.0 300.0L829.3 301.9L831.2 304.6L833.2 307.5M833.2 307.5L834.8 310.2L835.6 311.8M790.6 308.5L791.6 310.9L793.1 314.4L794.7 318.0M806.0 305.0L806.6 308.2L807.4 312.3L807.6 313.6M834.8 334.0L837.3 335.5L840.8 337.6L843.3 339.1M853.5 335.7L854.8 338.3L856.4 341.5L856.9 342.5M868.8 364.6L870.5 367.2L872.2 369.7M869.5 338.5L871.5 340.0M864.4 381.0L866.4 382.5M802.5 352.7L805.0 355.1L806.0 356.1M765.0 322.0L768.7 323.3L770.2 323.8M903.9 353.7L904.6 354.4M806.8 414.9L808.6 417.9L809.4 419.4M809.4 419.4L811.0 422.4L811.7 423.8M812.4 425.3L813.6 428.4L814.7 431.5M528.8 418.5L529.5 420.8L530.5 424.2L531.6 427.9L532.3 429.6M532.3 429.6L533.8 432.4L536.0 433.7L539.1 433.7M542.5 432.6L545.4 431.1L547.5 429.1M611.7 403.0L614.0 402.0M545.0 377.0L547.3 378.7L550.1 380.9L551.0 381.6M554.0 368.0L556.3 370.3L559.1 373.1L560.0 374.0M694.0 389.0L696.4 387.8L700.0 386.0M700.0 386.0L703.6 384.2M703.6 384.2L706.0 383.0M950.8 489.0L954.7 486.7M963.4 503.4L965.0 506.1L967.2 509.7L968.8 512.4M958.0 516.0L957.8 518.2L957.5 521.3L957.1 525.0L956.9 526.9M956.6 530.3L956.3 533.1L956.2 534.0M946.9 560.1L947.2 561.0M981.4 507.0L981.9 509.7L982.3 511.5M992.2 526.8L991.5 529.0L990.4 532.2L989.2 535.8M956.9 572.0L958.0 571.8M952.1 588.3L951.2 592.0M951.4 598.9L952.7 602.3L954.0 605.1L954.4 606.0M984.5 573.8L985.0 575.4M994.8 590.6L995.3 594.5L995.5 596.3M963.4 618.6L963.4 621.2L963.4 625.0L963.4 628.3M1024.6 602.4L1023.5 604.6L1021.9 607.8L1020.1 611.4M943.4 560.1L945.4 562.8M770.3 722.1L773.0 722.5M782.0 748.0L784.7 747.1L788.3 745.9L791.0 745.0M789.5 727.0L792.5 726.2L795.5 725.5M817.8 747.3L820.2 745.6L821.0 745.0M830.0 709.0L832.3 708.3L835.6 707.3L837.5 706.8M839.0 743.5L842.7 744.1M830.0 764.5L831.8 762.9L834.5 760.6L837.5 757.9M837.5 796.0L839.8 796.5L843.2 797.2M843.2 797.2L846.6 798.3M812.0 796.0L815.2 797.1L816.5 797.5M794.0 805.0L796.8 806.1L800.4 807.5L801.5 808.0M768.7 831.1L771.5 830.5M865.0 636.3L865.8 638.6L866.8 641.9M866.8 641.9L867.5 645.0L867.2 648.5L866.5 651.6M866.5 651.6L866.3 652.6M877.6 645.0L876.3 648.3M910.2 700.2L912.7 702.7M927.7 676.4L931.5 675.2M937.7 677.7L939.6 680.2L941.5 682.7M945.2 666.4L946.0 670.1L946.5 672.7M942.7 627.5L944.6 630.6L946.5 633.8M962.8 676.4L966.6 675.2M1023.0 625.0L1026.5 625.0L1028.0 625.0M702.0 293.4L705.2 293.5L708.8 294.4L711.8 295.6M600.0 301.2L602.6 302.2L606.2 303.6L609.5 304.8M600.0 321.2L602.8 323.0L604.0 323.8M658.4 325.1L662.1 326.1L663.7 326.5M621.0 335.0L622.0 336.5M635.8 358.3L638.2 357.2L641.8 355.7M692.9 388.9L695.3 387.8L698.9 386.2M698.9 386.2L702.5 384.6L704.9 383.5M708.9 386.2L711.5 387.5M548.0 484.2L548.4 486.5L548.9 489.8M548.9 489.8L549.6 493.6M584.4 501.0L585.7 503.1L587.5 506.1M592.2 518.1L592.8 520.6M532.6 569.6L534.0 572.4L535.4 575.2M562.0 566.8L564.1 569.6L565.3 571.3M565.3 571.3L566.2 572.4M543.8 613.0L546.4 615.1M548.2 616.5L550.8 618.6M563.4 512.2L565.4 515.2L566.2 516.4" stroke="#dc6610" stroke-width="3.8"/>
<path d="M740.0 270.8L742.2 271.7L745.5 273.0M745.5 273.0L749.2 274.5L752.5 275.8L754.7 276.7M828.5 282.6L830.1 283.7L832.4 284.9L833.7 285.7M833.7 285.7L836.5 287.5L839.4 289.8L842.0 292.7M842.0 292.7L843.8 295.4L845.1 297.9L846.3 300.8M848.8 307.2L850.0 310.6L850.6 312.3M853.6 321.4L854.4 323.7L855.0 325.4M769.8 267.7L771.9 270.5L773.3 272.9L773.9 273.7M779.8 288.5L782.1 289.5L785.5 291.0L787.4 291.9M790.8 293.4L793.1 294.4M805.0 279.6L806.5 281.7L808.7 284.7M914.0 244.2L915.2 246.2L917.0 249.1M921.7 257.0L922.9 259.0M601.4 270.7L603.3 271.2L605.8 271.9L607.3 272.3M607.3 272.3L610.5 273.2M619.1 275.1L622.2 275.5L623.9 275.8M563.8 330.4L566.0 330.9L567.4 331.2M567.4 331.2L570.9 332.0L574.7 332.9L578.4 333.7M958.0 516.0L957.3 517.8L956.2 520.3L955.0 523.3M955.0 523.3L953.7 526.5M953.7 526.5L952.4 529.8L951.7 531.5M945.7 550.4L944.6 552.9L942.8 555.4M931.9 562.0L929.7 564.5L927.6 567.1L926.6 568.4M924.0 572.0L922.4 574.8L921.3 577.4L920.4 580.3M908.0 574.0L907.3 575.9L906.3 578.6M903.8 585.2L902.6 588.5L901.4 591.5M963.0 624.0L962.4 627.6M547.8 619.7L549.5 623.1L550.4 624.9M555.2 651.3L557.3 654.2L559.2 656.9L560.0 658.0M576.3 667.6L579.7 667.8L582.0 668.0M622.0 712.0L624.0 713.6L627.0 716.0L630.0 718.4M630.0 718.4L632.0 720.0M665.2 727.5L666.0 728.0M640.8 689.7L642.0 690.0M650.0 680.0L652.4 679.2L656.0 678.0L659.6 676.8M719.9 631.7L723.5 631.1M725.9 649.4L729.0 649.9L730.0 650.0M648.0 642.0L649.0 645.0L650.0 648.0M562.0 724.0L564.3 726.3L567.1 729.1M567.1 729.1L568.0 730.0M570.0 734.0L572.4 733.7L576.0 733.1L579.9 732.6M579.9 732.6L583.0 732.1L584.0 732.0M582.0 746.0L584.4 747.5L587.9 749.5M627.5 774.8L630.5 777.2L633.2 779.3L634.0 780.0M687.6 768.0L690.0 768.0M690.0 742.0L693.0 742.6L697.0 743.4L700.0 744.0M579.5 240.0L581.5 240.4L584.4 241.0L587.8 241.7M587.8 241.7L591.3 242.4L594.5 243.0L596.1 243.3M645.8 248.3L648.5 249.8L651.5 251.2L653.0 251.8M653.0 251.8L656.0 252.0L658.8 250.8L661.8 248.6M606.5 267.0L610.1 267.0L612.5 267.0M617.0 282.0L619.3 281.2L622.7 280.1M587.0 280.5L589.3 281.1L592.7 281.9L595.9 281.9L597.6 281.7M647.1 212.5L649.3 215.1L650.0 216.0M647.0 234.0L649.8 234.0L653.4 234.0L654.5 234.0M685.6 210.7L689.4 209.3L692.7 207.9M692.7 207.9L695.0 207.0M733.2 202.5L736.1 204.8L737.0 205.5M722.0 219.0L723.3 221.0L725.2 223.8M725.2 223.8L727.2 226.7L729.1 229.7L730.1 231.5M730.1 231.5L731.9 234.5L732.5 235.5M755.0 251.2L757.3 254.1L758.0 255.0M683.0 244.5L685.4 244.8L687.1 245.0M689.0 245.2L692.6 245.7L695.0 246.0M695.0 258.0L697.3 258.2L700.6 258.6L704.4 258.9M704.4 258.9L707.7 259.3L710.0 259.5M677.0 277.5L679.0 277.2L681.8 276.8L685.1 276.3M700.2 277.1L703.6 277.7L706.7 278.4L708.0 278.6M737.7 281.5L740.0 282.0M590.0 213.0L592.2 214.5L595.3 216.5L596.8 217.5M560.0 214.5L562.7 215.4L566.3 216.6L569.0 217.5M403.0 464.0L401.0 468.0M460.1 461.8L457.0 464.0M459.0 476.0L460.0 479.0L461.0 482.0M424.0 501.0L426.0 504.0M421.0 510.0L421.7 512.7L422.1 514.6M422.1 514.6L423.0 518.0L423.5 519.8M423.5 519.8L424.6 523.0L425.0 524.0M409.0 520.0L410.8 522.4L413.2 525.6M413.2 525.6L415.0 528.0M393.0 508.0L394.0 511.0L394.6 512.8M394.6 512.8L395.0 514.0M397.0 534.0L399.3 536.3L402.1 539.1L403.0 540.0M408.2 555.0L409.0 558.0M425.0 556.0L425.8 558.4L427.0 562.0M413.4 568.8L413.0 570.0M441.0 560.0L443.0 564.0M454.2 572.8L455.0 574.0M389.0 408.0L391.8 410.8L393.0 412.0M510.4 401.7L511.5 405.4L512.0 407.4M512.0 407.4L512.7 410.9M523.0 438.0L526.0 439.0L529.0 440.0M414.0 580.0L415.5 583.0L417.4 586.8L418.0 588.0M442.0 586.0L444.0 589.0L446.0 592.0M418.0 608.0L420.4 609.2L424.0 611.0L425.9 611.9M471.0 615.8L472.0 616.0M410.0 630.0L412.3 632.3L415.1 635.1L416.0 636.0M428.0 638.0L430.4 639.8L433.6 642.2M477.6 649.0L480.0 650.0M480.0 662.0L482.8 664.8M508.0 676.0L509.5 679.0L511.4 682.8M511.4 682.8L512.0 684.0M484.0 700.0L486.4 700.8L488.1 701.4M537.3 741.6L541.0 742.7M536.0 752.0L538.8 754.8L540.0 756.0M548.0 644.0L550.0 645.6L553.0 648.0L554.5 649.2M396.0 628.0L397.5 631.0L399.4 634.8L400.0 636.0M552.0 768.0L555.0 770.0L558.0 772.0M602.1 761.9L603.4 762.1M582.4 767.8L585.0 770.4L587.2 772.4L589.0 773.6M625.5 794.6L628.3 796.3L631.8 798.3L632.9 799.0M644.3 791.1L647.7 791.6L649.2 792.4M649.2 792.4L651.9 794.8L654.1 797.7M678.6 768.0L681.5 768.0L685.5 768.0M628.5 753.3L631.8 753.8L634.0 754.2M643.2 762.1L645.8 761.2L649.5 760.1L652.1 759.2M685.9 824.2L688.8 826.4L692.1 828.3M692.1 828.3L695.5 830.1M585.7 798.2L589.0 800.0L590.1 800.5M551.8 766.5L552.8 768.8L554.2 772.1M559.1 779.5L562.5 781.3M562.5 781.3L565.5 782.4L566.5 782.8M718.8 760.3L722.2 759.6L724.4 759.2M758.3 619.9L761.6 618.8L764.3 617.3L765.6 616.4M781.2 605.8L784.0 604.4L787.1 603.0L788.7 602.3M788.7 602.3L791.8 601.0L794.3 600.0L795.2 599.6M720.0 628.4L722.6 627.8L726.4 626.8L728.4 626.3M728.4 650.8L729.6 650.8M811.2 697.2L814.2 698.4L818.0 699.9L819.2 700.4M830.4 705.2L832.8 705.0L836.2 704.7M735.6 675.8L739.2 676.0L742.3 676.2L743.6 676.3M743.6 676.3L745.6 676.4M878.5 621.6L879.3 625.0L879.9 628.4L880.0 631.6M880.0 631.6L879.6 634.6L878.7 637.6L878.1 639.1M878.1 639.1L876.9 642.0L875.7 644.7L875.2 646.0M875.2 646.0L874.0 649.1L872.9 652.0L871.7 654.7M871.7 654.7L870.4 657.2M851.2 657.2L854.4 655.6M892.4 621.1L893.9 624.7L895.1 627.8L896.0 630.0M835.2 641.2L835.7 644.0L836.3 648.0M836.3 648.0L836.8 650.8M848.0 618.8L851.4 619.9L852.8 620.4M798.4 671.6L801.6 673.2L804.8 674.8M442.1 264.1L444.0 265.6L446.7 267.7M450.4 271.5L451.2 274.4L451.2 276.2M479.7 250.8L482.0 250.0L485.4 248.9M470.1 284.1L470.9 286.2M543.9 226.5L546.0 224.9L547.5 223.7M539.5 250.8L542.0 252.5L543.6 253.5M543.6 253.5L546.1 255.2M464.2 308.3L464.7 311.0L465.3 315.0M517.3 308.3L518.8 310.6L520.8 313.9M481.9 330.4L483.2 333.0L485.1 336.7M550.9 333.1L552.7 334.9M575.3 335.5L578.3 335.0M578.3 335.0L579.3 334.9M552.7 368.1L554.9 369.7L557.9 372.0L560.7 374.0M560.7 374.0L561.6 374.7M580.6 310.8L584.2 309.6L585.8 309.1M585.8 309.1L588.1 308.3M588.1 303.9L589.9 305.7L592.6 308.3M592.6 308.3L595.2 310.9L597.0 312.7M610.3 303.9L612.9 305.2L616.5 307.0M566.0 297.3L567.7 294.8L569.7 291.6L570.4 290.6M588.1 268.5L590.5 268.2L594.0 267.8M594.0 267.8L598.0 267.3L599.9 267.0M641.2 281.8L643.5 282.6L645.1 283.1M681.1 277.3L683.1 277.7L686.0 278.3L689.4 279.0M698.3 280.8L701.2 281.4L703.2 281.8M641.2 352.6L643.8 353.3L645.7 353.7M454.1 376.9L455.4 379.1M550.0 391.3L552.7 392.4M578.6 369.4L579.3 370.3M800.0 593.0L801.5 591.3L803.5 589.0M807.0 584.9L809.0 582.5L811.1 579.6M812.1 578.1L813.8 575.4L815.0 573.5M825.5 549.5L825.9 552.0L826.4 555.7L826.6 557.5M836.4 526.8L838.0 523.4M905.0 572.0L906.0 570.0L907.4 567.2L908.2 565.6M910.8 560.4L912.4 557.3L913.6 554.8L914.0 554.0M900.7 558.2L904.0 557.3L905.0 557.0M869.0 581.0L872.0 584.0M855.0 498.0L856.0 499.0M828.0 300.0L829.3 301.9L831.2 304.6L833.2 307.5M833.2 307.5L834.8 310.2L835.6 311.8M790.6 308.5L791.6 310.9L793.1 314.4L794.7 318.0M806.0 305.0L806.6 308.2L807.4 312.3L807.6 313.6M834.8 334.0L837.3 335.5L840.8 337.6L843.3 339.1M853.5 335.7L854.8 338.3L856.4 341.5L856.9 342.5M868.8 364.6L870.5 367.2L872.2 369.7M869.5 338.5L871.5 340.0M864.4 381.0L866.4 382.5M802.5 352.7L805.0 355.1L806.0 356.1M765.0 322.0L768.7 323.3L770.2 323.8M903.9 353.7L904.6 354.4M806.8 414.9L808.6 417.9L809.4 419.4M809.4 419.4L811.0 422.4L811.7 423.8M812.4 425.3L813.6 428.4L814.7 431.5M528.8 418.5L529.5 420.8L530.5 424.2L531.6 427.9L532.3 429.6M532.3 429.6L533.8 432.4L536.0 433.7L539.1 433.7M542.5 432.6L545.4 431.1L547.5 429.1M611.7 403.0L614.0 402.0M545.0 377.0L547.3 378.7L550.1 380.9L551.0 381.6M554.0 368.0L556.3 370.3L559.1 373.1L560.0 374.0M694.0 389.0L696.4 387.8L700.0 386.0M700.0 386.0L703.6 384.2M703.6 384.2L706.0 383.0M950.8 489.0L954.7 486.7M963.4 503.4L965.0 506.1L967.2 509.7L968.8 512.4M958.0 516.0L957.8 518.2L957.5 521.3L957.1 525.0L956.9 526.9M956.6 530.3L956.3 533.1L956.2 534.0M946.9 560.1L947.2 561.0M981.4 507.0L981.9 509.7L982.3 511.5M992.2 526.8L991.5 529.0L990.4 532.2L989.2 535.8M956.9 572.0L958.0 571.8M952.1 588.3L951.2 592.0M951.4 598.9L952.7 602.3L954.0 605.1L954.4 606.0M984.5 573.8L985.0 575.4M994.8 590.6L995.3 594.5L995.5 596.3M963.4 618.6L963.4 621.2L963.4 625.0L963.4 628.3M1024.6 602.4L1023.5 604.6L1021.9 607.8L1020.1 611.4M943.4 560.1L945.4 562.8M770.3 722.1L773.0 722.5M782.0 748.0L784.7 747.1L788.3 745.9L791.0 745.0M789.5 727.0L792.5 726.2L795.5 725.5M817.8 747.3L820.2 745.6L821.0 745.0M830.0 709.0L832.3 708.3L835.6 707.3L837.5 706.8M839.0 743.5L842.7 744.1M830.0 764.5L831.8 762.9L834.5 760.6L837.5 757.9M837.5 796.0L839.8 796.5L843.2 797.2M843.2 797.2L846.6 798.3M812.0 796.0L815.2 797.1L816.5 797.5M794.0 805.0L796.8 806.1L800.4 807.5L801.5 808.0M768.7 831.1L771.5 830.5M865.0 636.3L865.8 638.6L866.8 641.9M866.8 641.9L867.5 645.0L867.2 648.5L866.5 651.6M866.5 651.6L866.3 652.6M877.6 645.0L876.3 648.3M910.2 700.2L912.7 702.7M927.7 676.4L931.5 675.2M937.7 677.7L939.6 680.2L941.5 682.7M945.2 666.4L946.0 670.1L946.5 672.7M942.7 627.5L944.6 630.6L946.5 633.8M962.8 676.4L966.6 675.2M1023.0 625.0L1026.5 625.0L1028.0 625.0M702.0 293.4L705.2 293.5L708.8 294.4L711.8 295.6M600.0 301.2L602.6 302.2L606.2 303.6L609.5 304.8M600.0 321.2L602.8 323.0L604.0 323.8M658.4 325.1L662.1 326.1L663.7 326.5M621.0 335.0L622.0 336.5M635.8 358.3L638.2 357.2L641.8 355.7M692.9 388.9L695.3 387.8L698.9 386.2M698.9 386.2L702.5 384.6L704.9 383.5M708.9 386.2L711.5 387.5M548.0 484.2L548.4 486.5L548.9 489.8M548.9 489.8L549.6 493.6M584.4 501.0L585.7 503.1L587.5 506.1M592.2 518.1L592.8 520.6M532.6 569.6L534.0 572.4L535.4 575.2M562.0 566.8L564.1 569.6L565.3 571.3M565.3 571.3L566.2 572.4M543.8 613.0L546.4 615.1M548.2 616.5L550.8 618.6M563.4 512.2L565.4 515.2L566.2 516.4" stroke="#ec5a16" stroke-width="2.5"/>
<path d="M816.5 229.8L820.2 229.3L823.9 229.3M823.9 229.3L826.9 229.8L829.7 230.8L832.5 232.2L833.9 232.9M849.2 243.4L851.3 245.1L852.1 245.7M855.1 277.1L856.7 280.1L857.4 281.4M857.4 281.4L858.8 284.3L859.5 285.9M861.7 293.2L862.4 295.9L862.9 297.6M860.1 267.3L863.7 267.7L867.4 268.3L869.2 268.6M497.4 299.5L498.6 301.6L500.4 304.6M543.9 272.9L545.9 272.3L548.7 271.4L551.9 270.4M681.9 256.6L684.6 255.5L685.5 255.2M584.9 307.0L587.8 309.2L590.5 311.2L592.6 312.7M863.8 290.0L866.5 292.5M873.5 296.1L876.8 295.0L880.2 293.3L881.9 292.5M924.0 317.0L926.0 317.0M911.2 333.5L912.3 337.0L914.0 340.0L915.0 341.1M912.0 356.0L913.1 358.2L913.8 359.6M905.5 376.5L907.6 379.4M916.6 385.7L920.0 386.0M930.1 389.8L932.2 392.2L934.3 394.8L936.1 397.6M930.0 420.0L930.4 422.0L930.9 424.8L931.2 426.4M951.8 464.0L954.0 466.0M954.0 466.0L955.8 468.8L956.6 470.3M900.5 596.0L899.5 600.0L899.0 601.9M584.4 640.7L586.0 644.0L586.9 645.7M665.0 264.0L667.1 263.3L670.2 262.4M452.0 626.0L452.9 628.3L454.1 631.6L455.4 634.8L456.0 636.0M554.9 745.6L558.2 747.0L559.2 747.4M819.1 674.3L822.4 673.2L825.4 671.2M766.9 687.5L769.9 685.0L771.3 683.8M771.3 683.8L773.6 681.8L774.4 681.2M819.2 721.2L821.6 721.0L823.3 720.8M812.8 734.0L815.6 733.5L819.6 732.9L822.4 732.4M854.4 684.4L857.6 684.4L859.5 684.4M454.5 308.2L455.2 311.6L455.4 312.7M506.9 340.6L508.7 344.2M780.2 606.6L783.6 605.5L786.7 604.3M895.6 611.9L894.1 614.9L893.0 617.0M858.6 303.4L859.6 305.5L861.2 308.5L862.0 310.2M976.6 637.6L975.2 640.2L974.2 642.0M810.5 733.0L813.0 732.6L816.7 732.1L820.0 731.6L821.0 731.5M826.8 720.3L830.5 720.0L833.9 719.8L835.4 719.7M810.3 779.1L809.0 781.0M821.0 790.0L823.2 789.5L826.4 788.9L829.9 788.0M829.9 788.0L833.0 787.0L836.1 785.3L837.5 784.3M952.8 635.0L952.1 638.1L951.5 641.3M963.9 630.2L964.1 631.3M626.1 286.5L629.2 286.6M629.2 286.6L632.4 284.7L634.5 282.7M564.8 606.0L566.8 608.0L569.7 610.9M776.9 244.2L779.1 244.9L782.2 245.8L785.6 247.1L787.2 247.8M805.6 261.2L809.0 262.0L812.3 263.3L814.1 264.0M814.1 264.0L817.3 265.4L819.6 266.4M799.0 236.9L801.3 238.2L804.4 240.1L806.0 241.0M918.4 317.0L922.0 316.9L925.1 316.6M925.1 316.6L927.3 316.5M516.7 355.1L518.5 351.9L520.1 349.0M535.0 348.1L536.7 345.2L538.2 342.3L539.7 339.4M541.2 336.6L542.9 333.9L545.0 331.5L546.2 330.4M932.0 428.0L932.6 430.4L933.5 434.0L934.5 438.0M591.9 655.9L593.5 659.0L594.0 660.0" stroke="#ee5418" stroke-width="5.5"/>
<path d="M750.3 222.3L754.0 222.7L756.0 222.9M756.0 222.9L759.6 223.3L762.1 223.6M809.3 231.0L811.5 230.7L814.7 230.1M844.9 240.1L847.8 242.3L849.2 243.4M809.7 271.8L813.2 271.5L814.9 271.3M838.7 270.5L841.1 267.6M851.5 271.0L853.4 274.0L855.1 277.1M862.9 297.6L863.9 301.1L864.8 304.1L865.4 306.2M846.2 219.2L849.0 219.4L852.9 219.6M860.2 223.6L861.0 226.5M856.9 266.9L860.1 267.3M885.9 273.5L889.1 274.6M894.1 276.4L894.9 276.7M466.5 334.9L467.1 336.9L468.0 339.7L469.1 343.0M469.1 343.0L470.3 346.5L471.4 349.4L472.6 352.3M472.6 352.3L473.9 355.4L475.2 358.4M475.2 358.4L476.4 361.2L477.5 363.6L479.3 367.4M479.3 367.4L480.8 370.4L481.9 372.5M501.8 294.1L505.0 292.1L506.7 291.3M517.1 289.2L519.0 289.0M525.2 288.5L526.2 288.4M500.4 304.6L502.3 308.0L503.7 311.3L504.2 314.5M504.2 314.5L503.7 318.2L502.6 321.5M553.6 269.9L557.1 268.6L560.2 267.1L561.6 266.3M561.6 266.3L564.2 264.3L566.9 261.9M566.9 261.9L569.4 259.2L570.5 257.9M570.5 257.9L572.6 255.5L574.3 253.7L574.9 253.0M625.8 239.7L627.8 240.2L630.6 240.8L633.8 241.5L635.5 241.9M635.5 241.9L639.0 242.8M645.2 244.8L648.2 246.2L651.1 247.6L653.8 249.1M656.7 250.8L659.3 252.6L661.9 254.8M676.8 258.6L680.3 257.3L681.9 256.6M574.9 299.5L576.6 300.8L579.0 302.6L580.4 303.6M581.8 304.7L584.9 307.0M860.0 286.0L861.6 287.6L863.8 290.0M881.9 292.5L884.8 291.7L886.9 292.7L887.7 293.7M887.7 293.7L888.9 296.5L889.8 299.8M890.3 301.5L891.4 304.7L892.8 307.5L894.1 310.4M914.4 317.1L918.0 317.1L919.7 317.1M910.0 328.0L910.5 330.2L911.2 333.5M914.7 361.3L916.5 364.9L917.3 366.7M917.3 366.7L918.9 369.8L920.0 372.0M936.1 397.6L937.9 400.3L939.4 402.9L940.0 404.0M940.0 404.0L941.7 407.6M942.3 409.3L943.1 412.6L943.7 415.1L944.0 416.0M933.2 436.9L934.0 440.0L934.9 443.2L935.3 444.8M935.3 444.8L936.1 447.9L937.1 450.8L938.4 453.5M938.4 453.5L940.0 456.0L942.2 458.1L943.5 459.1M943.5 459.1L946.3 460.7L949.2 462.3L950.5 463.1M956.6 470.3L957.9 473.6L958.9 476.7L959.7 479.1L960.0 480.0M988.0 336.0L990.0 337.6L993.0 340.0M993.0 340.0L996.0 342.4M996.0 342.4L998.0 344.0M902.0 590.0L901.4 592.4L900.5 596.0M898.3 605.0L898.0 606.0M986.0 624.0L985.0 626.0L984.3 627.4M984.3 627.4L982.8 630.5L981.1 634.0M974.0 646.7L972.5 649.1L972.0 650.0M1006.0 628.0L1008.0 631.0L1010.0 634.0M582.0 636.0L583.0 638.0L584.4 640.7M587.7 647.3L589.3 650.6L590.0 652.0M590.0 652.0L591.3 655.0L592.4 657.8L593.4 660.6M597.8 668.6L599.8 671.0L602.0 673.4L604.1 675.8M610.0 664.0L611.7 666.0L614.2 668.9L615.5 670.2M676.0 718.0L678.4 718.3L680.1 718.6M687.6 719.7L690.0 720.0M672.0 261.9L675.7 260.7L677.5 260.1M560.0 267.0L563.0 268.5L566.0 270.0M578.0 270.0L581.0 271.5L584.0 273.0M702.5 213.0L705.2 212.6L708.8 211.9M708.8 211.9L711.5 211.5M737.0 220.5L739.5 221.2L741.3 221.7M746.5 223.2L747.5 223.5M529.0 420.0L530.3 422.3L532.3 425.5M539.6 429.3L543.1 429.7L544.7 429.8M456.0 636.0L459.0 639.2L460.0 640.0M487.1 660.5L489.2 663.6L491.2 666.6L492.0 668.0M496.8 677.3L498.0 680.0L499.2 683.9L499.5 685.6M499.5 685.6L500.0 688.0M548.8 743.0L551.3 744.1L554.9 745.6M731.7 751.8L734.7 754.0L737.6 756.2M755.0 620.0L758.5 619.0L762.0 618.0M778.0 607.0L781.5 605.6L783.0 605.0M792.0 662.0L794.6 662.2L798.4 662.6L801.9 663.2M825.4 671.2L828.1 668.8L830.7 667.1M838.2 670.2L840.7 672.5L841.6 673.2M755.2 686.0L757.0 688.3L759.8 690.7L762.7 690.4M795.2 687.6L798.6 686.5L800.0 686.0M831.1 720.0L834.2 719.7L835.2 719.6M892.8 610.8L893.3 608.4L894.0 604.9L894.8 601.1M894.8 601.1L895.6 597.7L896.8 594.5L897.7 593.0M453.2 301.7L453.7 304.4L454.5 308.2M504.1 334.9L505.2 337.2L506.9 340.6M508.7 344.2L510.2 347.1L510.7 348.1M574.9 303.9L575.6 301.3L576.4 297.6L577.1 295.0M870.5 485.0L873.7 487.1L875.0 488.0M908.0 476.0L911.0 474.5L914.0 473.0M862.0 310.2L863.6 313.5L865.0 316.1L865.4 317.0M901.8 370.7L904.6 373.1M904.6 373.1L905.9 375.9L906.8 379.4L907.2 381.1M907.2 381.1L907.8 384.0L908.0 385.0M575.5 414.0L576.5 416.5L577.1 418.3M577.1 418.3L578.5 421.9L579.5 424.4M962.5 569.5L964.0 571.0M980.9 629.6L979.2 632.9L977.4 636.1L976.6 637.6M780.7 700.9L784.0 701.4L785.0 701.5M835.4 719.7L837.5 719.5M833.0 730.0L836.2 732.1L837.5 733.0M815.9 770.6L814.1 773.4L812.1 776.3L810.3 779.1M961.6 620.0L962.2 622.7L963.1 626.7L963.9 630.2M1007.9 632.5L1007.3 635.6L1006.9 637.5M1006.9 637.5L1006.7 638.8M739.6 299.2L742.4 297.7L743.4 297.3M773.9 231.0L776.1 232.7L777.6 233.9M787.2 247.8L789.9 249.6L792.3 252.0M792.3 252.0L794.5 254.6L796.8 257.1M796.8 257.1L799.0 259.0M808.8 242.7L811.7 244.5L813.7 245.7M909.9 316.9L913.4 316.9L916.6 317.1L918.4 317.0M506.8 370.1L509.0 367.1L511.1 364.2L512.0 362.7M520.1 349.0L521.3 346.7L521.8 345.9M530.0 355.3L532.1 352.3L534.1 349.4L535.0 348.1M539.7 339.4L541.2 336.6M552.8 325.3L555.3 323.4L557.2 321.6M557.2 321.6L559.2 318.3L559.7 316.7M559.7 316.7L560.7 313.9L562.9 311.7L566.3 309.9" stroke="#ee5418" stroke-width="7"/>
<path d="M740.0 220.6L742.7 221.1L746.6 221.8M746.6 221.8L750.3 222.3M833.9 232.9L836.5 234.5L839.1 236.1L840.3 236.9M841.8 237.9L843.4 238.9M788.7 270.8L790.9 271.1L794.1 271.6M794.1 271.6L797.9 272.1M799.9 272.2L803.4 272.3L806.4 272.1L809.7 271.8M814.9 271.3L818.2 271.0L821.2 270.8L822.6 270.8M822.6 270.8L826.5 271.2M826.5 271.2L829.9 271.9L833.0 272.5L835.9 272.3M835.9 272.3L838.7 270.5M841.1 267.6L843.6 265.2L846.2 264.9L847.9 266.1M847.0 265.4L848.8 267.1L850.6 269.5L851.5 271.0M859.5 285.9L860.5 289.0L861.3 291.9L861.7 293.2M852.9 219.6L856.7 220.2L859.4 221.9M852.1 266.4L854.1 266.6L856.9 266.9M869.2 268.6L872.7 269.3L875.8 270.1L877.4 270.6M877.4 270.6L880.8 271.7L884.2 272.9L885.9 273.5M889.1 274.6L891.9 275.6L894.1 276.4M909.6 322.4L911.4 324.2L914.0 326.9L916.3 329.2L917.0 330.0M497.4 297.3L499.2 296.0L501.8 294.1M506.7 291.3L509.9 290.2L513.3 289.6L515.2 289.4M519.0 289.0L522.5 288.7L525.2 288.5M502.6 321.5L501.9 323.8M639.0 242.8L642.1 243.7L645.2 244.8M653.8 249.1L656.7 250.8M661.9 254.8L664.5 256.9L667.2 258.6L668.6 259.2M668.6 259.2L671.5 259.7L675.0 259.1M591.6 312.0L594.7 314.2L596.4 315.3M596.4 315.3L598.5 316.7L599.2 317.2M866.5 292.5L869.3 294.7L872.0 296.0M894.1 310.4L895.6 313.1M895.6 313.1L898.1 315.2L900.0 316.0M900.0 316.0L902.4 316.5L905.4 316.9L907.1 317.0M907.1 317.0L910.7 317.1L914.4 317.1M919.7 317.1L922.7 317.0L925.1 317.0M915.0 341.1L917.9 343.3L921.1 345.2L922.6 346.1M922.6 346.1L925.1 347.5L926.0 348.0M900.0 368.0L901.1 369.7L902.7 372.1L903.6 373.5M903.6 373.5L905.5 376.5M907.6 379.4L909.8 382.0L912.0 384.0L915.0 385.4M921.7 386.1L925.0 386.6L928.0 388.0L930.1 389.8M931.2 426.4L931.8 429.9L932.5 433.5L932.9 435.2M990.0 368.0L992.4 369.5L994.1 370.5M994.1 370.5L997.6 372.5L999.0 373.4M999.0 373.4L1000.0 374.0M899.0 601.9L898.3 605.0M981.1 634.0L979.4 637.2L978.0 640.0M978.0 640.0L976.0 643.6L974.0 646.7M593.4 660.6L594.6 663.4L596.0 666.0L597.8 668.6M604.1 675.8L606.0 678.0L608.3 680.9M608.3 680.9L610.6 683.8L612.6 686.2L613.4 687.2M613.4 687.2L614.0 688.0M616.8 671.3L619.7 672.2L623.4 671.1L626.0 670.0M680.1 718.6L684.0 719.1L687.6 719.7M677.5 260.1L680.9 259.1L683.6 258.3L684.5 258.0M561.5 288.0L564.3 289.1L567.9 290.5L569.0 291.0M741.3 221.7L745.0 222.8L746.5 223.2M532.3 425.5L535.0 428.0L537.9 429.0L539.6 429.3M544.7 429.8L547.0 430.0M484.0 656.0L485.3 657.9L487.1 660.5M492.0 668.0L493.7 671.1M493.7 671.1L495.4 674.2L496.8 677.3M801.9 663.2L805.0 665.1L806.4 668.4M809.6 676.4L812.0 675.9L815.4 675.2L819.1 674.3M830.7 667.1L833.5 667.1L836.6 669.0M762.7 690.4L765.4 688.7L766.9 687.5M825.2 720.6L829.2 720.2L831.1 720.0M859.5 684.4L860.8 684.4M897.7 593.0L899.4 590.7L900.0 590.0M552.7 290.6L554.4 288.1L556.5 285.0L557.2 284.0M770.0 609.5L772.1 608.9L775.1 608.1L778.5 607.1M786.7 604.3L790.2 602.6L793.5 600.9M793.5 600.9L796.1 599.5L797.0 599.0M902.0 575.0L902.6 577.0L903.4 579.9L903.9 581.6M903.9 581.6L904.7 585.0L905.1 588.4M905.0 590.0L904.4 593.0L903.2 596.1L901.8 599.2M901.8 599.2L900.3 602.2L899.0 605.0L898.2 606.7M898.2 606.7L896.5 610.2M909.5 491.0L912.5 494.0M896.0 368.0L898.4 369.1L900.1 369.8M985.0 622.2L984.0 624.0L982.6 626.6L980.9 629.6M1008.4 629.4L1009.3 633.0L1010.2 636.6M950.8 636.6L952.1 640.4L952.6 642.0M774.5 700.0L777.0 700.4L780.7 700.9M818.0 721.0L820.1 720.8L823.2 720.6L825.0 720.5M821.0 763.0L819.7 764.9L817.9 767.7L815.9 770.6M838.9 783.3L841.2 781.6L842.0 781.0M980.4 630.0L979.9 632.5L979.2 636.1M979.2 636.1L978.3 639.8L977.9 641.3M977.2 643.2L975.4 646.5L974.1 648.8M619.9 285.3L622.5 285.8L624.2 286.2M722.1 295.9L724.4 297.3L727.6 299.3L731.1 300.9M731.1 300.9L734.3 301.1L737.8 300.0L739.6 299.2M571.2 612.4L573.2 614.4M756.2 239.8L758.0 241.8L760.6 244.6L762.0 246.0M762.0 246.0L764.7 248.6L767.5 251.2L768.7 252.3M768.7 252.3L769.5 253.1M777.6 233.9L780.4 236.2L781.3 236.9M800.7 259.9L804.0 260.9L805.6 261.2M806.0 241.0L808.8 242.7M884.5 291.4L886.0 292.8L888.2 294.8L890.7 297.2L891.9 298.4M893.2 299.7L895.4 302.1L896.3 303.2M896.3 303.2L898.0 306.4L899.2 309.7M899.2 309.7L900.4 312.7L901.2 314.0M901.2 314.0L903.5 315.7L906.5 316.6L908.2 316.8M501.9 376.9L503.1 375.2L504.8 372.9L506.8 370.1M512.0 362.7L513.8 359.9L515.7 356.8L516.7 355.1M524.0 363.6L525.2 361.9L526.9 359.6L528.9 356.8L530.0 355.3M546.2 330.4L548.8 328.3L551.5 326.3L552.8 325.3M566.3 309.9L569.4 308.7L570.4 308.3M934.5 438.0L935.4 441.6L936.0 444.0M589.0 650.0L590.2 652.4L591.9 655.9" stroke="#ee5418" stroke-width="9"/>
<path d="M816.5 229.8L820.2 229.3L823.9 229.3M823.9 229.3L826.9 229.8L829.7 230.8L832.5 232.2L833.9 232.9M849.2 243.4L851.3 245.1L852.1 245.7M855.1 277.1L856.7 280.1L857.4 281.4M857.4 281.4L858.8 284.3L859.5 285.9M861.7 293.2L862.4 295.9L862.9 297.6M860.1 267.3L863.7 267.7L867.4 268.3L869.2 268.6M497.4 299.5L498.6 301.6L500.4 304.6M543.9 272.9L545.9 272.3L548.7 271.4L551.9 270.4M681.9 256.6L684.6 255.5L685.5 255.2M584.9 307.0L587.8 309.2L590.5 311.2L592.6 312.7M863.8 290.0L866.5 292.5M873.5 296.1L876.8 295.0L880.2 293.3L881.9 292.5M924.0 317.0L926.0 317.0M911.2 333.5L912.3 337.0L914.0 340.0L915.0 341.1M912.0 356.0L913.1 358.2L913.8 359.6M905.5 376.5L907.6 379.4M916.6 385.7L920.0 386.0M930.1 389.8L932.2 392.2L934.3 394.8L936.1 397.6M930.0 420.0L930.4 422.0L930.9 424.8L931.2 426.4M951.8 464.0L954.0 466.0M954.0 466.0L955.8 468.8L956.6 470.3M900.5 596.0L899.5 600.0L899.0 601.9M584.4 640.7L586.0 644.0L586.9 645.7M665.0 264.0L667.1 263.3L670.2 262.4M452.0 626.0L452.9 628.3L454.1 631.6L455.4 634.8L456.0 636.0M554.9 745.6L558.2 747.0L559.2 747.4M819.1 674.3L822.4 673.2L825.4 671.2M766.9 687.5L769.9 685.0L771.3 683.8M771.3 683.8L773.6 681.8L774.4 681.2M819.2 721.2L821.6 721.0L823.3 720.8M812.8 734.0L815.6 733.5L819.6 732.9L822.4 732.4M854.4 684.4L857.6 684.4L859.5 684.4M454.5 308.2L455.2 311.6L455.4 312.7M506.9 340.6L508.7 344.2M780.2 606.6L783.6 605.5L786.7 604.3M895.6 611.9L894.1 614.9L893.0 617.0M858.6 303.4L859.6 305.5L861.2 308.5L862.0 310.2M976.6 637.6L975.2 640.2L974.2 642.0M810.5 733.0L813.0 732.6L816.7 732.1L820.0 731.6L821.0 731.5M826.8 720.3L830.5 720.0L833.9 719.8L835.4 719.7M810.3 779.1L809.0 781.0M821.0 790.0L823.2 789.5L826.4 788.9L829.9 788.0M829.9 788.0L833.0 787.0L836.1 785.3L837.5 784.3M952.8 635.0L952.1 638.1L951.5 641.3M963.9 630.2L964.1 631.3M626.1 286.5L629.2 286.6M629.2 286.6L632.4 284.7L634.5 282.7M564.8 606.0L566.8 608.0L569.7 610.9M776.9 244.2L779.1 244.9L782.2 245.8L785.6 247.1L787.2 247.8M805.6 261.2L809.0 262.0L812.3 263.3L814.1 264.0M814.1 264.0L817.3 265.4L819.6 266.4M799.0 236.9L801.3 238.2L804.4 240.1L806.0 241.0M918.4 317.0L922.0 316.9L925.1 316.6M925.1 316.6L927.3 316.5M516.7 355.1L518.5 351.9L520.1 349.0M535.0 348.1L536.7 345.2L538.2 342.3L539.7 339.4M541.2 336.6L542.9 333.9L545.0 331.5L546.2 330.4M932.0 428.0L932.6 430.4L933.5 434.0L934.5 438.0M591.9 655.9L593.5 659.0L594.0 660.0" stroke="#f52c08" stroke-width="3"/>
<path d="M750.3 222.3L754.0 222.7L756.0 222.9M756.0 222.9L759.6 223.3L762.1 223.6M809.3 231.0L811.5 230.7L814.7 230.1M844.9 240.1L847.8 242.3L849.2 243.4M809.7 271.8L813.2 271.5L814.9 271.3M838.7 270.5L841.1 267.6M851.5 271.0L853.4 274.0L855.1 277.1M862.9 297.6L863.9 301.1L864.8 304.1L865.4 306.2M846.2 219.2L849.0 219.4L852.9 219.6M860.2 223.6L861.0 226.5M856.9 266.9L860.1 267.3M885.9 273.5L889.1 274.6M894.1 276.4L894.9 276.7M466.5 334.9L467.1 336.9L468.0 339.7L469.1 343.0M469.1 343.0L470.3 346.5L471.4 349.4L472.6 352.3M472.6 352.3L473.9 355.4L475.2 358.4M475.2 358.4L476.4 361.2L477.5 363.6L479.3 367.4M479.3 367.4L480.8 370.4L481.9 372.5M501.8 294.1L505.0 292.1L506.7 291.3M517.1 289.2L519.0 289.0M525.2 288.5L526.2 288.4M500.4 304.6L502.3 308.0L503.7 311.3L504.2 314.5M504.2 314.5L503.7 318.2L502.6 321.5M553.6 269.9L557.1 268.6L560.2 267.1L561.6 266.3M561.6 266.3L564.2 264.3L566.9 261.9M566.9 261.9L569.4 259.2L570.5 257.9M570.5 257.9L572.6 255.5L574.3 253.7L574.9 253.0M625.8 239.7L627.8 240.2L630.6 240.8L633.8 241.5L635.5 241.9M635.5 241.9L639.0 242.8M645.2 244.8L648.2 246.2L651.1 247.6L653.8 249.1M656.7 250.8L659.3 252.6L661.9 254.8M676.8 258.6L680.3 257.3L681.9 256.6M574.9 299.5L576.6 300.8L579.0 302.6L580.4 303.6M581.8 304.7L584.9 307.0M860.0 286.0L861.6 287.6L863.8 290.0M881.9 292.5L884.8 291.7L886.9 292.7L887.7 293.7M887.7 293.7L888.9 296.5L889.8 299.8M890.3 301.5L891.4 304.7L892.8 307.5L894.1 310.4M914.4 317.1L918.0 317.1L919.7 317.1M910.0 328.0L910.5 330.2L911.2 333.5M914.7 361.3L916.5 364.9L917.3 366.7M917.3 366.7L918.9 369.8L920.0 372.0M936.1 397.6L937.9 400.3L939.4 402.9L940.0 404.0M940.0 404.0L941.7 407.6M942.3 409.3L943.1 412.6L943.7 415.1L944.0 416.0M933.2 436.9L934.0 440.0L934.9 443.2L935.3 444.8M935.3 444.8L936.1 447.9L937.1 450.8L938.4 453.5M938.4 453.5L940.0 456.0L942.2 458.1L943.5 459.1M943.5 459.1L946.3 460.7L949.2 462.3L950.5 463.1M956.6 470.3L957.9 473.6L958.9 476.7L959.7 479.1L960.0 480.0M988.0 336.0L990.0 337.6L993.0 340.0M993.0 340.0L996.0 342.4M996.0 342.4L998.0 344.0M902.0 590.0L901.4 592.4L900.5 596.0M898.3 605.0L898.0 606.0M986.0 624.0L985.0 626.0L984.3 627.4M984.3 627.4L982.8 630.5L981.1 634.0M974.0 646.7L972.5 649.1L972.0 650.0M1006.0 628.0L1008.0 631.0L1010.0 634.0M582.0 636.0L583.0 638.0L584.4 640.7M587.7 647.3L589.3 650.6L590.0 652.0M590.0 652.0L591.3 655.0L592.4 657.8L593.4 660.6M597.8 668.6L599.8 671.0L602.0 673.4L604.1 675.8M610.0 664.0L611.7 666.0L614.2 668.9L615.5 670.2M676.0 718.0L678.4 718.3L680.1 718.6M687.6 719.7L690.0 720.0M672.0 261.9L675.7 260.7L677.5 260.1M560.0 267.0L563.0 268.5L566.0 270.0M578.0 270.0L581.0 271.5L584.0 273.0M702.5 213.0L705.2 212.6L708.8 211.9M708.8 211.9L711.5 211.5M737.0 220.5L739.5 221.2L741.3 221.7M746.5 223.2L747.5 223.5M529.0 420.0L530.3 422.3L532.3 425.5M539.6 429.3L543.1 429.7L544.7 429.8M456.0 636.0L459.0 639.2L460.0 640.0M487.1 660.5L489.2 663.6L491.2 666.6L492.0 668.0M496.8 677.3L498.0 680.0L499.2 683.9L499.5 685.6M499.5 685.6L500.0 688.0M548.8 743.0L551.3 744.1L554.9 745.6M731.7 751.8L734.7 754.0L737.6 756.2M755.0 620.0L758.5 619.0L762.0 618.0M778.0 607.0L781.5 605.6L783.0 605.0M792.0 662.0L794.6 662.2L798.4 662.6L801.9 663.2M825.4 671.2L828.1 668.8L830.7 667.1M838.2 670.2L840.7 672.5L841.6 673.2M755.2 686.0L757.0 688.3L759.8 690.7L762.7 690.4M795.2 687.6L798.6 686.5L800.0 686.0M831.1 720.0L834.2 719.7L835.2 719.6M892.8 610.8L893.3 608.4L894.0 604.9L894.8 601.1M894.8 601.1L895.6 597.7L896.8 594.5L897.7 593.0M453.2 301.7L453.7 304.4L454.5 308.2M504.1 334.9L505.2 337.2L506.9 340.6M508.7 344.2L510.2 347.1L510.7 348.1M574.9 303.9L575.6 301.3L576.4 297.6L577.1 295.0M870.5 485.0L873.7 487.1L875.0 488.0M908.0 476.0L911.0 474.5L914.0 473.0M862.0 310.2L863.6 313.5L865.0 316.1L865.4 317.0M901.8 370.7L904.6 373.1M904.6 373.1L905.9 375.9L906.8 379.4L907.2 381.1M907.2 381.1L907.8 384.0L908.0 385.0M575.5 414.0L576.5 416.5L577.1 418.3M577.1 418.3L578.5 421.9L579.5 424.4M962.5 569.5L964.0 571.0M980.9 629.6L979.2 632.9L977.4 636.1L976.6 637.6M780.7 700.9L784.0 701.4L785.0 701.5M835.4 719.7L837.5 719.5M833.0 730.0L836.2 732.1L837.5 733.0M815.9 770.6L814.1 773.4L812.1 776.3L810.3 779.1M961.6 620.0L962.2 622.7L963.1 626.7L963.9 630.2M1007.9 632.5L1007.3 635.6L1006.9 637.5M1006.9 637.5L1006.7 638.8M739.6 299.2L742.4 297.7L743.4 297.3M773.9 231.0L776.1 232.7L777.6 233.9M787.2 247.8L789.9 249.6L792.3 252.0M792.3 252.0L794.5 254.6L796.8 257.1M796.8 257.1L799.0 259.0M808.8 242.7L811.7 244.5L813.7 245.7M909.9 316.9L913.4 316.9L916.6 317.1L918.4 317.0M506.8 370.1L509.0 367.1L511.1 364.2L512.0 362.7M520.1 349.0L521.3 346.7L521.8 345.9M530.0 355.3L532.1 352.3L534.1 349.4L535.0 348.1M539.7 339.4L541.2 336.6M552.8 325.3L555.3 323.4L557.2 321.6M557.2 321.6L559.2 318.3L559.7 316.7M559.7 316.7L560.7 313.9L562.9 311.7L566.3 309.9" stroke="#f52c08" stroke-width="4"/>
<path d="M740.0 220.6L742.7 221.1L746.6 221.8M746.6 221.8L750.3 222.3M833.9 232.9L836.5 234.5L839.1 236.1L840.3 236.9M841.8 237.9L843.4 238.9M788.7 270.8L790.9 271.1L794.1 271.6M794.1 271.6L797.9 272.1M799.9 272.2L803.4 272.3L806.4 272.1L809.7 271.8M814.9 271.3L818.2 271.0L821.2 270.8L822.6 270.8M822.6 270.8L826.5 271.2M826.5 271.2L829.9 271.9L833.0 272.5L835.9 272.3M835.9 272.3L838.7 270.5M841.1 267.6L843.6 265.2L846.2 264.9L847.9 266.1M847.0 265.4L848.8 267.1L850.6 269.5L851.5 271.0M859.5 285.9L860.5 289.0L861.3 291.9L861.7 293.2M852.9 219.6L856.7 220.2L859.4 221.9M852.1 266.4L854.1 266.6L856.9 266.9M869.2 268.6L872.7 269.3L875.8 270.1L877.4 270.6M877.4 270.6L880.8 271.7L884.2 272.9L885.9 273.5M889.1 274.6L891.9 275.6L894.1 276.4M909.6 322.4L911.4 324.2L914.0 326.9L916.3 329.2L917.0 330.0M497.4 297.3L499.2 296.0L501.8 294.1M506.7 291.3L509.9 290.2L513.3 289.6L515.2 289.4M519.0 289.0L522.5 288.7L525.2 288.5M502.6 321.5L501.9 323.8M639.0 242.8L642.1 243.7L645.2 244.8M653.8 249.1L656.7 250.8M661.9 254.8L664.5 256.9L667.2 258.6L668.6 259.2M668.6 259.2L671.5 259.7L675.0 259.1M591.6 312.0L594.7 314.2L596.4 315.3M596.4 315.3L598.5 316.7L599.2 317.2M866.5 292.5L869.3 294.7L872.0 296.0M894.1 310.4L895.6 313.1M895.6 313.1L898.1 315.2L900.0 316.0M900.0 316.0L902.4 316.5L905.4 316.9L907.1 317.0M907.1 317.0L910.7 317.1L914.4 317.1M919.7 317.1L922.7 317.0L925.1 317.0M915.0 341.1L917.9 343.3L921.1 345.2L922.6 346.1M922.6 346.1L925.1 347.5L926.0 348.0M900.0 368.0L901.1 369.7L902.7 372.1L903.6 373.5M903.6 373.5L905.5 376.5M907.6 379.4L909.8 382.0L912.0 384.0L915.0 385.4M921.7 386.1L925.0 386.6L928.0 388.0L930.1 389.8M931.2 426.4L931.8 429.9L932.5 433.5L932.9 435.2M990.0 368.0L992.4 369.5L994.1 370.5M994.1 370.5L997.6 372.5L999.0 373.4M999.0 373.4L1000.0 374.0M899.0 601.9L898.3 605.0M981.1 634.0L979.4 637.2L978.0 640.0M978.0 640.0L976.0 643.6L974.0 646.7M593.4 660.6L594.6 663.4L596.0 666.0L597.8 668.6M604.1 675.8L606.0 678.0L608.3 680.9M608.3 680.9L610.6 683.8L612.6 686.2L613.4 687.2M613.4 687.2L614.0 688.0M616.8 671.3L619.7 672.2L623.4 671.1L626.0 670.0M680.1 718.6L684.0 719.1L687.6 719.7M677.5 260.1L680.9 259.1L683.6 258.3L684.5 258.0M561.5 288.0L564.3 289.1L567.9 290.5L569.0 291.0M741.3 221.7L745.0 222.8L746.5 223.2M532.3 425.5L535.0 428.0L537.9 429.0L539.6 429.3M544.7 429.8L547.0 430.0M484.0 656.0L485.3 657.9L487.1 660.5M492.0 668.0L493.7 671.1M493.7 671.1L495.4 674.2L496.8 677.3M801.9 663.2L805.0 665.1L806.4 668.4M809.6 676.4L812.0 675.9L815.4 675.2L819.1 674.3M830.7 667.1L833.5 667.1L836.6 669.0M762.7 690.4L765.4 688.7L766.9 687.5M825.2 720.6L829.2 720.2L831.1 720.0M859.5 684.4L860.8 684.4M897.7 593.0L899.4 590.7L900.0 590.0M552.7 290.6L554.4 288.1L556.5 285.0L557.2 284.0M770.0 609.5L772.1 608.9L775.1 608.1L778.5 607.1M786.7 604.3L790.2 602.6L793.5 600.9M793.5 600.9L796.1 599.5L797.0 599.0M902.0 575.0L902.6 577.0L903.4 579.9L903.9 581.6M903.9 581.6L904.7 585.0L905.1 588.4M905.0 590.0L904.4 593.0L903.2 596.1L901.8 599.2M901.8 599.2L900.3 602.2L899.0 605.0L898.2 606.7M898.2 606.7L896.5 610.2M909.5 491.0L912.5 494.0M896.0 368.0L898.4 369.1L900.1 369.8M985.0 622.2L984.0 624.0L982.6 626.6L980.9 629.6M1008.4 629.4L1009.3 633.0L1010.2 636.6M950.8 636.6L952.1 640.4L952.6 642.0M774.5 700.0L777.0 700.4L780.7 700.9M818.0 721.0L820.1 720.8L823.2 720.6L825.0 720.5M821.0 763.0L819.7 764.9L817.9 767.7L815.9 770.6M838.9 783.3L841.2 781.6L842.0 781.0M980.4 630.0L979.9 632.5L979.2 636.1M979.2 636.1L978.3 639.8L977.9 641.3M977.2 643.2L975.4 646.5L974.1 648.8M619.9 285.3L622.5 285.8L624.2 286.2M722.1 295.9L724.4 297.3L727.6 299.3L731.1 300.9M731.1 300.9L734.3 301.1L737.8 300.0L739.6 299.2M571.2 612.4L573.2 614.4M756.2 239.8L758.0 241.8L760.6 244.6L762.0 246.0M762.0 246.0L764.7 248.6L767.5 251.2L768.7 252.3M768.7 252.3L769.5 253.1M777.6 233.9L780.4 236.2L781.3 236.9M800.7 259.9L804.0 260.9L805.6 261.2M806.0 241.0L808.8 242.7M884.5 291.4L886.0 292.8L888.2 294.8L890.7 297.2L891.9 298.4M893.2 299.7L895.4 302.1L896.3 303.2M896.3 303.2L898.0 306.4L899.2 309.7M899.2 309.7L900.4 312.7L901.2 314.0M901.2 314.0L903.5 315.7L906.5 316.6L908.2 316.8M501.9 376.9L503.1 375.2L504.8 372.9L506.8 370.1M512.0 362.7L513.8 359.9L515.7 356.8L516.7 355.1M524.0 363.6L525.2 361.9L526.9 359.6L528.9 356.8L530.0 355.3M546.2 330.4L548.8 328.3L551.5 326.3L552.8 325.3M566.3 309.9L569.4 308.7L570.4 308.3M934.5 438.0L935.4 441.6L936.0 444.0M589.0 650.0L590.2 652.4L591.9 655.9" stroke="#f52c08" stroke-width="5"/>
<path d="M884.0 292.0C886.0 293.8 893.0 299.2 896.0 303.0C899.0 306.8 898.8 312.5 902.0 315.0C905.2 317.5 911.0 317.5 915.0 318.0C919.0 318.5 924.2 318.0 926.0 318.0M912.0 356.0C913.0 358.7 915.7 367.0 918.0 372.0C920.3 377.0 922.7 381.0 926.0 386.0C929.3 391.0 935.2 396.7 938.0 402.0C940.8 407.3 942.2 415.3 943.0 418.0M932.0 428.0C932.7 430.7 934.3 439.0 936.0 444.0C937.7 449.0 939.0 454.2 942.0 458.0C945.0 461.8 952.0 465.5 954.0 467.0M776.0 245.0C778.3 245.8 786.0 247.7 790.0 250.0C794.0 252.3 795.3 256.3 800.0 259.0C804.7 261.7 815.0 264.8 818.0 266.0" stroke="#ee4a14" stroke-width="11"/>
<path d="M884.0 292.0C886.0 293.8 893.0 299.2 896.0 303.0C899.0 306.8 898.8 312.5 902.0 315.0C905.2 317.5 911.0 317.5 915.0 318.0C919.0 318.5 924.2 318.0 926.0 318.0M912.0 356.0C913.0 358.7 915.7 367.0 918.0 372.0C920.3 377.0 922.7 381.0 926.0 386.0C929.3 391.0 935.2 396.7 938.0 402.0C940.8 407.3 942.2 415.3 943.0 418.0M932.0 428.0C932.7 430.7 934.3 439.0 936.0 444.0C937.7 449.0 939.0 454.2 942.0 458.0C945.0 461.8 952.0 465.5 954.0 467.0M776.0 245.0C778.3 245.8 786.0 247.7 790.0 250.0C794.0 252.3 795.3 256.3 800.0 259.0C804.7 261.7 815.0 264.8 818.0 266.0" stroke="#f52c08" stroke-width="6.5"/>
<path d="M884.0 292.0C886.0 293.8 893.0 299.2 896.0 303.0C899.0 306.8 898.8 312.5 902.0 315.0C905.2 317.5 911.0 317.5 915.0 318.0C919.0 318.5 924.2 318.0 926.0 318.0M912.0 356.0C913.0 358.7 915.7 367.0 918.0 372.0C920.3 377.0 922.7 381.0 926.0 386.0C929.3 391.0 935.2 396.7 938.0 402.0C940.8 407.3 942.2 415.3 943.0 418.0M932.0 428.0C932.7 430.7 934.3 439.0 936.0 444.0C937.7 449.0 939.0 454.2 942.0 458.0C945.0 461.8 952.0 465.5 954.0 467.0M776.0 245.0C778.3 245.8 786.0 247.7 790.0 250.0C794.0 252.3 795.3 256.3 800.0 259.0C804.7 261.7 815.0 264.8 818.0 266.0" stroke="#a81a2c" stroke-width="3"/>
<path d="M776.9 244.2L779.1 244.9L782.2 245.8L785.6 247.1L787.2 247.8M805.6 261.2L809.0 262.0L812.3 263.3L814.1 264.0M814.1 264.0L817.3 265.4L819.6 266.4M799.0 236.9L801.3 238.2L804.4 240.1L806.0 241.0M918.4 317.0L922.0 316.9L925.1 316.6M925.1 316.6L927.3 316.5M516.7 355.1L518.5 351.9L520.1 349.0M535.0 348.1L536.7 345.2L538.2 342.3L539.7 339.4M541.2 336.6L542.9 333.9L545.0 331.5L546.2 330.4M932.0 428.0L932.6 430.4L933.5 434.0L934.5 438.0M591.9 655.9L593.5 659.0L594.0 660.0" stroke="#a41a2e" stroke-width="2.5"/>
<path d="M773.9 231.0L776.1 232.7L777.6 233.9M787.2 247.8L789.9 249.6L792.3 252.0M792.3 252.0L794.5 254.6L796.8 257.1M796.8 257.1L799.0 259.0M808.8 242.7L811.7 244.5L813.7 245.7M909.9 316.9L913.4 316.9L916.6 317.1L918.4 317.0M506.8 370.1L509.0 367.1L511.1 364.2L512.0 362.7M520.1 349.0L521.3 346.7L521.8 345.9M530.0 355.3L532.1 352.3L534.1 349.4L535.0 348.1M539.7 339.4L541.2 336.6M552.8 325.3L555.3 323.4L557.2 321.6M557.2 321.6L559.2 318.3L559.7 316.7M559.7 316.7L560.7 313.9L562.9 311.7L566.3 309.9" stroke="#a41a2e" stroke-width="3.2"/>
<path d="M756.2 239.8L758.0 241.8L760.6 244.6L762.0 246.0M762.0 246.0L764.7 248.6L767.5 251.2L768.7 252.3M768.7 252.3L769.5 253.1M777.6 233.9L780.4 236.2L781.3 236.9M800.7 259.9L804.0 260.9L805.6 261.2M806.0 241.0L808.8 242.7M884.5 291.4L886.0 292.8L888.2 294.8L890.7 297.2L891.9 298.4M893.2 299.7L895.4 302.1L896.3 303.2M896.3 303.2L898.0 306.4L899.2 309.7M899.2 309.7L900.4 312.7L901.2 314.0M901.2 314.0L903.5 315.7L906.5 316.6L908.2 316.8M501.9 376.9L503.1 375.2L504.8 372.9L506.8 370.1M512.0 362.7L513.8 359.9L515.7 356.8L516.7 355.1M524.0 363.6L525.2 361.9L526.9 359.6L528.9 356.8L530.0 355.3M546.2 330.4L548.8 328.3L551.5 326.3L552.8 325.3M566.3 309.9L569.4 308.7L570.4 308.3M934.5 438.0L935.4 441.6L936.0 444.0M589.0 650.0L590.2 652.4L591.9 655.9" stroke="#a41a2e" stroke-width="4"/>
</g>
<path d="M808.5,204 L741.4,391.2" stroke="#ffffff" stroke-width="1.3"/>
<path d="M674.8,544.2 L680.3,540.6 L685.9,535.0 L686.8,529.5 L689.6,524.0 L695.1,525.8 L696.9,531.3 L704.3,535.0 L713.5,540.6 L719.1,549.8 L720.9,559.0 L719.1,565.0 L705.0,567.0 L690.0,567.0 L676.7,564.0 L677.6,551.6 Z" fill="#ffffff"/>
<path d="M580.4,419.9 L583.1,420.5 L582.6,424.3 L584.2,427.6 L583.1,432.0 L585.3,436.4 L588.6,443.0 L589.7,447.4 L594.1,451.8 L600.7,450.7 L607.3,451.8 L615.0,454.0 L622.7,457.3 L630.4,462.8 L634.8,468.3 L637.5,474.6 L641.4,467.2 L648.0,463.9 L654.6,460.6 L658.2,457.8 L663.7,452.3 L665.6,442.2 L668.4,431.1 L669.3,423.7 L676.7,414.5 L681.3,408.0 L680.3,404.4 L684.0,401.6 L687.7,399.7 L690.5,402.5 L695.1,397.0 L698.8,397.9 L700.6,401.6 L708.0,397.9 L717.2,396.4 L730.1,399.7 L741.2,405.3 L752.2,408.0 L763.3,407.1 L767.0,410.8 L769.8,418.2 L776.2,415.4 L785.4,417.3 L792.8,423.7 L800.2,421.9 L807.5,427.4 L807.5,438.5 L811.2,447.7 L813.1,459.7 L802.0,466.1 L807.5,473.5 L818.6,482.7 L826.0,493.8 L828.8,510.0 L827.8,514.7 L828.8,529.5 L824.1,538.7 L821.4,544.2 L822.3,549.8 L816.8,559.0 L809.4,566.4 L805.7,573.7 L800.2,581.1 L798.3,586.7 L791.0,592.2 L781.7,595.9 L770.7,599.6 L759.6,605.1 L750.4,606.0 L737.5,605.1 L722.7,600.5 L719.1,595.9 L719.1,588.5 L722.7,581.1 L724.6,573.7 L719.1,568.2 L720.9,559.0 L719.1,549.8 L713.5,540.6 L704.3,535.0 L696.9,531.3 L695.1,525.8 L689.6,524.0 L686.8,529.5 L685.9,535.0 L680.3,540.6 L674.8,544.2 L677.6,551.6 L676.7,560.8 L674.8,565.5 L669.3,562.7 L663.7,559.0 L661.9,564.5 L654.5,563.6 L643.5,559.0 L639.8,551.6 L632.4,549.8 L626.9,551.6 L626.0,544.2 L628.7,535.0 L625.0,527.7 L617.7,520.3 L612.1,512.9 L605.7,514.7 L606.6,505.5 L609.5,500.0 L611.7,492.5 L610.6,484.8 L611.7,479.3 L616.1,476.0 L616.1,467.2 L611.7,463.9 L599.6,462.8 L597.4,460.6 L593.0,458.4 L588.6,459.5 L585.3,456.2 L586.4,451.8 L582.0,446.3 L577.6,441.9 L576.5,437.5 L578.2,429.8 L578.7,422.1 Z" fill="none" stroke="#ffffff" stroke-width="3.5" stroke-linejoin="round"/>
<path d="M845.7,720.3 L853.3,721.2 L862.8,730.7 L851.4,738.3 L847.6,739.3 L842.9,727.9 Z" fill="none" stroke="#ffffff" stroke-width="3.5" stroke-linejoin="round"/>
<path d="M744.0,740.9 L749.5,739.8 L757.2,740.9 L759.4,743.1 L757.2,750.8 L752.8,756.3 L747.3,761.8 L744.0,766.2 L741.8,772.8 L738.5,779.4 L734.1,779.4 L729.7,776.1 L729.7,770.6 L734.1,764.0 L734.1,760.7 L738.5,755.2 L740.7,748.6 L742.9,744.2 Z" fill="none" stroke="#ffffff" stroke-width="3.5" stroke-linejoin="round"/>
<path d="M724.2,776.1 L726.4,779.4 L727.5,786.0 L733.0,789.3 L729.7,797.0 L727.5,804.7 L733.0,810.2 L739.6,819.0 L734.1,816.8 L727.5,808.0 L724.2,805.8 L719.8,801.4 L709.9,802.5 L709.9,797.0 L714.3,793.7 L716.5,788.2 L719.8,780.5 Z" fill="none" stroke="#ffffff" stroke-width="3.5" stroke-linejoin="round"/>
<path d="M432.5,277.5 L436.2,290.0 L440.0,300.0 L438.8,312.5 L442.5,322.5 L435.0,330.0 L427.5,332.5 L435.0,335.0 L445.0,340.0 L450.0,355.0 L445.0,367.5 L452.5,370.0 L450.0,382.5 L460.0,385.0 L462.5,391.0 L470.0,397.5 L472.5,405.0 L485.0,406.0 L488.8,415.0 L495.0,425.0 L510.0,425.0 L522.5,421.0 L526.0,425.0 L520.0,437.5 L505.0,447.5 L490.0,446.0 L475.0,444.0 L467.5,437.5 L455.0,432.5 L440.0,425.0 L425.0,422.5 L412.5,416.0 L395.0,400.0 L382.5,395.0 L367.5,391.0" fill="none" stroke="#ffffff" stroke-width="3.5" stroke-linejoin="round"/>
<path d="M805.3,166.2 L806.8,179.5 L803.8,185.4 L804.6,195.7 L807.5,200.1 L812.0,201.6 L823.7,205.3 L832.6,207.5 L838.5,209.7 L850.3,210.5 L862.1,208.3 L872.4,205.3 L881.3,200.9" fill="none" stroke="#ffffff" stroke-width="3.5" stroke-linejoin="round"/>
<path d="M1019.6,650.9 L1005.3,648.0 L997.7,643.3 L995.8,640.5 L988.2,643.3 L984.4,647.1 L981.6,654.7 L982.5,664.2 L976.8,673.7 L973.0,685.1 L975.9,690.8 L973.0,702.2 L969.2,706.0 L966.4,717.4 L961.6,725.0 L952.1,729.8 L944.5,733.6 L938.8,733.6 L931.2,731.7 L924.6,730.7 L924.6,747.8 L921.7,744.0 L919.8,736.4 L916.0,734.5 L912.2,738.3 L904.6,736.4 L898.9,734.5 L891.3,732.6 L883.7,734.5 L876.1,738.3 L872.3,744.0 L862.8,744.0 L855.2,759.2 L852.4,763.0 L857.1,774.4 L857.1,791.5 L855.2,804.8 L854.3,819.1" fill="none" stroke="#ffffff" stroke-width="3.5" stroke-linejoin="round"/>
<path d="M580.4,419.9 L583.1,420.5 L582.6,424.3 L584.2,427.6 L583.1,432.0 L585.3,436.4 L588.6,443.0 L589.7,447.4 L594.1,451.8 L600.7,450.7 L607.3,451.8 L615.0,454.0 L622.7,457.3 L630.4,462.8 L634.8,468.3 L637.5,474.6 L641.4,467.2 L648.0,463.9 L654.6,460.6 L658.2,457.8 L663.7,452.3 L665.6,442.2 L668.4,431.1 L669.3,423.7 L676.7,414.5 L681.3,408.0 L680.3,404.4 L684.0,401.6 L687.7,399.7 L690.5,402.5 L695.1,397.0 L698.8,397.9 L700.6,401.6 L708.0,397.9 L717.2,396.4 L730.1,399.7 L741.2,405.3 L752.2,408.0 L763.3,407.1 L767.0,410.8 L769.8,418.2 L776.2,415.4 L785.4,417.3 L792.8,423.7 L800.2,421.9 L807.5,427.4 L807.5,438.5 L811.2,447.7 L813.1,459.7 L802.0,466.1 L807.5,473.5 L818.6,482.7 L826.0,493.8 L828.8,510.0 L827.8,514.7 L828.8,529.5 L824.1,538.7 L821.4,544.2 L822.3,549.8 L816.8,559.0 L809.4,566.4 L805.7,573.7 L800.2,581.1 L798.3,586.7 L791.0,592.2 L781.7,595.9 L770.7,599.6 L759.6,605.1 L750.4,606.0 L737.5,605.1 L722.7,600.5 L719.1,595.9 L719.1,588.5 L722.7,581.1 L724.6,573.7 L719.1,568.2 L720.9,559.0 L719.1,549.8 L713.5,540.6 L704.3,535.0 L696.9,531.3 L695.1,525.8 L689.6,524.0 L686.8,529.5 L685.9,535.0 L680.3,540.6 L674.8,544.2 L677.6,551.6 L676.7,560.8 L674.8,565.5 L669.3,562.7 L663.7,559.0 L661.9,564.5 L654.5,563.6 L643.5,559.0 L639.8,551.6 L632.4,549.8 L626.9,551.6 L626.0,544.2 L628.7,535.0 L625.0,527.7 L617.7,520.3 L612.1,512.9 L605.7,514.7 L606.6,505.5 L609.5,500.0 L611.7,492.5 L610.6,484.8 L611.7,479.3 L616.1,476.0 L616.1,467.2 L611.7,463.9 L599.6,462.8 L597.4,460.6 L593.0,458.4 L588.6,459.5 L585.3,456.2 L586.4,451.8 L582.0,446.3 L577.6,441.9 L576.5,437.5 L578.2,429.8 L578.7,422.1 Z" fill="#808080" stroke="#111" stroke-width="0.8" stroke-linejoin="round"/>
<path d="M594.1,463.9 L608.4,465.0 L611.7,469.4 L610.6,474.9 L605.1,478.8 L602.9,473.8 L596.3,467.2 Z" fill="#808080" stroke="#111" stroke-width="0.8" stroke-linejoin="round"/>
<path d="M845.7,720.3 L853.3,721.2 L862.8,730.7 L851.4,738.3 L847.6,739.3 L842.9,727.9 Z" fill="#808080" stroke="#111" stroke-width="0.8" stroke-linejoin="round"/>
<path d="M744.0,740.9 L749.5,739.8 L757.2,740.9 L759.4,743.1 L757.2,750.8 L752.8,756.3 L747.3,761.8 L744.0,766.2 L741.8,772.8 L738.5,779.4 L734.1,779.4 L729.7,776.1 L729.7,770.6 L734.1,764.0 L734.1,760.7 L738.5,755.2 L740.7,748.6 L742.9,744.2 Z" fill="#808080" stroke="#111" stroke-width="0.8" stroke-linejoin="round"/>
<path d="M724.2,776.1 L726.4,779.4 L727.5,786.0 L733.0,789.3 L729.7,797.0 L727.5,804.7 L733.0,810.2 L739.6,819.0 L734.1,816.8 L727.5,808.0 L724.2,805.8 L719.8,801.4 L709.9,802.5 L709.9,797.0 L714.3,793.7 L716.5,788.2 L719.8,780.5 Z" fill="#808080" stroke="#111" stroke-width="0.8" stroke-linejoin="round"/>
<path d="M427.9,273.7 L432.5,277.5 L436.2,290.0 L440.0,300.0 L438.8,312.5 L442.5,322.5 L435.0,330.0 L427.5,332.5 L435.0,335.0 L445.0,340.0 L450.0,355.0 L445.0,367.5 L452.5,370.0 L450.0,382.5 L460.0,385.0 L462.5,391.0 L470.0,397.5 L472.5,405.0 L485.0,406.0 L488.8,415.0 L495.0,425.0 L510.0,425.0 L522.5,421.0 L526.0,425.0 L520.0,437.5 L505.0,447.5 L490.0,446.0 L475.0,444.0 L467.5,437.5 L455.0,432.5 L440.0,425.0 L425.0,422.5 L412.5,416.0 L395.0,400.0 L382.5,395.0 L367.5,391.0 L363.3,389.6 A356.5,356.5 0 0,1 427.9,273.7 Z" fill="#808080" stroke="#111" stroke-width="0.8" stroke-linejoin="round"/>
<ellipse cx="520" cy="394" rx="5" ry="3" transform="rotate(-30 520 394)" fill="#808080" stroke="#111" stroke-width="0.8"/>
<ellipse cx="582.5" cy="345" rx="4" ry="1.2" transform="rotate(10 582.5 345)" fill="#808080" stroke="#111" stroke-width="0.8"/>
<ellipse cx="914" cy="423" rx="3" ry="2.5" transform="rotate(0 914 423)" fill="#808080" stroke="#111" stroke-width="0.8"/>
<ellipse cx="572" cy="425" rx="1" ry="4" transform="rotate(0 572 425)" fill="#808080" stroke="#111" stroke-width="0.8"/>
<ellipse cx="598.5" cy="474.4" rx="2.2" ry="2.2" transform="rotate(0 598.5 474.4)" fill="#808080" stroke="#111" stroke-width="0.8"/>
<ellipse cx="686" cy="762" rx="1.5" ry="1.5" transform="rotate(0 686 762)" fill="#808080" stroke="#111" stroke-width="0.8"/>
<ellipse cx="912" cy="731" rx="3" ry="1.5" transform="rotate(10 912 731)" fill="#808080" stroke="#111" stroke-width="0.8"/>
<ellipse cx="585" cy="390.5" rx="1.5" ry="1" transform="rotate(0 585 390.5)" fill="#808080" stroke="#111" stroke-width="0.8"/>
<ellipse cx="442" cy="428" rx="5" ry="1.8" transform="rotate(25 442 428)" fill="#808080" stroke="#111" stroke-width="0.8"/>
<ellipse cx="455" cy="434" rx="4" ry="1.5" transform="rotate(25 455 434)" fill="#808080" stroke="#111" stroke-width="0.8"/>
<ellipse cx="478" cy="443" rx="3" ry="1.5" transform="rotate(10 478 443)" fill="#808080" stroke="#111" stroke-width="0.8"/>
<path d="M806.7,161.7 L805.3,166.2 L806.8,179.5 L803.8,185.4 L804.6,195.7 L807.5,200.1 L812.0,201.6 L823.7,205.3 L832.6,207.5 L838.5,209.7 L850.3,210.5 L862.1,208.3 L872.4,205.3 L881.3,200.9 L884.1,196.1 A356.5,356.5 0 0,0 806.7,161.7 Z" fill="#808080" stroke="#111" stroke-width="0.8" stroke-linejoin="round"/>
<path d="M1024.5,653.2 L1019.6,650.9 L1005.3,648.0 L997.7,643.3 L995.8,640.5 L988.2,643.3 L984.4,647.1 L981.6,654.7 L982.5,664.2 L976.8,673.7 L973.0,685.1 L975.9,690.8 L973.0,702.2 L969.2,706.0 L966.4,717.4 L961.6,725.0 L952.1,729.8 L944.5,733.6 L938.8,733.6 L931.2,731.7 L924.6,730.7 L924.6,747.8 L921.7,744.0 L919.8,736.4 L916.0,734.5 L912.2,738.3 L904.6,736.4 L898.9,734.5 L891.3,732.6 L883.7,734.5 L876.1,738.3 L872.3,744.0 L862.8,744.0 L855.2,759.2 L852.4,763.0 L857.1,774.4 L857.1,791.5 L855.2,804.8 L854.3,819.1 L856.4,823.4 A356.5,356.5 0 0,0 1024.5,653.2 Z" fill="#808080" stroke="#111" stroke-width="0.8" stroke-linejoin="round"/>
</g>
<circle cx="701.5" cy="502.3" r="311.07" fill="none" stroke="#1c1c1c" stroke-width="1.2" stroke-dasharray="1.1 2.3"/>
<circle cx="701.5" cy="502.3" r="234.35" fill="none" stroke="#1c1c1c" stroke-width="1.2" stroke-dasharray="1.1 2.3"/>
<circle cx="701.5" cy="502.3" r="163.58" fill="none" stroke="#1c1c1c" stroke-width="1.2" stroke-dasharray="1.1 2.3"/>
<circle cx="701.5" cy="502.3" r="96.69" fill="none" stroke="#1c1c1c" stroke-width="1.2" stroke-dasharray="1.1 2.3"/>
<circle cx="701.5" cy="502.3" r="31.99" fill="none" stroke="#1c1c1c" stroke-width="1.2" stroke-dasharray="1.1 2.3"/>
<line x1="701.5" y1="502.3" x2="701.50" y2="149.83" fill="none" stroke="#1c1c1c" stroke-width="1.2" stroke-dasharray="1.1 2.3"/>
<line x1="701.5" y1="502.3" x2="877.74" y2="197.05" fill="none" stroke="#1c1c1c" stroke-width="1.2" stroke-dasharray="1.1 2.3"/>
<line x1="701.5" y1="502.3" x2="1006.75" y2="326.06" fill="none" stroke="#1c1c1c" stroke-width="1.2" stroke-dasharray="1.1 2.3"/>
<line x1="701.5" y1="502.3" x2="1053.97" y2="502.30" fill="none" stroke="#1c1c1c" stroke-width="1.2" stroke-dasharray="1.1 2.3"/>
<line x1="701.5" y1="502.3" x2="1006.75" y2="678.54" fill="none" stroke="#1c1c1c" stroke-width="1.2" stroke-dasharray="1.1 2.3"/>
<line x1="701.5" y1="502.3" x2="877.74" y2="807.55" fill="none" stroke="#1c1c1c" stroke-width="1.2" stroke-dasharray="1.1 2.3"/>
<line x1="701.5" y1="502.3" x2="701.50" y2="854.77" fill="none" stroke="#1c1c1c" stroke-width="1.2" stroke-dasharray="1.1 2.3"/>
<line x1="701.5" y1="502.3" x2="525.26" y2="807.55" fill="none" stroke="#1c1c1c" stroke-width="1.2" stroke-dasharray="1.1 2.3"/>
<line x1="701.5" y1="502.3" x2="396.25" y2="678.54" fill="none" stroke="#1c1c1c" stroke-width="1.2" stroke-dasharray="1.1 2.3"/>
<line x1="701.5" y1="502.3" x2="349.03" y2="502.30" fill="none" stroke="#1c1c1c" stroke-width="1.2" stroke-dasharray="1.1 2.3"/>
<line x1="701.5" y1="502.3" x2="396.25" y2="326.06" fill="none" stroke="#1c1c1c" stroke-width="1.2" stroke-dasharray="1.1 2.3"/>
<line x1="701.5" y1="502.3" x2="525.26" y2="197.05" fill="none" stroke="#1c1c1c" stroke-width="1.2" stroke-dasharray="1.1 2.3"/>
<line x1="701.5" y1="502.3" x2="701.50" y2="493.30" stroke="#111" stroke-width="1"/>
<line x1="701.5" y1="502.3" x2="706.00" y2="494.51" stroke="#111" stroke-width="1"/>
<line x1="701.5" y1="502.3" x2="709.29" y2="497.80" stroke="#111" stroke-width="1"/>
<line x1="701.5" y1="502.3" x2="710.50" y2="502.30" stroke="#111" stroke-width="1"/>
<line x1="701.5" y1="502.3" x2="709.29" y2="506.80" stroke="#111" stroke-width="1"/>
<line x1="701.5" y1="502.3" x2="706.00" y2="510.09" stroke="#111" stroke-width="1"/>
<line x1="701.5" y1="502.3" x2="701.50" y2="511.30" stroke="#111" stroke-width="1"/>
<line x1="701.5" y1="502.3" x2="697.00" y2="510.09" stroke="#111" stroke-width="1"/>
<line x1="701.5" y1="502.3" x2="693.71" y2="506.80" stroke="#111" stroke-width="1"/>
<line x1="701.5" y1="502.3" x2="692.50" y2="502.30" stroke="#111" stroke-width="1"/>
<line x1="701.5" y1="502.3" x2="693.71" y2="497.80" stroke="#111" stroke-width="1"/>
<line x1="701.5" y1="502.3" x2="697.00" y2="494.51" stroke="#111" stroke-width="1"/>
<line x1="701.5" y1="502.3" x2="701.5" y2="534.29" stroke="#111" stroke-width="1"/>
<circle cx="701.5" cy="502.3" r="352.4723393402665" fill="none" stroke="#1a1a1a" stroke-width="1.3"/>
<line x1="701.50" y1="149.83" x2="701.50" y2="142.83" stroke="#1a1a1a" stroke-width="1"/>
<text transform="translate(701.50,129.83) rotate(0) translate(1.75,3.5)" text-anchor="middle" dominant-baseline="central" font-size="17.2" fill="#000">0<tspan font-size="13.5" dx="0.2" dy="-8">o</tspan><tspan dy="8"></tspan></text>
<line x1="877.74" y1="197.05" x2="881.24" y2="190.99" stroke="#1a1a1a" stroke-width="1"/>
<text transform="translate(887.74,179.73) rotate(30) translate(1.75,3.5)" text-anchor="middle" dominant-baseline="central" font-size="17.2" fill="#000">30<tspan font-size="13.5" dx="0.2" dy="-8">o</tspan><tspan dy="8">E</tspan></text>
<line x1="1006.75" y1="326.06" x2="1012.81" y2="322.56" stroke="#1a1a1a" stroke-width="1"/>
<text transform="translate(1024.07,316.06) rotate(60) translate(1.75,3.5)" text-anchor="middle" dominant-baseline="central" font-size="17.2" fill="#000">60<tspan font-size="13.5" dx="0.2" dy="-8">o</tspan><tspan dy="8">E</tspan></text>
<line x1="1053.97" y1="502.30" x2="1060.97" y2="502.30" stroke="#1a1a1a" stroke-width="1"/>
<text transform="translate(1073.97,502.30) rotate(90) translate(1.75,3.5)" text-anchor="middle" dominant-baseline="central" font-size="17.2" fill="#000">90<tspan font-size="13.5" dx="0.2" dy="-8">o</tspan><tspan dy="8">E</tspan></text>
<line x1="1006.75" y1="678.54" x2="1012.81" y2="682.04" stroke="#1a1a1a" stroke-width="1"/>
<text transform="translate(1024.07,688.54) rotate(-60) translate(1.75,3.5)" text-anchor="middle" dominant-baseline="central" font-size="17.2" fill="#000">120<tspan font-size="13.5" dx="0.2" dy="-8">o</tspan><tspan dy="8">E</tspan></text>
<line x1="877.74" y1="807.55" x2="881.24" y2="813.61" stroke="#1a1a1a" stroke-width="1"/>
<text transform="translate(887.74,824.87) rotate(-30) translate(1.75,3.5)" text-anchor="middle" dominant-baseline="central" font-size="17.2" fill="#000">150<tspan font-size="13.5" dx="0.2" dy="-8">o</tspan><tspan dy="8">E</tspan></text>
<line x1="701.50" y1="854.77" x2="701.50" y2="861.77" stroke="#1a1a1a" stroke-width="1"/>
<text transform="translate(701.50,874.77) rotate(0) translate(1.75,3.5)" text-anchor="middle" dominant-baseline="central" font-size="17.2" fill="#000">180<tspan font-size="13.5" dx="0.2" dy="-8">o</tspan><tspan dy="8">W</tspan></text>
<line x1="525.26" y1="807.55" x2="521.76" y2="813.61" stroke="#1a1a1a" stroke-width="1"/>
<text transform="translate(515.26,824.87) rotate(30) translate(1.75,3.5)" text-anchor="middle" dominant-baseline="central" font-size="17.2" fill="#000">150<tspan font-size="13.5" dx="0.2" dy="-8">o</tspan><tspan dy="8">W</tspan></text>
<line x1="396.25" y1="678.54" x2="390.19" y2="682.04" stroke="#1a1a1a" stroke-width="1"/>
<text transform="translate(378.93,688.54) rotate(60) translate(1.75,3.5)" text-anchor="middle" dominant-baseline="central" font-size="17.2" fill="#000">120<tspan font-size="13.5" dx="0.2" dy="-8">o</tspan><tspan dy="8">W</tspan></text>
<line x1="349.03" y1="502.30" x2="342.03" y2="502.30" stroke="#1a1a1a" stroke-width="1"/>
<text transform="translate(329.03,502.30) rotate(-90) translate(1.75,3.5)" text-anchor="middle" dominant-baseline="central" font-size="17.2" fill="#000">90<tspan font-size="13.5" dx="0.2" dy="-8">o</tspan><tspan dy="8">W</tspan></text>
<line x1="396.25" y1="326.06" x2="390.19" y2="322.56" stroke="#1a1a1a" stroke-width="1"/>
<text transform="translate(378.93,316.06) rotate(300) translate(1.75,3.5)" text-anchor="middle" dominant-baseline="central" font-size="17.2" fill="#000">60<tspan font-size="13.5" dx="0.2" dy="-8">o</tspan><tspan dy="8">W</tspan></text>
<line x1="525.26" y1="197.05" x2="521.76" y2="190.99" stroke="#1a1a1a" stroke-width="1"/>
<text transform="translate(515.26,179.73) rotate(330) translate(1.75,3.5)" text-anchor="middle" dominant-baseline="central" font-size="17.2" fill="#000">30<tspan font-size="13.5" dx="0.2" dy="-8">o</tspan><tspan dy="8">W</tspan></text>
<line x1="693" y1="534.29" x2="707" y2="534.29" stroke="#111" stroke-width="1.2"/>
<text x="716" y="545.29" font-size="17.2" fill="#000">84<tspan font-size="13.5" dx="1" dy="-7">o</tspan><tspan dy="7">S</tspan></text>
<line x1="690" y1="598.99" x2="704" y2="598.99" stroke="#111" stroke-width="1.2"/>
<text x="714" y="609.99" font-size="17.2" fill="#000">72<tspan font-size="13.5" dx="1" dy="-7">o</tspan><tspan dy="7">S</tspan></text>
<line x1="686.5" y1="665.88" x2="701.4" y2="665.88" stroke="#111" stroke-width="1.2"/>
<text x="709" y="676.88" font-size="17.2" fill="#000">60<tspan font-size="13.5" dx="1" dy="-7">o</tspan><tspan dy="7">S</tspan></text>
<line x1="683.2" y1="736.65" x2="697.5" y2="736.65" stroke="#111" stroke-width="1.2"/>
<text x="705.8" y="747.65" font-size="17.2" fill="#000">48<tspan font-size="13.5" dx="1" dy="-7">o</tspan><tspan dy="7">S</tspan></text>
<line x1="679.6" y1="813.37" x2="692.9" y2="813.37" stroke="#111" stroke-width="1.2"/>
<text x="701.8" y="824.37" font-size="17.2" fill="#000">36<tspan font-size="13.5" dx="1" dy="-7">o</tspan><tspan dy="7">S</tspan></text>
<text x="710" y="68" text-anchor="middle" font-size="31.5" font-weight="bold" fill="#000">AVHRR Meridional Sea Surface Temperature Gradient</text>
<text x="701.6" y="108" text-anchor="middle" font-size="25.5" font-weight="bold" fill="#000">2011-02-12</text>
<rect x="376" y="911.5" width="658" height="19" fill="url(#cb)" stroke="#262626" stroke-width="1"/>
<text x="376.00" y="956.3" text-anchor="middle" font-size="17.2" fill="#262626">-0.06</text>
<line x1="485.67" y1="924" x2="485.67" y2="930.5" stroke="#262626" stroke-width="1"/>
<text x="485.67" y="956.3" text-anchor="middle" font-size="17.2" fill="#262626">-0.04</text>
<line x1="595.33" y1="924" x2="595.33" y2="930.5" stroke="#262626" stroke-width="1"/>
<text x="595.33" y="956.3" text-anchor="middle" font-size="17.2" fill="#262626">-0.02</text>
<line x1="705.00" y1="924" x2="705.00" y2="930.5" stroke="#262626" stroke-width="1"/>
<text x="705.00" y="956.3" text-anchor="middle" font-size="17.2" fill="#262626">0</text>
<line x1="814.67" y1="924" x2="814.67" y2="930.5" stroke="#262626" stroke-width="1"/>
<text x="814.67" y="956.3" text-anchor="middle" font-size="17.2" fill="#262626">0.02</text>
<line x1="924.33" y1="924" x2="924.33" y2="930.5" stroke="#262626" stroke-width="1"/>
<text x="924.33" y="956.3" text-anchor="middle" font-size="17.2" fill="#262626">0.04</text>
<text x="1034.00" y="956.3" text-anchor="middle" font-size="17.2" fill="#262626">0.06</text>
<text x="706" y="979" text-anchor="middle" font-size="17.2" fill="#262626"><tspan font-size="11" dy="-7">o</tspan><tspan dy="7">C/km</tspan></text></svg></body></html>
